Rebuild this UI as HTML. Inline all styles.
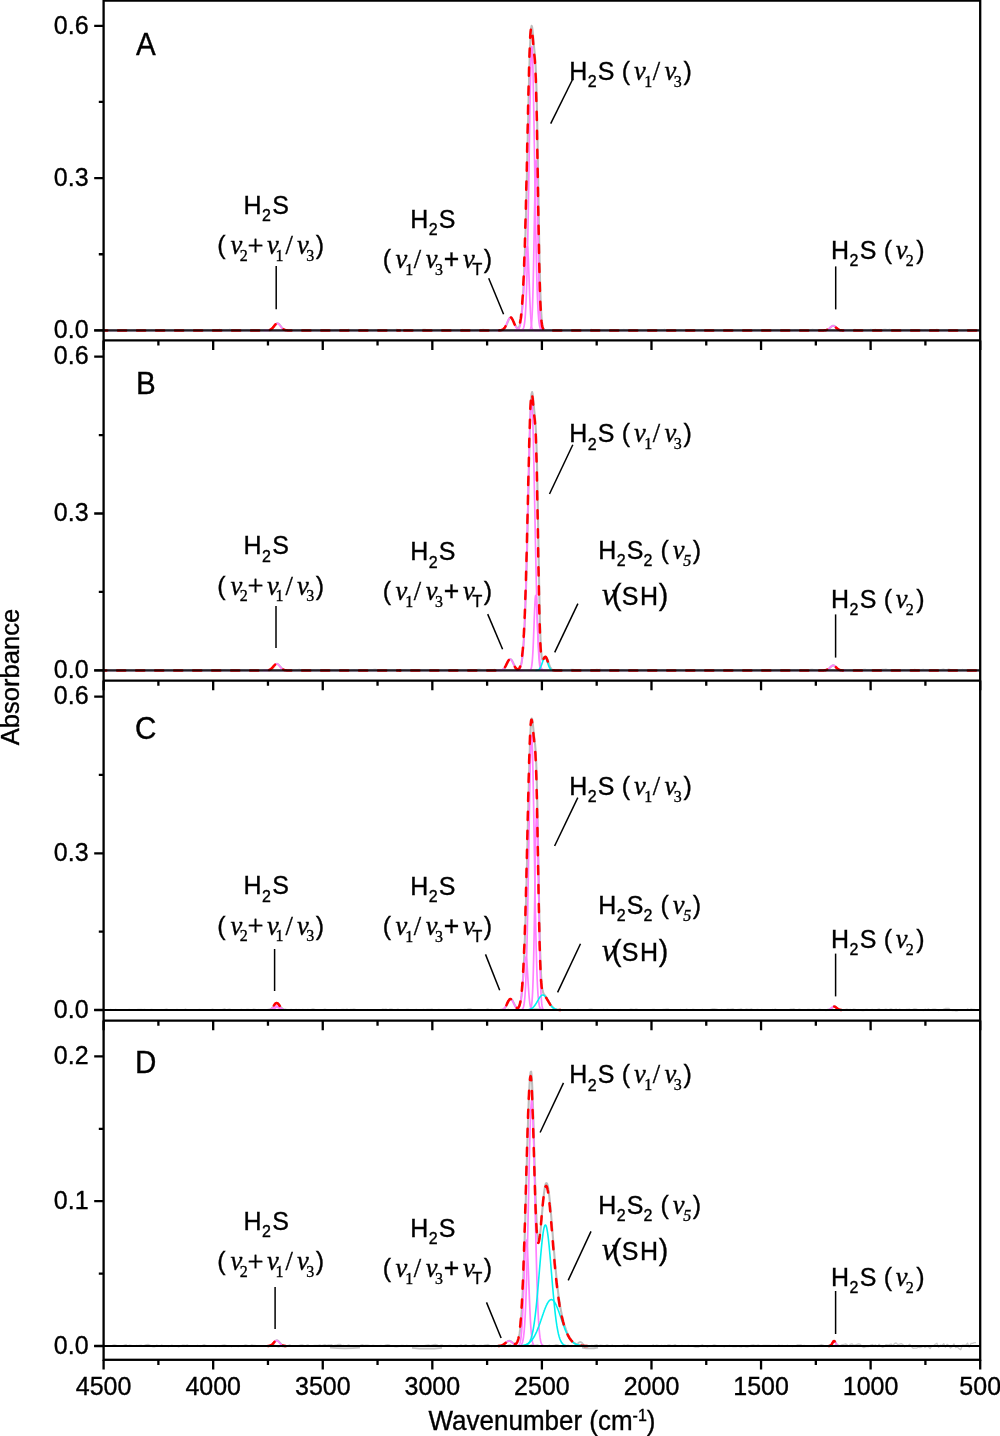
<!DOCTYPE html>
<html lang="en"><head><meta charset="utf-8"><title>Absorbance spectra</title>
<style>html,body{margin:0;padding:0;background:#fff}svg{display:block}</style></head>
<body>
<svg width="1000" height="1436" viewBox="0 0 1000 1436">
<rect width="1000" height="1436" fill="#fff"/>
<g fill="none" stroke-linejoin="round">
<path d="M267.6,330.3 L268.1,330.3 L268.6,330.3 L269.1,330.2 L269.6,330.1 L270.1,329.9 L270.6,329.7 L271.1,329.5 L271.6,329.2 L272.1,328.8 L272.6,328.3 L273.1,327.7 L273.6,327.1 L274.1,326.5 L274.6,325.8 L275.1,325.2 L275.6,324.6 L276.1,324.1 L276.6,323.7 L277.1,323.4 L277.6,323.4 L278.1,323.5 L278.6,323.7 L279.1,324.1 L279.6,324.7 L280.1,325.3 L280.6,325.9 L281.1,326.6 L281.6,327.2 L282.1,327.8 L282.6,328.4 L283.1,328.8 L283.6,329.2 L284.1,329.5 L284.6,329.8 L285.1,330.0 L285.6,330.1 L286.1,330.2 L286.6,330.3 L287.1,330.3 L287.6,330.3 M500.1,330.3 L500.6,330.3 L501.1,330.2 L501.6,330.1 L502.1,330.0 L502.6,329.8 L503.1,329.6 L503.6,329.2 L504.1,328.8 L504.6,328.2 L505.1,327.5 L505.6,326.7 L506.1,325.8 L506.6,324.7 L507.1,323.5 L507.6,322.4 L508.1,321.2 L508.6,320.0 L509.1,319.0 L509.6,318.2 L510.1,317.7 L510.6,317.4 L511.1,317.4 L511.6,317.7 L512.1,318.2 L512.6,319.0 L513.1,320.0 L513.6,321.2 L514.1,322.3 L514.6,323.5 L515.1,324.6 L515.6,325.6 L516.1,326.5 L516.6,327.2 L517.1,327.7 L517.6,327.9 L518.1,327.9 L518.6,327.5 L519.1,326.8 L519.6,325.6 L520.1,323.8 L520.6,321.5 L521.1,318.3 L521.6,314.2 L522.1,309.1 L522.6,302.7 L523.1,294.9 L523.6,285.5 L524.1,274.3 L524.6,261.3 L525.1,246.3 L525.6,229.3 L526.1,210.3 L526.6,189.7 L527.1,167.7 L527.6,144.8 L528.1,121.8 L528.6,99.5 L529.1,78.8 L529.6,60.6 L530.1,45.7 L530.6,34.9 L531.1,28.3 L531.6,25.9 L532.1,27.2 L532.6,31.2 L533.1,36.6 L533.6,42.3 L534.1,47.7 L534.6,52.7 L535.1,58.2 L535.6,65.9 L536.1,77.4 L536.6,94.4 L537.1,117.1 L537.6,144.8 L538.1,175.7 L538.6,207.2 L539.1,236.9 L539.6,262.7 L540.1,283.6 L540.6,299.5 L541.1,310.8 L541.6,318.4 L542.1,323.3 L542.6,326.2 L543.1,328.0 L543.6,329.0 L544.1,329.6 L544.6,330.0 L545.1,330.1 L545.6,330.3 L546.1,330.3 L546.6,330.4 M824.6,330.3 L825.1,330.3 L825.6,330.2 L826.1,330.2 L826.6,330.0 L827.1,329.9 L827.6,329.7 L828.1,329.4 L828.6,329.1 L829.1,328.7 L829.6,328.3 L830.1,327.8 L830.6,327.4 L831.1,326.9 L831.6,326.5 L832.1,326.2 L832.6,325.9 L833.1,325.8 L833.6,325.8 L834.1,325.9 L834.6,326.2 L835.1,326.5 L835.6,326.9 L836.1,327.4 L836.6,327.8 L837.1,328.3 L837.6,328.7 L838.1,329.1 L838.6,329.4 L839.1,329.7 L839.6,329.9 L840.1,330.0 L840.6,330.2 L841.1,330.2 L841.6,330.3 L842.1,330.3" stroke="#bdbdbd" stroke-width="2.1"/>
<path d="M105.6,330.3 L107.3,330.5 L109.0,330.1 L110.7,330.5 L112.4,330.2 L114.1,330.3 L115.8,330.6 L117.5,330.3 L119.2,330.6 L120.9,330.3 L122.6,330.6 L124.3,330.7 L126.0,330.4 L127.7,329.9 L129.4,330.4 L131.1,330.5 L132.8,330.1 L134.5,329.7 L136.2,329.9 L137.9,330.1 L139.6,329.6 L141.3,330.4 L143.0,329.8 L144.7,330.2 L146.4,330.5 L148.1,330.6 L149.8,330.5 L151.5,329.9 L153.2,330.4 L154.9,330.1 L156.6,330.0 L158.3,330.2 L160.0,330.1 L161.7,330.5 L163.4,330.7 L165.1,330.6 L166.8,330.1 L168.5,330.2 L170.2,330.3 L171.9,330.1 L173.6,330.1 L175.3,330.3 L177.0,329.9 L178.7,329.8 L180.4,330.3 L182.1,330.1 L183.8,330.1 L185.5,329.7 L187.2,329.7 L188.9,330.2 L190.6,329.6 L192.3,330.3 L194.0,330.3 L195.7,329.9 L197.4,330.4 L199.1,330.2 L200.8,330.6 L202.5,330.1 L204.2,329.8 L205.9,329.9 L207.6,329.7 L209.3,330.1 L211.0,329.9 L212.7,329.9 L214.4,330.0 L216.1,330.1 L217.8,329.8 L219.5,329.5 L221.2,329.9 L222.9,329.9 L224.6,330.5 L226.3,330.0 L228.0,329.9 L229.7,329.5 L231.4,329.6 L233.1,330.1 L234.8,330.2 L236.5,330.0 L238.2,330.5 L239.9,330.3 L241.6,330.5 L243.3,330.6 L245.0,330.7 L246.7,330.1 L248.4,330.5 L250.1,330.5 L251.8,330.3 L253.5,329.8 L255.2,330.4 L256.9,330.3 L258.6,330.1 L260.3,329.7 L262.0,329.6 L263.7,329.6 L265.4,330.1 L267.1,330.2 L268.8,330.3 L270.5,329.8 L272.2,329.5 L273.9,330.2 L275.6,330.5 L277.3,330.5 L279.0,330.5 L280.7,330.3 L282.4,330.1 L284.1,330.3 L285.8,330.7 L287.5,330.4 L289.2,330.3 L290.9,330.1 L292.6,329.7 L294.3,329.8 L296.0,330.0 L297.7,329.9 L299.4,329.9 L301.1,330.5 L302.8,329.8 L304.5,329.7 L306.2,329.6 L307.9,329.6 L309.6,330.0 L311.3,330.2 L313.0,330.5 L314.7,330.1 L316.4,330.5 L318.1,330.7 L319.8,330.6 L321.5,330.6 L323.2,330.4 L324.9,330.7 L326.6,330.8 L328.3,330.7 L330.0,330.7 L331.7,330.4 L333.4,330.7 L335.1,329.9 L336.8,329.9 L338.5,330.4 L340.2,330.4 L341.9,330.4 L343.6,330.3 L345.3,330.6 L347.0,329.9 L348.7,329.5 L350.4,329.9 L352.1,330.1 L353.8,330.5 L355.5,330.6 L357.2,330.4 L358.9,330.5 L360.6,329.9 L362.3,330.4 L364.0,330.7 L365.7,329.8 L367.4,330.0 L369.1,330.4 L370.8,330.2 L372.5,330.6 L374.2,330.2 L375.9,329.7 L377.6,329.6 L379.3,329.7 L381.0,330.2 L382.7,330.3 L384.4,330.5 L386.1,330.0 L387.8,330.0 L389.5,329.8 L391.2,330.2 L392.9,330.4 L394.6,329.9 L396.3,329.5 L398.0,329.6 L399.7,329.6 L401.4,329.6 L403.1,329.7 L404.8,330.2 L406.5,330.1 L408.2,330.3 L409.9,330.6 L411.6,330.8 L413.3,330.6 L415.0,330.5 L416.7,330.0 L418.4,329.6 L420.1,330.0 L421.8,329.6 L423.5,329.4 L425.2,329.4 L426.9,330.0 L428.6,330.3 L430.3,330.5 L432.0,330.5 L433.7,330.5 L435.4,330.1 L437.1,329.7 L438.8,329.6 L440.5,330.0 L442.2,329.9 L443.9,329.7 L445.6,330.4 L447.3,330.0 L449.0,329.7 L450.7,329.7 L452.4,329.7 L454.1,330.0 L455.8,330.4 L457.5,329.9 L459.2,330.2 L460.9,329.8 L462.6,329.5 L464.3,330.0 L466.0,330.2 L467.7,329.7 L469.4,329.7 L471.1,330.3 L472.8,330.5 L474.5,330.6 L476.2,329.9 L477.9,329.7 L479.6,330.3 L481.3,329.8 L483.0,329.5 L484.7,329.7 L486.4,330.1 L488.1,330.1 L489.8,330.5 L491.5,330.7 L493.2,329.8 L494.9,329.9 L496.6,330.0 L498.3,329.6 L500.0,330.0 L501.7,329.7 L503.4,329.6 L505.1,330.2 L506.8,330.4 L508.5,330.4 L510.2,330.5 L511.9,330.1 L513.6,330.4 L515.3,330.3 L517.0,330.5 L518.7,329.8 L520.4,330.2 L522.1,330.2 L523.8,330.0 L525.5,329.7 L527.2,330.0 L528.9,329.7 L530.6,329.9 L532.3,330.0 L534.0,330.0 L535.7,330.6 L537.4,330.3 L539.1,330.5 L540.8,330.7 L542.5,330.0 L544.2,330.4 L545.9,330.2 L547.6,329.9 L549.3,330.0 L551.0,330.2 L552.7,330.1 L554.4,330.1 L556.1,329.8 L557.8,330.4 L559.5,330.1 L561.2,330.4 L562.9,330.4 L564.6,329.9 L566.3,330.0 L568.0,330.0 L569.7,329.8 L571.4,329.6 L573.1,330.0 L574.8,329.9 L576.5,330.0 L578.2,330.1 L579.9,329.9 L581.6,330.1 L583.3,330.1 L585.0,330.1 L586.7,329.7 L588.4,329.7 L590.1,329.6 L591.8,329.5 L593.5,330.1 L595.2,330.0 L596.9,329.6 L598.6,329.6 L600.3,330.3 L602.0,330.5 L603.7,330.3 L605.4,330.6 L607.1,330.5 L608.8,330.7 L610.5,330.1 L612.2,329.8 L613.9,329.6 L615.6,330.3 L617.3,329.9 L619.0,329.9 L620.7,330.4 L622.4,329.8 L624.1,329.5 L625.8,330.2 L627.5,329.7 L629.2,330.1 L630.9,330.1 L632.6,329.6 L634.3,329.6 L636.0,330.3 L637.7,330.2 L639.4,330.1 L641.1,330.3 L642.8,330.5 L644.5,330.4 L646.2,330.0 L647.9,330.5 L649.6,330.2 L651.3,330.2 L653.0,330.6 L654.7,330.4 L656.4,330.1 L658.1,330.1 L659.8,330.5 L661.5,329.8 L663.2,329.7 L664.9,329.5 L666.6,330.3 L668.3,330.4 L670.0,330.7 L671.7,330.0 L673.4,330.3 L675.1,330.5 L676.8,330.3 L678.5,329.8 L680.2,329.7 L681.9,330.2 L683.6,330.5 L685.3,329.8 L687.0,329.9 L688.7,329.8 L690.4,330.4 L692.1,330.7 L693.8,330.1 L695.5,330.2 L697.2,330.6 L698.9,329.8 L700.6,329.9 L702.3,329.7 L704.0,330.4 L705.7,329.8 L707.4,330.4 L709.1,329.9 L710.8,330.1 L712.5,330.2 L714.2,330.1 L715.9,329.7 L717.6,330.2 L719.3,330.5 L721.0,330.2 L722.7,330.4 L724.4,330.6 L726.1,330.6 L727.8,330.7 L729.5,330.6 L731.2,330.5 L732.9,330.4 L734.6,330.0 L736.3,330.3 L738.0,330.2 L739.7,330.4 L741.4,330.4 L743.1,330.7 L744.8,330.6 L746.5,330.7 L748.2,330.1 L749.9,330.0 L751.6,330.4 L753.3,330.2 L755.0,329.7 L756.7,330.4 L758.4,329.9 L760.1,330.1 L761.8,330.1 L763.5,329.8 L765.2,330.1 L766.9,330.1 L768.6,329.9 L770.3,329.6 L772.0,330.1 L773.7,329.8 L775.4,329.8 L777.1,329.8 L778.8,330.1 L780.5,330.3 L782.2,330.6 L783.9,330.6 L785.6,330.7 L787.3,330.1 L789.0,330.3 L790.7,330.5 L792.4,330.7 L794.1,330.0 L795.8,329.7 L797.5,329.8 L799.2,330.2 L800.9,330.4 L802.6,330.4 L804.3,330.3 L806.0,330.5 L807.7,330.3 L809.4,330.4 L811.1,329.7 L812.8,329.5 L814.5,329.8 L816.2,330.3 L817.9,329.7 L819.6,330.2 L821.3,330.3 L823.0,330.7 L824.7,330.4 L826.4,330.2 L828.1,330.1 L829.8,330.5 L831.5,330.2 L833.2,330.7 L834.9,330.6 L836.6,330.7 L838.3,330.4 L840.0,330.8 L841.7,330.9 L843.4,330.6 L845.1,330.6 L846.8,330.2 L848.5,330.1 L850.2,329.8 L851.9,329.8 L853.6,329.7 L855.3,329.5 L857.0,330.0 L858.7,330.3 L860.4,329.6 L862.1,330.4 L863.8,329.9 L865.5,329.8 L867.2,330.6 L868.9,329.8 L870.6,329.5 L872.3,329.7 L874.0,329.7 L875.7,329.5 L877.4,330.4 L879.1,330.2 L880.8,330.1 L882.5,329.6 L884.2,329.5 L885.9,329.4 L887.6,329.8 L889.3,329.4 L891.0,329.6 L892.7,329.7 L894.4,330.3 L896.1,330.8 L897.8,330.9 L899.5,330.6 L901.2,330.8 L902.9,329.9 L904.6,329.9 L906.3,329.9 L908.0,329.8 L909.7,329.7 L911.4,330.0 L913.1,330.8 L914.8,329.9 L916.5,329.7 L918.2,329.9 L919.9,330.0 L921.6,329.8 L923.3,330.7 L925.0,329.9 L926.7,330.4 L928.4,330.9 L930.1,330.7 L931.8,330.0 L933.5,330.5 L935.2,329.9 L936.9,329.3 L938.6,329.8 L940.3,330.2 L942.0,330.2 L943.7,329.8 L945.4,329.6 L947.1,329.7 L948.8,329.7 L950.5,330.7 L952.2,330.9 L953.9,330.8 L955.6,329.9 L957.3,330.4 L959.0,330.1 L960.7,330.9 L962.4,331.1 L964.1,330.9 L965.8,330.1 L967.5,329.8 L969.2,329.7 L970.9,330.3 L972.6,330.1 L974.3,330.2 L976.0,330.2" stroke="#cbcbcb" stroke-width="1.3"/>
<path d="M103.6,330.4 H980.2" stroke="#c9b3d6" stroke-width="2.5"/>
<path d="M263.8,330.4 L266.8,330.4 L267.0,330.4 L267.2,330.3 L267.4,330.3 L267.6,330.3 L267.8,330.3 L268.0,330.3 L268.2,330.3 L268.4,330.2 L268.6,330.2 L268.8,330.2 L269.0,330.1 L269.2,330.1 L269.4,330.1 L269.6,330.0 L269.8,329.9 L270.0,329.9 L270.2,329.8 L270.4,329.7 L270.6,329.6 L270.8,329.5 L271.0,329.4 L271.2,329.2 L271.4,329.1 L271.6,328.9 L271.8,328.7 L272.0,328.6 L272.2,328.4 L272.4,328.2 L272.6,328.0 L272.8,327.7 L273.0,327.5 L273.2,327.2 L273.4,327.0 L273.6,326.7 L273.8,326.5 L274.0,326.2 L274.2,325.9 L274.4,325.7 L274.6,325.4 L274.8,325.2 L275.0,324.9 L275.2,324.7 L275.4,324.5 L275.6,324.3 L275.8,324.1 L276.0,323.9 L276.2,323.8 L276.4,323.6 L276.6,323.5 L276.8,323.5 L277.0,323.4 L277.2,323.4 L277.4,323.4 L277.6,323.4 L277.8,323.5 L278.0,323.6 L278.2,323.7 L278.4,323.8 L278.6,324.0 L278.8,324.2 L279.0,324.4 L279.2,324.6 L279.4,324.8 L279.6,325.1 L279.8,325.3 L280.0,325.6 L280.2,325.8 L280.4,326.1 L280.6,326.4 L280.8,326.6 L281.0,326.9 L281.2,327.1 L281.4,327.4 L281.6,327.6 L281.8,327.9 L282.0,328.1 L282.2,328.3 L282.4,328.5 L282.6,328.7 L282.8,328.9 L283.0,329.0 L283.2,329.2 L283.4,329.3 L283.6,329.4 L283.8,329.5 L284.0,329.6 L284.2,329.7 L284.4,329.8 L284.6,329.9 L284.8,330.0 L285.0,330.0 L285.2,330.1 L285.4,330.1 L285.6,330.2 L285.8,330.2 L286.0,330.2 L286.2,330.3 L286.4,330.3 L286.6,330.3 L286.8,330.3 L287.0,330.3 L287.2,330.3 L287.4,330.4 L287.6,330.4 L290.6,330.4" stroke="#ff80ff" stroke-width="1.7"/>
<path d="M496.6,330.4 L499.2,330.4 L499.4,330.4 L499.6,330.3 L499.8,330.3 L500.0,330.3 L500.2,330.3 L500.4,330.3 L500.6,330.3 L500.8,330.2 L501.0,330.2 L501.2,330.1 L501.4,330.1 L501.6,330.0 L501.8,330.0 L502.0,329.9 L502.2,329.8 L502.4,329.7 L502.6,329.6 L502.8,329.5 L503.0,329.4 L503.2,329.2 L503.4,329.1 L503.6,328.9 L503.8,328.7 L504.0,328.5 L504.2,328.2 L504.4,328.0 L504.6,327.7 L504.8,327.4 L505.0,327.1 L505.2,326.8 L505.4,326.4 L505.6,326.0 L505.8,325.6 L506.0,325.2 L506.2,324.7 L506.4,324.3 L506.6,323.8 L506.8,323.4 L507.0,322.9 L507.2,322.4 L507.4,321.9 L507.6,321.5 L507.8,321.0 L508.0,320.6 L508.2,320.1 L508.4,319.7 L508.6,319.3 L508.8,318.9 L509.0,318.6 L509.2,318.3 L509.4,318.1 L509.6,317.8 L509.8,317.7 L510.0,317.5 L510.2,317.4 L510.4,317.4 L510.6,317.4 L510.8,317.5 L511.0,317.6 L511.2,317.7 L511.4,317.9 L511.6,318.2 L511.8,318.4 L512.0,318.7 L512.2,319.1 L512.4,319.5 L512.6,319.9 L512.8,320.3 L513.0,320.7 L513.2,321.2 L513.4,321.7 L513.6,322.1 L513.8,322.6 L514.0,323.1 L514.2,323.6 L514.4,324.0 L514.6,324.5 L514.8,324.9 L515.0,325.4 L515.2,325.8 L515.4,326.2 L515.6,326.5 L515.8,326.9 L516.0,327.2 L516.2,327.5 L516.4,327.8 L516.6,328.1 L516.8,328.3 L517.0,328.6 L517.2,328.8 L517.4,329.0 L517.6,329.1 L517.8,329.3 L518.0,329.4 L518.2,329.6 L518.4,329.7 L518.6,329.8 L518.8,329.9 L519.0,329.9 L519.2,330.0 L519.4,330.1 L519.6,330.1 L519.8,330.2 L520.0,330.2 L520.2,330.2 L520.4,330.3 L520.6,330.3 L520.8,330.3 L521.0,330.3 L521.2,330.3 L521.4,330.3 L521.6,330.4 L521.8,330.4 L524.2,330.4" stroke="#ff80ff" stroke-width="1.7"/>
<path d="M514.7,330.4 L515.5,330.4 L515.7,330.4 L515.9,330.3 L516.1,330.3 L516.3,330.3 L516.5,330.3 L516.7,330.2 L516.9,330.2 L517.1,330.1 L517.3,330.1 L517.5,330.0 L517.7,329.9 L517.9,329.8 L518.1,329.6 L518.3,329.5 L518.5,329.3 L518.7,329.0 L518.9,328.7 L519.1,328.4 L519.3,328.0 L519.5,327.5 L519.7,327.0 L519.9,326.4 L520.1,325.7 L520.3,324.9 L520.5,324.0 L520.7,322.9 L520.9,321.8 L521.1,320.5 L521.3,319.0 L521.5,317.4 L521.7,315.7 L521.9,313.8 L522.1,311.7 L522.3,309.5 L522.5,307.0 L522.7,304.5 L522.9,301.7 L523.1,298.9 L523.3,295.9 L523.5,292.7 L523.7,289.5 L523.9,286.2 L524.1,282.8 L524.3,279.5 L524.5,276.1 L524.7,272.7 L524.9,269.4 L525.1,266.2 L525.3,263.1 L525.5,260.2 L525.7,257.5 L525.9,255.1 L526.1,252.9 L526.3,250.9 L526.5,249.3 L526.7,248.1 L526.9,247.1 L527.1,246.6 L527.3,246.4 L527.5,246.9 L527.7,248.4 L527.9,250.9 L528.1,254.3 L528.3,258.4 L528.5,263.1 L528.7,268.3 L528.9,273.8 L529.1,279.5 L529.3,285.1 L529.5,290.6 L529.7,295.9 L529.9,300.8 L530.1,305.3 L530.3,309.5 L530.5,313.1 L530.7,316.3 L530.9,319.0 L531.1,321.4 L531.3,323.3 L531.5,324.9 L531.7,326.2 L531.9,327.2 L532.1,328.0 L532.3,328.6 L532.5,329.1 L532.7,329.5 L532.9,329.7 L533.1,329.9 L533.3,330.1 L533.5,330.2 L533.7,330.2 L533.9,330.3 L534.1,330.3 L534.3,330.4 L534.5,330.4 L539.9,330.4" stroke="#ff80ff" stroke-width="1.7"/>
<path d="M520.5,330.4 L520.7,330.3 L520.9,330.3 L521.1,330.3 L521.3,330.3 L521.5,330.2 L521.7,330.2 L521.9,330.1 L522.1,330.0 L522.3,329.8 L522.5,329.7 L522.7,329.5 L522.9,329.2 L523.1,328.9 L523.3,328.5 L523.5,328.0 L523.7,327.4 L523.9,326.6 L524.1,325.7 L524.3,324.6 L524.5,323.3 L524.7,321.8 L524.9,320.0 L525.1,317.8 L525.3,315.3 L525.5,312.4 L525.7,309.0 L525.9,305.1 L526.1,300.8 L526.3,295.8 L526.5,290.2 L526.7,284.0 L526.9,277.1 L527.1,269.6 L527.3,261.3 L527.5,252.4 L527.7,242.7 L527.9,232.5 L528.1,221.6 L528.3,210.2 L528.5,198.3 L528.7,186.0 L528.9,173.4 L529.1,160.7 L529.3,147.9 L529.5,135.3 L529.7,123.0 L529.9,111.0 L530.1,99.7 L530.3,89.0 L530.5,79.3 L530.7,70.6 L530.9,63.1 L531.1,56.9 L531.3,52.0 L531.5,48.6 L531.7,46.8 L531.9,46.5 L532.1,47.7 L532.3,50.5 L532.5,54.8 L532.7,60.4 L532.9,67.5 L533.1,75.7 L533.3,85.0 L533.5,95.3 L533.7,106.4 L533.9,118.1 L534.1,130.3 L534.3,142.9 L534.5,155.6 L534.7,168.3 L534.9,181.0 L535.1,193.4 L535.3,205.5 L535.5,217.1 L535.7,228.2 L535.9,238.7 L536.1,248.6 L536.3,257.8 L536.5,266.4 L536.7,274.2 L536.9,281.3 L537.1,287.8 L537.3,293.6 L537.5,298.8 L537.7,303.5 L537.9,307.5 L538.1,311.1 L538.3,314.2 L538.5,316.8 L538.7,319.1 L538.9,321.1 L539.1,322.8 L539.3,324.2 L539.5,325.3 L539.7,326.3 L539.9,327.1 L540.1,327.8 L540.3,328.3 L540.5,328.7 L540.7,329.1 L540.9,329.4 L541.1,329.6 L541.3,329.8 L541.5,329.9 L541.7,330.0 L541.9,330.1 L542.1,330.2 L542.3,330.2 L542.5,330.3 L542.7,330.3 L542.9,330.3 L543.1,330.4" stroke="#ff80ff" stroke-width="1.7"/>
<path d="M528.5,330.4 L528.7,330.4 L528.9,330.3 L529.1,330.3 L529.3,330.3 L529.5,330.2 L529.7,330.1 L529.9,329.9 L530.1,329.7 L530.3,329.4 L530.5,329.0 L530.7,328.4 L530.9,327.6 L531.1,326.6 L531.3,325.2 L531.5,323.5 L531.7,321.4 L531.9,318.6 L532.1,315.3 L532.3,311.2 L532.5,306.4 L532.7,300.6 L532.9,294.0 L533.1,286.4 L533.3,277.9 L533.5,268.6 L533.7,258.4 L533.9,247.7 L534.1,236.4 L534.3,225.0 L534.5,213.6 L534.7,202.6 L534.9,192.3 L535.1,182.9 L535.3,174.9 L535.5,168.4 L535.7,163.8 L535.9,161.1 L536.1,160.4 L536.3,161.9 L536.5,165.4 L536.7,170.8 L536.9,177.9 L537.1,186.5 L537.3,196.3 L537.5,207.0 L537.7,218.1 L537.9,229.6 L538.1,241.0 L538.3,252.0 L538.5,262.6 L538.7,272.4 L538.9,281.4 L539.1,289.6 L539.3,296.8 L539.5,303.0 L539.7,308.4 L539.9,312.9 L540.1,316.7 L540.3,319.8 L540.5,322.3 L540.7,324.3 L540.9,325.8 L541.1,327.0 L541.3,327.9 L541.5,328.6 L541.7,329.1 L541.9,329.5 L542.1,329.8 L542.3,330.0 L542.5,330.1 L542.7,330.2 L542.9,330.3 L543.1,330.3 L543.3,330.3 L543.5,330.4" stroke="#ff80ff" stroke-width="1.7"/>
<path d="M820.4,330.4 L823.6,330.4 L823.8,330.4 L824.0,330.3 L824.2,330.3 L824.4,330.3 L824.6,330.3 L824.8,330.3 L825.0,330.3 L825.2,330.2 L825.4,330.2 L825.6,330.2 L825.8,330.1 L826.0,330.1 L826.2,330.0 L826.4,330.0 L826.6,329.9 L826.8,329.9 L827.0,329.8 L827.2,329.7 L827.4,329.6 L827.6,329.5 L827.8,329.4 L828.0,329.3 L828.2,329.1 L828.4,329.0 L828.6,328.8 L828.8,328.7 L829.0,328.5 L829.2,328.3 L829.4,328.2 L829.6,328.0 L829.8,327.8 L830.0,327.6 L830.2,327.4 L830.4,327.2 L830.6,327.1 L830.8,326.9 L831.0,326.7 L831.2,326.6 L831.4,326.4 L831.6,326.3 L831.8,326.2 L832.0,326.0 L832.2,326.0 L832.4,325.9 L832.6,325.8 L832.8,325.8 L833.0,325.8 L833.2,325.8 L833.4,325.8 L833.6,325.9 L833.8,326.0 L834.0,326.0 L834.2,326.2 L834.4,326.3 L834.6,326.4 L834.8,326.6 L835.0,326.7 L835.2,326.9 L835.4,327.1 L835.6,327.2 L835.8,327.4 L836.0,327.6 L836.2,327.8 L836.4,328.0 L836.6,328.2 L836.8,328.3 L837.0,328.5 L837.2,328.7 L837.4,328.8 L837.6,329.0 L837.8,329.1 L838.0,329.3 L838.2,329.4 L838.4,329.5 L838.6,329.6 L838.8,329.7 L839.0,329.8 L839.2,329.9 L839.4,329.9 L839.6,330.0 L839.8,330.0 L840.0,330.1 L840.2,330.1 L840.4,330.2 L840.6,330.2 L840.8,330.2 L841.0,330.3 L841.2,330.3 L841.4,330.3 L841.6,330.3 L841.8,330.3 L842.0,330.3 L842.2,330.4 L842.4,330.4 L845.6,330.4" stroke="#ff80ff" stroke-width="1.7"/>
<path d="M103.6,330.4 L266.9,330.4 L267.1,330.4 L267.4,330.3 L267.6,330.3 L267.9,330.3 L268.1,330.3 L268.4,330.2 L268.6,330.2 L268.9,330.2 L269.1,330.1 L269.4,330.1 L269.6,330.0 L269.9,329.9 L270.1,329.8 L270.4,329.7 L270.6,329.6 L270.9,329.4 L271.1,329.3 L271.4,329.1 L271.6,328.9 L271.9,328.7 L272.1,328.4 L272.4,328.2 L272.6,327.9 L272.9,327.6 L273.1,327.3 L273.4,327.0 L273.6,326.7 L273.9,326.4 L274.1,326.0 L274.4,325.7 L274.6,325.4 L274.9,325.1 L275.1,324.8 L275.4,324.5 L275.6,324.2 L275.9,324.0 L276.1,323.8 L276.4,323.6 L276.6,323.5 L276.9,323.4 L277.1,323.4 L277.4,323.4 L277.6,323.5 L277.9,323.5 L278.1,323.7 L278.4,323.8 L278.6,324.0 L278.9,324.3 L279.1,324.5 L279.4,324.8 L279.6,325.1 L279.9,325.4 L280.1,325.8 L280.4,326.1 L280.6,326.4 L280.9,326.7 L281.1,327.1 L281.4,327.4 L281.6,327.7 L281.9,328.0 L282.1,328.2 L282.4,328.5 L282.6,328.7 L282.9,328.9 L283.1,329.1 L283.4,329.3 L283.6,329.5 L283.9,329.6 L284.1,329.7 L284.4,329.8 L284.6,329.9 L284.9,330.0 L285.1,330.1 L285.4,330.1 L285.6,330.2 L285.9,330.2 L286.1,330.3 L286.4,330.3 L286.6,330.3 L286.9,330.3 L287.1,330.3 L287.4,330.4 L287.6,330.4 L399.9,330.4" stroke="#ff0000" stroke-width="2.5" stroke-linecap="round" stroke-dasharray="8.2 10.8" stroke-dashoffset="4.6"/>
<path d="M400.0,330.4 L499.2,330.4 L499.5,330.3 L499.8,330.3 L500.0,330.3 L500.2,330.3 L500.5,330.3 L500.8,330.2 L501.0,330.2 L501.2,330.1 L501.5,330.1 L501.8,330.0 L502.0,329.9 L502.2,329.8 L502.5,329.7 L502.8,329.6 L503.0,329.4 L503.2,329.2 L503.5,329.0 L503.8,328.8 L504.0,328.5 L504.2,328.2 L504.5,327.9 L504.8,327.6 L505.0,327.2 L505.2,326.7 L505.5,326.3 L505.8,325.8 L506.0,325.3 L506.2,324.7 L506.5,324.2 L506.8,323.6 L507.0,323.0 L507.2,322.4 L507.5,321.8 L507.8,321.2 L508.0,320.6 L508.2,320.1 L508.5,319.6 L508.8,319.1 L509.0,318.7 L509.2,318.3 L509.5,318.0 L509.8,317.7 L510.0,317.5 L510.2,317.4 L510.5,317.4 L510.8,317.4 L511.0,317.5 L511.2,317.7 L511.5,318.0 L511.8,318.3 L512.0,318.7 L512.2,319.1 L512.5,319.6 L512.8,320.1 L513.0,320.6 L513.2,321.2 L513.5,321.8 L513.8,322.4 L514.0,323.0 L514.2,323.5 L514.5,324.1 L514.8,324.7 L515.0,325.2 L515.2,325.7 L515.5,326.1 L515.8,326.5 L516.0,326.9 L516.2,327.2 L516.5,327.5 L516.8,327.7 L517.0,327.8 L517.2,327.9 L517.5,327.9 L517.8,327.9 L518.0,327.7 L518.2,327.5 L518.5,327.2 L518.8,326.8 L519.0,326.2 L519.2,325.6 L519.5,324.8 L519.8,323.9 L520.0,322.8 L520.2,321.5 L520.5,320.0 L520.8,318.4 L521.0,316.4 L521.2,314.3 L521.5,311.9 L521.8,309.2 L522.0,306.2 L522.2,302.8 L522.5,299.1 L522.8,295.0 L523.0,290.6 L523.2,285.7 L523.5,280.4 L523.8,274.6 L524.0,268.4 L524.2,261.6 L524.5,254.4 L524.8,246.7 L525.0,238.5 L525.2,229.8 L525.5,220.6 L525.8,210.9 L526.0,200.8 L526.2,190.4 L526.5,179.6 L526.8,168.5 L527.0,157.2 L527.2,145.7 L527.5,134.3 L527.8,122.9 L528.0,111.6 L528.2,100.7 L528.5,90.1 L528.8,80.1 L529.0,70.6 L529.2,61.9 L529.5,54.1 L529.8,47.2 L530.0,41.2 L530.2,36.3 L530.5,32.5 L530.8,29.8 L531.0,28.1 L531.2,27.5 L531.5,27.7 L531.8,28.7 L532.0,30.4 L532.2,32.6 L532.5,35.2 L532.8,38.0 L533.0,40.9 L533.2,43.8 L533.5,46.5 L533.8,49.1 L534.0,51.6 L534.2,54.1 L534.5,56.7 L534.8,59.6 L535.0,63.0 L535.2,67.2 L535.5,72.3 L535.8,78.7 L536.0,86.4 L536.2,95.5 L536.5,106.1 L536.8,118.1 L537.0,131.4 L537.2,145.8 L537.5,160.9 L537.8,176.5 L538.0,192.3 L538.2,207.8 L538.5,223.0 L538.8,237.3 L539.0,250.7 L539.2,263.0 L539.5,274.1 L539.8,283.9 L540.0,292.4 L540.2,299.6 L540.5,305.8 L540.8,310.9 L541.0,315.1 L541.2,318.5 L541.5,321.2 L541.8,323.3 L542.0,325.0 L542.2,326.3 L542.5,327.3 L542.8,328.0 L543.0,328.6 L543.2,329.0 L543.5,329.4 L543.8,329.6 L544.0,329.8 L544.2,330.0 L544.5,330.1 L544.8,330.1 L545.0,330.2 L545.2,330.3 L545.5,330.3 L545.8,330.3 L546.0,330.3 L546.2,330.4 L546.5,330.4 L823.8,330.4 L824.0,330.3 L824.2,330.3 L824.5,330.3 L824.8,330.3 L825.0,330.3 L825.2,330.2 L825.5,330.2 L825.8,330.2 L826.0,330.1 L826.2,330.0 L826.5,330.0 L826.8,329.9 L827.0,329.8 L827.2,329.7 L827.5,329.5 L827.8,329.4 L828.0,329.3 L828.2,329.1 L828.5,328.9 L828.8,328.7 L829.0,328.5 L829.2,328.3 L829.5,328.1 L829.8,327.8 L830.0,327.6 L830.2,327.4 L830.5,327.1 L830.8,326.9 L831.0,326.7 L831.2,326.5 L831.5,326.3 L831.8,326.2 L832.0,326.0 L832.2,325.9 L832.5,325.9 L832.8,325.8 L833.0,325.8 L833.2,325.8 L833.5,325.9 L833.8,325.9 L834.0,326.0 L834.2,326.2 L834.5,326.3 L834.8,326.5 L835.0,326.7 L835.2,326.9 L835.5,327.1 L835.8,327.4 L836.0,327.6 L836.2,327.8 L836.5,328.1 L836.8,328.3 L837.0,328.5 L837.2,328.7 L837.5,328.9 L837.8,329.1 L838.0,329.3 L838.2,329.4 L838.5,329.5 L838.8,329.7 L839.0,329.8 L839.2,329.9 L839.5,330.0 L839.8,330.0 L840.0,330.1 L840.2,330.2 L840.5,330.2 L840.8,330.2 L841.0,330.3 L841.2,330.3 L841.5,330.3 L841.8,330.3 L842.0,330.3 L842.2,330.4 L980.0,330.4" stroke="#ff0000" stroke-width="2.5" stroke-linecap="round" stroke-dasharray="8.2 10.8" stroke-dashoffset="14.8"/>
<path d="M94.19999999999999,330.4 H980.2" stroke="#000" stroke-width="2.3" stroke-opacity="0.84"/>
</g>
<g fill="none" stroke-linejoin="round">
<path d="M267.1,670.3 L267.6,670.3 L268.1,670.3 L268.6,670.2 L269.1,670.1 L269.6,669.9 L270.1,669.7 L270.6,669.5 L271.1,669.2 L271.6,668.8 L272.1,668.3 L272.6,667.8 L273.1,667.2 L273.6,666.6 L274.1,666.0 L274.6,665.4 L275.1,664.9 L275.6,664.4 L276.1,664.1 L276.6,663.9 L277.1,663.9 L277.6,664.0 L278.1,664.3 L278.6,664.7 L279.1,665.2 L279.6,665.8 L280.1,666.4 L280.6,667.0 L281.1,667.6 L281.6,668.1 L282.1,668.6 L282.6,669.0 L283.1,669.4 L283.6,669.6 L284.1,669.9 L284.6,670.0 L285.1,670.1 L285.6,670.2 L286.1,670.3 L286.6,670.3 L287.1,670.4 M500.1,670.3 L500.6,670.3 L501.1,670.2 L501.6,670.1 L502.1,670.0 L502.6,669.8 L503.1,669.5 L503.6,669.2 L504.1,668.7 L504.6,668.2 L505.1,667.5 L505.6,666.7 L506.1,665.7 L506.6,664.7 L507.1,663.7 L507.6,662.6 L508.1,661.6 L508.6,660.7 L509.1,660.0 L509.6,659.4 L510.1,659.2 L510.6,659.2 L511.1,659.4 L511.6,660.0 L512.1,660.7 L512.6,661.6 L513.1,662.6 L513.6,663.7 L514.1,664.7 L514.6,665.7 L515.1,666.6 L515.6,667.4 L516.1,668.1 L516.6,668.6 L517.1,669.0 L517.6,669.3 L518.1,669.4 L518.6,669.3 L519.1,669.0 L519.6,668.4 L520.1,667.6 L520.6,666.3 L521.1,664.5 L521.6,662.1 L522.1,658.9 L522.6,654.8 L523.1,649.5 L523.6,643.0 L524.1,635.0 L524.6,625.3 L525.1,613.8 L525.6,600.3 L526.1,584.8 L526.6,567.3 L527.1,548.0 L527.6,527.1 L528.1,505.3 L528.6,483.1 L529.1,461.5 L529.6,441.4 L530.1,423.8 L530.6,409.6 L531.1,399.5 L531.6,393.7 L532.1,392.1 L532.6,394.0 L533.1,398.3 L533.6,403.7 L534.1,409.1 L534.6,414.1 L535.1,419.0 L535.6,425.2 L536.1,434.6 L536.6,449.0 L537.1,469.2 L537.6,494.8 L538.1,524.0 L538.6,554.2 L539.1,582.7 L539.6,607.3 L540.1,626.8 L540.6,641.0 L541.1,650.5 L541.6,656.1 L542.1,659.0 L542.6,660.0 L543.1,659.9 L543.6,659.2 L544.1,658.3 L544.6,657.5 L545.1,656.9 L545.6,656.7 L546.1,657.0 L546.6,657.6 L547.1,658.6 L547.6,659.9 L548.1,661.4 L548.6,662.9 L549.1,664.4 L549.6,665.7 L550.1,666.9 L550.6,667.9 L551.1,668.6 L551.6,669.2 L552.1,669.6 L552.6,669.9 L553.1,670.1 L553.6,670.2 L554.1,670.3 L554.6,670.3 M824.1,670.4 L824.6,670.3 L825.1,670.3 L825.6,670.2 L826.1,670.1 L826.6,670.0 L827.1,669.8 L827.6,669.6 L828.1,669.3 L828.6,669.0 L829.1,668.6 L829.6,668.1 L830.1,667.6 L830.6,667.1 L831.1,666.6 L831.6,666.2 L832.1,665.8 L832.6,665.5 L833.1,665.4 L833.6,665.4 L834.1,665.5 L834.6,665.8 L835.1,666.2 L835.6,666.6 L836.1,667.1 L836.6,667.6 L837.1,668.1 L837.6,668.6 L838.1,669.0 L838.6,669.3 L839.1,669.6 L839.6,669.8 L840.1,670.0 L840.6,670.1 L841.1,670.2 L841.6,670.3 L842.1,670.3 L842.6,670.4" stroke="#bdbdbd" stroke-width="2.1"/>
<path d="M105.6,670.4 L107.3,669.7 L109.0,670.3 L110.7,670.0 L112.4,670.5 L114.1,670.5 L115.8,669.7 L117.5,670.3 L119.2,670.0 L120.9,670.1 L122.6,670.2 L124.3,670.1 L126.0,670.4 L127.7,669.9 L129.4,670.4 L131.1,670.5 L132.8,670.7 L134.5,670.5 L136.2,670.3 L137.9,669.8 L139.6,670.1 L141.3,670.5 L143.0,670.5 L144.7,669.7 L146.4,670.4 L148.1,670.1 L149.8,670.2 L151.5,670.0 L153.2,670.2 L154.9,670.0 L156.6,670.1 L158.3,669.9 L160.0,669.6 L161.7,669.9 L163.4,670.4 L165.1,670.6 L166.8,669.8 L168.5,670.0 L170.2,670.4 L171.9,669.8 L173.6,669.9 L175.3,669.8 L177.0,669.6 L178.7,670.1 L180.4,670.3 L182.1,669.8 L183.8,670.4 L185.5,669.9 L187.2,670.4 L188.9,670.0 L190.6,669.9 L192.3,669.6 L194.0,669.6 L195.7,669.9 L197.4,670.3 L199.1,670.5 L200.8,670.2 L202.5,670.1 L204.2,670.5 L205.9,669.9 L207.6,670.0 L209.3,669.9 L211.0,670.3 L212.7,670.4 L214.4,670.7 L216.1,670.5 L217.8,670.5 L219.5,670.3 L221.2,670.3 L222.9,669.8 L224.6,669.6 L226.3,670.3 L228.0,670.3 L229.7,670.5 L231.4,670.1 L233.1,669.6 L234.8,670.2 L236.5,669.9 L238.2,670.2 L239.9,670.6 L241.6,670.0 L243.3,670.2 L245.0,670.5 L246.7,670.3 L248.4,670.4 L250.1,670.3 L251.8,670.2 L253.5,670.2 L255.2,670.1 L256.9,670.3 L258.6,670.6 L260.3,670.7 L262.0,670.7 L263.7,670.3 L265.4,670.3 L267.1,669.9 L268.8,670.0 L270.5,669.9 L272.2,669.5 L273.9,670.3 L275.6,670.7 L277.3,670.7 L279.0,670.4 L280.7,670.1 L282.4,669.9 L284.1,670.2 L285.8,669.7 L287.5,670.4 L289.2,669.9 L290.9,670.3 L292.6,669.8 L294.3,670.5 L296.0,669.8 L297.7,669.7 L299.4,669.5 L301.1,669.8 L302.8,670.3 L304.5,669.7 L306.2,670.0 L307.9,670.5 L309.6,670.1 L311.3,670.1 L313.0,670.1 L314.7,670.5 L316.4,670.6 L318.1,670.2 L319.8,670.2 L321.5,670.5 L323.2,670.3 L324.9,669.9 L326.6,669.8 L328.3,670.0 L330.0,670.2 L331.7,670.3 L333.4,670.4 L335.1,670.5 L336.8,670.3 L338.5,670.6 L340.2,670.0 L341.9,669.9 L343.6,669.9 L345.3,670.5 L347.0,670.4 L348.7,670.3 L350.4,670.6 L352.1,669.8 L353.8,669.7 L355.5,670.0 L357.2,669.8 L358.9,670.3 L360.6,670.4 L362.3,670.2 L364.0,669.9 L365.7,669.9 L367.4,670.5 L369.1,670.1 L370.8,669.7 L372.5,669.7 L374.2,669.5 L375.9,669.4 L377.6,670.1 L379.3,670.3 L381.0,670.1 L382.7,669.6 L384.4,670.1 L386.1,669.6 L387.8,669.6 L389.5,669.9 L391.2,669.9 L392.9,669.6 L394.6,669.6 L396.3,670.1 L398.0,669.8 L399.7,670.3 L401.4,670.3 L403.1,669.7 L404.8,669.6 L406.5,670.1 L408.2,670.3 L409.9,670.1 L411.6,669.7 L413.3,669.8 L415.0,669.6 L416.7,669.7 L418.4,669.6 L420.1,669.8 L421.8,670.1 L423.5,670.2 L425.2,670.1 L426.9,670.1 L428.6,669.8 L430.3,670.2 L432.0,670.6 L433.7,670.0 L435.4,670.3 L437.1,670.3 L438.8,670.5 L440.5,669.9 L442.2,670.3 L443.9,670.4 L445.6,669.9 L447.3,670.0 L449.0,670.3 L450.7,669.8 L452.4,670.1 L454.1,670.2 L455.8,669.7 L457.5,669.7 L459.2,669.7 L460.9,670.2 L462.6,669.8 L464.3,669.9 L466.0,669.7 L467.7,670.1 L469.4,669.8 L471.1,669.7 L472.8,670.1 L474.5,669.9 L476.2,669.8 L477.9,669.5 L479.6,669.5 L481.3,669.6 L483.0,670.3 L484.7,670.1 L486.4,669.9 L488.1,670.4 L489.8,670.3 L491.5,669.8 L493.2,669.6 L494.9,669.5 L496.6,670.3 L498.3,670.1 L500.0,669.7 L501.7,669.8 L503.4,670.2 L505.1,670.6 L506.8,669.9 L508.5,669.7 L510.2,669.8 L511.9,670.1 L513.6,669.8 L515.3,669.7 L517.0,669.7 L518.7,669.9 L520.4,670.2 L522.1,670.3 L523.8,670.3 L525.5,670.4 L527.2,670.2 L528.9,670.5 L530.6,670.0 L532.3,670.2 L534.0,670.5 L535.7,670.5 L537.4,670.3 L539.1,670.3 L540.8,669.9 L542.5,670.4 L544.2,670.5 L545.9,670.4 L547.6,670.5 L549.3,670.0 L551.0,670.5 L552.7,670.7 L554.4,670.2 L556.1,669.9 L557.8,669.7 L559.5,669.9 L561.2,670.2 L562.9,669.8 L564.6,669.7 L566.3,670.0 L568.0,670.0 L569.7,669.6 L571.4,669.4 L573.1,669.4 L574.8,670.2 L576.5,670.3 L578.2,670.3 L579.9,670.5 L581.6,670.0 L583.3,670.5 L585.0,669.9 L586.7,669.9 L588.4,669.9 L590.1,670.1 L591.8,669.7 L593.5,669.9 L595.2,669.6 L596.9,669.5 L598.6,669.7 L600.3,669.5 L602.0,669.9 L603.7,670.2 L605.4,669.8 L607.1,670.0 L608.8,670.2 L610.5,670.0 L612.2,670.1 L613.9,670.5 L615.6,669.9 L617.3,670.0 L619.0,669.6 L620.7,669.9 L622.4,669.6 L624.1,670.1 L625.8,670.4 L627.5,670.2 L629.2,669.9 L630.9,669.7 L632.6,669.8 L634.3,670.4 L636.0,670.3 L637.7,670.6 L639.4,670.4 L641.1,669.8 L642.8,670.1 L644.5,669.9 L646.2,669.9 L647.9,670.4 L649.6,670.0 L651.3,670.5 L653.0,670.6 L654.7,670.2 L656.4,670.5 L658.1,669.8 L659.8,670.1 L661.5,670.0 L663.2,669.6 L664.9,670.3 L666.6,669.7 L668.3,670.4 L670.0,670.1 L671.7,669.9 L673.4,669.6 L675.1,670.1 L676.8,669.6 L678.5,669.8 L680.2,670.0 L681.9,670.4 L683.6,670.5 L685.3,670.4 L687.0,670.3 L688.7,670.3 L690.4,669.9 L692.1,670.1 L693.8,670.0 L695.5,670.5 L697.2,670.6 L698.9,670.1 L700.6,669.7 L702.3,670.1 L704.0,670.6 L705.7,670.5 L707.4,670.4 L709.1,670.3 L710.8,670.1 L712.5,670.3 L714.2,670.0 L715.9,669.8 L717.6,669.7 L719.3,669.7 L721.0,669.9 L722.7,670.3 L724.4,669.8 L726.1,670.2 L727.8,669.8 L729.5,670.0 L731.2,669.9 L732.9,670.0 L734.6,669.9 L736.3,670.2 L738.0,670.1 L739.7,669.8 L741.4,670.2 L743.1,670.0 L744.8,670.1 L746.5,670.1 L748.2,670.2 L749.9,670.1 L751.6,669.9 L753.3,670.4 L755.0,670.5 L756.7,669.9 L758.4,670.5 L760.1,669.9 L761.8,669.8 L763.5,670.3 L765.2,670.0 L766.9,670.3 L768.6,669.8 L770.3,670.3 L772.0,670.6 L773.7,670.7 L775.4,670.1 L777.1,670.4 L778.8,670.4 L780.5,669.7 L782.2,669.7 L783.9,669.7 L785.6,669.9 L787.3,669.9 L789.0,670.5 L790.7,669.9 L792.4,670.2 L794.1,669.8 L795.8,670.1 L797.5,669.7 L799.2,670.5 L800.9,669.7 L802.6,670.4 L804.3,670.2 L806.0,670.1 L807.7,669.6 L809.4,669.7 L811.1,669.5 L812.8,669.4 L814.5,670.0 L816.2,670.4 L817.9,670.6 L819.6,670.0 L821.3,669.6 L823.0,669.7 L824.7,670.1 L826.4,670.0 L828.1,669.9 L829.8,670.3 L831.5,670.0 L833.2,670.4 L834.9,670.7 L836.6,670.8 L838.3,670.4 L840.0,670.0 L841.7,670.4 L843.4,670.3 L845.1,669.9 L846.8,670.3 L848.5,670.2 L850.2,670.0 L851.9,670.2 L853.6,670.5 L855.3,670.0 L857.0,669.8 L858.7,670.4 L860.4,669.8 L862.1,669.8 L863.8,669.5 L865.5,669.5 L867.2,669.9 L868.9,669.8 L870.6,670.2 L872.3,669.9 L874.0,670.6 L875.7,670.5 L877.4,670.2 L879.1,669.6 L880.8,669.7 L882.5,669.4 L884.2,669.3 L885.9,669.2 L887.6,669.6 L889.3,669.8 L891.0,670.0 L892.7,670.5 L894.4,669.8 L896.1,669.8 L897.8,670.5 L899.5,670.6 L901.2,670.7 L902.9,670.0 L904.6,669.9 L906.3,670.5 L908.0,670.0 L909.7,670.0 L911.4,670.4 L913.1,670.3 L914.8,669.4 L916.5,670.4 L918.2,670.6 L919.9,670.1 L921.6,669.6 L923.3,669.3 L925.0,670.0 L926.7,669.6 L928.4,670.5 L930.1,670.4 L931.8,669.7 L933.5,669.7 L935.2,670.0 L936.9,669.9 L938.6,670.1 L940.3,670.0 L942.0,669.4 L943.7,669.1 L945.4,670.2 L947.1,669.7 L948.8,669.2 L950.5,669.6 L952.2,669.9 L953.9,670.3 L955.6,670.2 L957.3,670.0 L959.0,669.9 L960.7,670.7 L962.4,669.4 L964.1,670.3 L965.8,670.1 L967.5,670.6 L969.2,670.1 L970.9,670.8 L972.6,670.6 L974.3,670.5 L976.0,670.6" stroke="#cbcbcb" stroke-width="1.3"/>
<path d="M103.6,670.4 H980.2" stroke="#c9b3d6" stroke-width="2.5"/>
<path d="M263.2,670.4 L266.4,670.4 L266.6,670.4 L266.8,670.3 L267.0,670.3 L267.2,670.3 L267.4,670.3 L267.6,670.3 L267.8,670.3 L268.0,670.2 L268.2,670.2 L268.4,670.2 L268.6,670.1 L268.8,670.1 L269.0,670.0 L269.2,670.0 L269.4,669.9 L269.6,669.8 L269.8,669.7 L270.0,669.6 L270.2,669.5 L270.4,669.4 L270.6,669.3 L270.8,669.2 L271.0,669.0 L271.2,668.9 L271.4,668.7 L271.6,668.5 L271.8,668.3 L272.0,668.1 L272.2,667.9 L272.4,667.7 L272.6,667.5 L272.8,667.2 L273.0,667.0 L273.2,666.8 L273.4,666.5 L273.6,666.3 L273.8,666.0 L274.0,665.8 L274.2,665.5 L274.4,665.3 L274.6,665.1 L274.8,664.9 L275.0,664.7 L275.2,664.5 L275.4,664.4 L275.6,664.2 L275.8,664.1 L276.0,664.0 L276.2,664.0 L276.4,663.9 L276.6,663.9 L276.8,663.9 L277.0,663.9 L277.2,664.0 L277.4,664.1 L277.6,664.2 L277.8,664.3 L278.0,664.5 L278.2,664.6 L278.4,664.8 L278.6,665.0 L278.8,665.2 L279.0,665.4 L279.2,665.7 L279.4,665.9 L279.6,666.2 L279.8,666.4 L280.0,666.7 L280.2,666.9 L280.4,667.1 L280.6,667.4 L280.8,667.6 L281.0,667.8 L281.2,668.0 L281.4,668.2 L281.6,668.4 L281.8,668.6 L282.0,668.8 L282.2,669.0 L282.4,669.1 L282.6,669.3 L282.8,669.4 L283.0,669.5 L283.2,669.6 L283.4,669.7 L283.6,669.8 L283.8,669.9 L284.0,669.9 L284.2,670.0 L284.4,670.1 L284.6,670.1 L284.8,670.1 L285.0,670.2 L285.2,670.2 L285.4,670.2 L285.6,670.3 L285.8,670.3 L286.0,670.3 L286.2,670.3 L286.4,670.3 L286.6,670.3 L286.8,670.4 L287.0,670.4 L290.0,670.4" stroke="#ff80ff" stroke-width="1.7"/>
<path d="M496.6,670.4 L499.2,670.4 L499.4,670.4 L499.6,670.3 L499.8,670.3 L500.0,670.3 L500.2,670.3 L500.4,670.3 L500.6,670.3 L500.8,670.2 L501.0,670.2 L501.2,670.2 L501.4,670.1 L501.6,670.1 L501.8,670.0 L502.0,669.9 L502.2,669.8 L502.4,669.8 L502.6,669.6 L502.8,669.5 L503.0,669.4 L503.2,669.3 L503.4,669.1 L503.6,668.9 L503.8,668.7 L504.0,668.5 L504.2,668.3 L504.4,668.0 L504.6,667.8 L504.8,667.5 L505.0,667.2 L505.2,666.8 L505.4,666.5 L505.6,666.1 L505.8,665.7 L506.0,665.4 L506.2,664.9 L506.4,664.5 L506.6,664.1 L506.8,663.7 L507.0,663.3 L507.2,662.8 L507.4,662.4 L507.6,662.0 L507.8,661.6 L508.0,661.3 L508.2,660.9 L508.4,660.6 L508.6,660.3 L508.8,660.0 L509.0,659.8 L509.2,659.6 L509.4,659.4 L509.6,659.3 L509.8,659.2 L510.0,659.2 L510.2,659.2 L510.4,659.3 L510.6,659.4 L510.8,659.5 L511.0,659.7 L511.2,659.9 L511.4,660.2 L511.6,660.5 L511.8,660.8 L512.0,661.1 L512.2,661.5 L512.4,661.9 L512.6,662.3 L512.8,662.7 L513.0,663.1 L513.2,663.5 L513.4,663.9 L513.6,664.4 L513.8,664.8 L514.0,665.2 L514.2,665.6 L514.4,666.0 L514.6,666.3 L514.8,666.7 L515.0,667.0 L515.2,667.3 L515.4,667.6 L515.6,667.9 L515.8,668.2 L516.0,668.4 L516.2,668.6 L516.4,668.8 L516.6,669.0 L516.8,669.2 L517.0,669.3 L517.2,669.5 L517.4,669.6 L517.6,669.7 L517.8,669.8 L518.0,669.9 L518.2,670.0 L518.4,670.0 L518.6,670.1 L518.8,670.1 L519.0,670.2 L519.2,670.2 L519.4,670.2 L519.6,670.3 L519.8,670.3 L520.0,670.3 L520.2,670.3 L520.4,670.3 L520.6,670.4 L520.8,670.4 L523.4,670.4" stroke="#ff80ff" stroke-width="1.7"/>
<path d="M516.0,670.4 L516.2,670.4 L516.4,670.3 L516.6,670.3 L516.8,670.3 L517.0,670.3 L517.2,670.3 L517.4,670.2 L517.6,670.2 L517.8,670.1 L518.0,670.1 L518.2,670.0 L518.4,669.9 L518.6,669.8 L518.8,669.7 L519.0,669.5 L519.2,669.4 L519.4,669.2 L519.6,668.9 L519.8,668.6 L520.0,668.3 L520.2,667.9 L520.4,667.5 L520.6,667.0 L520.8,666.4 L521.0,665.7 L521.2,665.0 L521.4,664.1 L521.6,663.1 L521.8,662.0 L522.0,660.7 L522.2,659.2 L522.4,657.6 L522.6,655.8 L522.8,653.8 L523.0,651.6 L523.2,649.1 L523.4,646.4 L523.6,643.4 L523.8,640.1 L524.0,636.5 L524.2,632.7 L524.4,628.4 L524.6,623.9 L524.8,619.0 L525.0,613.8 L525.2,608.2 L525.4,602.3 L525.6,596.0 L525.8,589.3 L526.0,582.4 L526.2,575.1 L526.4,567.5 L526.6,559.7 L526.8,551.6 L527.0,543.2 L527.2,534.7 L527.4,526.0 L527.6,517.2 L527.8,508.4 L528.0,499.6 L528.2,490.8 L528.4,482.0 L528.6,473.5 L528.8,465.2 L529.0,457.1 L529.2,449.3 L529.4,442.0 L529.6,435.1 L529.8,428.7 L530.0,422.8 L530.2,417.5 L530.4,412.9 L530.6,409.0 L530.8,405.7 L531.0,403.3 L531.2,401.5 L531.4,400.6 L531.6,400.4 L531.8,401.3 L532.0,403.2 L532.2,406.1 L532.4,410.0 L532.6,414.8 L532.8,420.5 L533.0,427.1 L533.2,434.4 L533.4,442.4 L533.6,450.9 L533.8,460.0 L534.0,469.5 L534.2,479.3 L534.4,489.3 L534.6,499.5 L534.8,509.7 L535.0,519.9 L535.2,530.0 L535.4,540.0 L535.6,549.7 L535.8,559.1 L536.0,568.2 L536.2,576.9 L536.4,585.2 L536.6,593.1 L536.8,600.5 L537.0,607.4 L537.2,613.9 L537.4,619.9 L537.6,625.5 L537.8,630.6 L538.0,635.2 L538.2,639.4 L538.4,643.3 L538.6,646.7 L538.8,649.8 L539.0,652.6 L539.2,655.0 L539.4,657.2 L539.6,659.1 L539.8,660.7 L540.0,662.2 L540.2,663.5 L540.4,664.6 L540.6,665.5 L540.8,666.3 L541.0,667.0 L541.2,667.6 L541.4,668.1 L541.6,668.5 L541.8,668.8 L542.0,669.1 L542.2,669.3 L542.4,669.5 L542.6,669.7 L542.8,669.8 L543.0,670.0 L543.2,670.0 L543.4,670.1 L543.6,670.2 L543.8,670.2 L544.0,670.3 L544.2,670.3 L544.4,670.3 L544.6,670.3 L544.8,670.3 L545.0,670.4 L547.0,670.4" stroke="#ff80ff" stroke-width="1.7"/>
<path d="M528.6,670.4 L529.0,670.4 L529.2,670.4 L529.4,670.3 L529.6,670.3 L529.8,670.2 L530.0,670.1 L530.2,670.0 L530.4,669.9 L530.6,669.6 L530.8,669.3 L531.0,668.9 L531.2,668.3 L531.4,667.5 L531.6,666.5 L531.8,665.3 L532.0,663.7 L532.2,661.8 L532.4,659.5 L532.6,656.8 L532.8,653.6 L533.0,649.9 L533.2,645.8 L533.4,641.3 L533.6,636.4 L533.8,631.3 L534.0,626.0 L534.2,620.6 L534.4,615.4 L534.6,610.5 L534.8,606.0 L535.0,602.2 L535.2,599.1 L535.4,596.9 L535.6,595.7 L535.8,595.4 L536.0,596.3 L536.2,598.1 L536.4,600.8 L536.6,604.4 L536.8,608.7 L537.0,613.4 L537.2,618.5 L537.4,623.8 L537.6,629.2 L537.8,634.4 L538.0,639.4 L538.2,644.1 L538.4,648.3 L538.6,652.2 L538.8,655.6 L539.0,658.5 L539.2,660.9 L539.4,663.0 L539.6,664.7 L539.8,666.1 L540.0,667.2 L540.2,668.0 L540.4,668.6 L540.6,669.1 L540.8,669.5 L541.0,669.8 L541.2,670.0 L541.4,670.1 L541.6,670.2 L541.8,670.3 L542.0,670.3 L542.2,670.3 L542.4,670.4 L542.8,670.4" stroke="#ff80ff" stroke-width="1.7"/>
<path d="M820.4,670.4 L823.6,670.4 L823.8,670.4 L824.0,670.3 L824.2,670.3 L824.4,670.3 L824.6,670.3 L824.8,670.3 L825.0,670.3 L825.2,670.2 L825.4,670.2 L825.6,670.2 L825.8,670.1 L826.0,670.1 L826.2,670.0 L826.4,670.0 L826.6,669.9 L826.8,669.8 L827.0,669.7 L827.2,669.6 L827.4,669.5 L827.6,669.4 L827.8,669.3 L828.0,669.2 L828.2,669.0 L828.4,668.9 L828.6,668.7 L828.8,668.5 L829.0,668.3 L829.2,668.2 L829.4,668.0 L829.6,667.8 L829.8,667.6 L830.0,667.4 L830.2,667.2 L830.4,667.0 L830.6,666.8 L830.8,666.6 L831.0,666.4 L831.2,666.2 L831.4,666.1 L831.6,665.9 L831.8,665.8 L832.0,665.7 L832.2,665.6 L832.4,665.5 L832.6,665.4 L832.8,665.4 L833.0,665.4 L833.2,665.4 L833.4,665.4 L833.6,665.5 L833.8,665.6 L834.0,665.7 L834.2,665.8 L834.4,665.9 L834.6,666.1 L834.8,666.2 L835.0,666.4 L835.2,666.6 L835.4,666.8 L835.6,667.0 L835.8,667.2 L836.0,667.4 L836.2,667.6 L836.4,667.8 L836.6,668.0 L836.8,668.2 L837.0,668.3 L837.2,668.5 L837.4,668.7 L837.6,668.9 L837.8,669.0 L838.0,669.2 L838.2,669.3 L838.4,669.4 L838.6,669.5 L838.8,669.6 L839.0,669.7 L839.2,669.8 L839.4,669.9 L839.6,670.0 L839.8,670.0 L840.0,670.1 L840.2,670.1 L840.4,670.2 L840.6,670.2 L840.8,670.2 L841.0,670.3 L841.2,670.3 L841.4,670.3 L841.6,670.3 L841.8,670.3 L842.0,670.3 L842.2,670.4 L842.4,670.4 L845.6,670.4" stroke="#ff80ff" stroke-width="1.7"/>
<path d="M535.6,670.4 L536.0,670.4 L536.2,670.4 L536.4,670.3 L536.6,670.3 L536.8,670.3 L537.0,670.3 L537.2,670.2 L537.4,670.2 L537.6,670.2 L537.8,670.1 L538.0,670.0 L538.2,670.0 L538.4,669.9 L538.6,669.7 L538.8,669.6 L539.0,669.5 L539.2,669.3 L539.4,669.1 L539.6,668.8 L539.8,668.6 L540.0,668.3 L540.2,668.0 L540.4,667.6 L540.6,667.2 L540.8,666.8 L541.0,666.3 L541.2,665.8 L541.4,665.3 L541.6,664.8 L541.8,664.2 L542.0,663.6 L542.2,663.0 L542.4,662.4 L542.6,661.8 L542.8,661.2 L543.0,660.6 L543.2,660.1 L543.4,659.5 L543.6,659.1 L543.8,658.6 L544.0,658.3 L544.2,657.9 L544.4,657.7 L544.6,657.5 L544.8,657.4 L545.0,657.4 L545.2,657.5 L545.4,657.6 L545.6,657.8 L545.8,658.1 L546.0,658.4 L546.2,658.8 L546.4,659.2 L546.6,659.7 L546.8,660.3 L547.0,660.8 L547.2,661.4 L547.4,662.0 L547.6,662.6 L547.8,663.2 L548.0,663.8 L548.2,664.4 L548.4,665.0 L548.6,665.5 L548.8,666.0 L549.0,666.5 L549.2,667.0 L549.4,667.4 L549.6,667.8 L549.8,668.1 L550.0,668.4 L550.2,668.7 L550.4,668.9 L550.6,669.2 L550.8,669.4 L551.0,669.5 L551.2,669.7 L551.4,669.8 L551.6,669.9 L551.8,670.0 L552.0,670.1 L552.2,670.1 L552.4,670.2 L552.6,670.2 L552.8,670.3 L553.0,670.3 L553.2,670.3 L553.4,670.3 L553.6,670.3 L553.8,670.4 L554.0,670.4 L554.2,670.4" stroke="#00f0f0" stroke-width="1.6"/>
<path d="M103.6,670.4 L266.4,670.4 L266.6,670.4 L266.9,670.3 L267.1,670.3 L267.4,670.3 L267.6,670.3 L267.9,670.2 L268.1,670.2 L268.4,670.2 L268.6,670.1 L268.9,670.1 L269.1,670.0 L269.4,669.9 L269.6,669.8 L269.9,669.7 L270.1,669.6 L270.4,669.4 L270.6,669.3 L270.9,669.1 L271.1,668.9 L271.4,668.7 L271.6,668.5 L271.9,668.2 L272.1,668.0 L272.4,667.7 L272.6,667.4 L272.9,667.1 L273.1,666.8 L273.4,666.5 L273.6,666.2 L273.9,665.9 L274.1,665.6 L274.4,665.3 L274.6,665.1 L274.9,664.8 L275.1,664.6 L275.4,664.4 L275.6,664.2 L275.9,664.1 L276.1,664.0 L276.4,663.9 L276.6,663.9 L276.9,663.9 L277.1,664.0 L277.4,664.1 L277.6,664.2 L277.9,664.4 L278.1,664.6 L278.4,664.8 L278.6,665.1 L278.9,665.3 L279.1,665.6 L279.4,665.9 L279.6,666.2 L279.9,666.5 L280.1,666.8 L280.4,667.1 L280.6,667.4 L280.9,667.7 L281.1,668.0 L281.4,668.2 L281.6,668.5 L281.9,668.7 L282.1,668.9 L282.4,669.1 L282.6,669.3 L282.9,669.4 L283.1,669.6 L283.4,669.7 L283.6,669.8 L283.9,669.9 L284.1,670.0 L284.4,670.1 L284.6,670.1 L284.9,670.2 L285.1,670.2 L285.4,670.2 L285.6,670.3 L285.9,670.3 L286.1,670.3 L286.4,670.3 L286.6,670.4 L286.9,670.4 L399.9,670.4" stroke="#ff0000" stroke-width="2.5" stroke-linecap="round" stroke-dasharray="8.2 10.8" stroke-dashoffset="5.5"/>
<path d="M400.0,670.4 L499.2,670.4 L499.5,670.3 L499.8,670.3 L500.0,670.3 L500.2,670.3 L500.5,670.3 L500.8,670.2 L501.0,670.2 L501.2,670.1 L501.5,670.1 L501.8,670.0 L502.0,669.9 L502.2,669.8 L502.5,669.7 L502.8,669.5 L503.0,669.4 L503.2,669.2 L503.5,669.0 L503.8,668.7 L504.0,668.5 L504.2,668.2 L504.5,667.8 L504.8,667.5 L505.0,667.1 L505.2,666.7 L505.5,666.2 L505.8,665.8 L506.0,665.3 L506.2,664.8 L506.5,664.2 L506.8,663.7 L507.0,663.2 L507.2,662.7 L507.5,662.1 L507.8,661.7 L508.0,661.2 L508.2,660.8 L508.5,660.4 L508.8,660.0 L509.0,659.7 L509.2,659.5 L509.5,659.3 L509.8,659.2 L510.0,659.2 L510.2,659.2 L510.5,659.3 L510.8,659.5 L511.0,659.7 L511.2,660.0 L511.5,660.4 L511.8,660.8 L512.0,661.2 L512.2,661.7 L512.5,662.1 L512.8,662.7 L513.0,663.2 L513.2,663.7 L513.5,664.2 L513.8,664.8 L514.0,665.3 L514.2,665.8 L514.5,666.2 L514.8,666.7 L515.0,667.1 L515.2,667.5 L515.5,667.8 L515.8,668.1 L516.0,668.4 L516.2,668.6 L516.5,668.9 L516.8,669.0 L517.0,669.2 L517.2,669.3 L517.5,669.3 L517.8,669.4 L518.0,669.3 L518.2,669.3 L518.5,669.1 L518.8,669.0 L519.0,668.7 L519.2,668.4 L519.5,668.0 L519.8,667.6 L520.0,667.0 L520.2,666.3 L520.5,665.5 L520.8,664.5 L521.0,663.4 L521.2,662.1 L521.5,660.6 L521.8,659.0 L522.0,657.0 L522.2,654.8 L522.5,652.4 L522.8,649.6 L523.0,646.6 L523.2,643.1 L523.5,639.3 L523.8,635.2 L524.0,630.6 L524.2,625.5 L524.5,620.0 L524.8,614.1 L525.0,607.6 L525.2,600.7 L525.5,593.2 L525.8,585.2 L526.0,576.8 L526.2,567.8 L526.5,558.4 L526.8,548.6 L527.0,538.4 L527.2,527.8 L527.5,517.1 L527.8,506.1 L528.0,495.1 L528.2,484.1 L528.5,473.2 L528.8,462.6 L529.0,452.3 L529.2,442.6 L529.5,433.5 L529.8,425.1 L530.0,417.5 L530.2,410.9 L530.5,405.3 L530.8,400.8 L531.0,397.4 L531.2,395.0 L531.5,393.7 L531.8,393.4 L532.0,394.0 L532.2,395.3 L532.5,397.3 L532.8,399.6 L533.0,402.3 L533.2,405.0 L533.5,407.8 L533.8,410.4 L534.0,413.0 L534.2,415.4 L534.5,417.8 L534.8,420.3 L535.0,423.1 L535.2,426.4 L535.5,430.6 L535.8,435.8 L536.0,442.3 L536.2,450.1 L536.5,459.4 L536.8,470.2 L537.0,482.4 L537.2,495.7 L537.5,509.9 L537.8,524.7 L538.0,539.8 L538.2,554.8 L538.5,569.3 L538.8,583.1 L539.0,595.9 L539.2,607.6 L539.5,618.0 L539.8,627.0 L540.0,634.7 L540.2,641.1 L540.5,646.4 L540.8,650.6 L541.0,653.8 L541.2,656.2 L541.5,657.9 L541.8,659.1 L542.0,659.7 L542.2,660.1 L542.5,660.1 L542.8,660.0 L543.0,659.7 L543.2,659.3 L543.5,658.9 L543.8,658.4 L544.0,658.0 L544.2,657.6 L544.5,657.3 L544.8,657.0 L545.0,656.9 L545.2,656.8 L545.5,656.9 L545.8,657.0 L546.0,657.3 L546.2,657.7 L546.5,658.1 L546.8,658.7 L547.0,659.3 L547.2,660.0 L547.5,660.7 L547.8,661.5 L548.0,662.2 L548.2,663.0 L548.5,663.7 L548.8,664.4 L549.0,665.1 L549.2,665.8 L549.5,666.4 L549.8,666.9 L550.0,667.4 L550.2,667.9 L550.5,668.3 L550.8,668.6 L551.0,668.9 L551.2,669.2 L551.5,669.4 L551.8,669.6 L552.0,669.8 L552.2,669.9 L552.5,670.0 L552.8,670.1 L553.0,670.2 L553.2,670.2 L553.5,670.3 L553.8,670.3 L554.0,670.3 L554.2,670.3 L554.5,670.4 L554.8,670.4 L823.5,670.4 L823.8,670.4 L824.0,670.3 L824.2,670.3 L824.5,670.3 L824.8,670.3 L825.0,670.3 L825.2,670.2 L825.5,670.2 L825.8,670.1 L826.0,670.1 L826.2,670.0 L826.5,669.9 L826.8,669.8 L827.0,669.7 L827.2,669.6 L827.5,669.5 L827.8,669.3 L828.0,669.2 L828.2,669.0 L828.5,668.8 L828.8,668.6 L829.0,668.3 L829.2,668.1 L829.5,667.9 L829.8,667.6 L830.0,667.4 L830.2,667.1 L830.5,666.9 L830.8,666.6 L831.0,666.4 L831.2,666.2 L831.5,666.0 L831.8,665.8 L832.0,665.7 L832.2,665.6 L832.5,665.5 L832.8,665.4 L833.0,665.4 L833.2,665.4 L833.5,665.5 L833.8,665.6 L834.0,665.7 L834.2,665.8 L834.5,666.0 L834.8,666.2 L835.0,666.4 L835.2,666.6 L835.5,666.9 L835.8,667.1 L836.0,667.4 L836.2,667.6 L836.5,667.9 L836.8,668.1 L837.0,668.3 L837.2,668.6 L837.5,668.8 L837.8,669.0 L838.0,669.2 L838.2,669.3 L838.5,669.5 L838.8,669.6 L839.0,669.7 L839.2,669.8 L839.5,669.9 L839.8,670.0 L840.0,670.1 L840.2,670.1 L840.5,670.2 L840.8,670.2 L841.0,670.3 L841.2,670.3 L841.5,670.3 L841.8,670.3 L842.0,670.3 L842.2,670.4 L842.5,670.4 L980.0,670.4" stroke="#ff0000" stroke-width="2.5" stroke-linecap="round" stroke-dasharray="8.2 10.8" stroke-dashoffset="7.8"/>
<path d="M94.19999999999999,670.4 H980.2" stroke="#000" stroke-width="2.3" stroke-opacity="0.84"/>
</g>
<g fill="none" stroke-linejoin="round">
<path d="M267.6,1009.9 L268.1,1009.9 L268.6,1009.9 L269.1,1009.8 L269.6,1009.7 L270.1,1009.5 L270.6,1009.3 L271.1,1008.9 L271.6,1008.6 L272.1,1008.1 L272.6,1007.5 L273.1,1006.9 L273.6,1006.2 L274.1,1005.5 L274.6,1004.8 L275.1,1004.2 L275.6,1003.6 L276.1,1003.2 L276.6,1003.0 L277.1,1003.0 L277.6,1003.1 L278.1,1003.5 L278.6,1004.0 L279.1,1004.6 L279.6,1005.2 L280.1,1005.9 L280.6,1006.6 L281.1,1007.3 L281.6,1007.9 L282.1,1008.4 L282.6,1008.8 L283.1,1009.1 L283.6,1009.4 L284.1,1009.6 L284.6,1009.7 L285.1,1009.8 L285.6,1009.9 L286.1,1009.9 M500.1,1010.0 L500.6,1009.9 L501.1,1009.9 L501.6,1009.8 L502.1,1009.7 L502.6,1009.6 L503.1,1009.4 L503.6,1009.1 L504.1,1008.7 L504.6,1008.3 L505.1,1007.7 L505.6,1007.0 L506.1,1006.2 L506.6,1005.2 L507.1,1004.2 L507.6,1003.2 L508.1,1002.2 L508.6,1001.2 L509.1,1000.3 L509.6,999.6 L510.1,999.2 L510.6,999.0 L511.1,999.0 L511.6,999.3 L512.1,999.9 L512.6,1000.6 L513.1,1001.6 L513.6,1002.6 L514.1,1003.6 L514.6,1004.6 L515.1,1005.6 L515.6,1006.4 L516.1,1007.1 L516.6,1007.6 L517.1,1008.0 L517.6,1008.1 L518.1,1008.0 L518.6,1007.6 L519.1,1006.9 L519.6,1005.8 L520.1,1004.2 L520.6,1002.1 L521.1,999.2 L521.6,995.4 L522.1,990.7 L522.6,984.9 L523.1,977.7 L523.6,969.1 L524.1,958.8 L524.6,946.7 L525.1,932.8 L525.6,916.9 L526.1,899.2 L526.6,879.7 L527.1,858.9 L527.6,837.2 L528.1,815.2 L528.6,793.7 L529.1,773.4 L529.6,755.4 L530.1,740.4 L530.6,729.1 L531.1,721.8 L531.6,718.5 L532.1,718.8 L532.6,721.8 L533.1,726.3 L533.6,731.4 L534.1,736.1 L534.6,740.3 L535.1,744.7 L535.6,750.7 L536.1,760.1 L536.6,774.4 L537.1,794.1 L537.6,818.9 L538.1,847.0 L538.6,876.3 L539.1,904.3 L539.6,928.9 L540.1,949.1 L540.6,964.5 L541.1,975.5 L541.6,982.9 L542.1,987.7 L542.6,990.6 L543.1,992.4 L543.6,993.5 L544.1,994.3 L544.6,995.0 L545.1,995.7 L545.6,996.4 L546.1,997.1 L546.6,997.9 L547.1,998.7 L547.6,999.5 L548.1,1000.4 L548.6,1001.3 L549.1,1002.2 L549.6,1003.0 L550.1,1003.8 L550.6,1004.6 L551.1,1005.3 L551.6,1006.0 L552.1,1006.6 L552.6,1007.1 L553.1,1007.6 L553.6,1008.0 L554.1,1008.4 L554.6,1008.7 L555.1,1008.9 L555.6,1009.1 L556.1,1009.3 L556.6,1009.5 L557.1,1009.6 L557.6,1009.7 L558.1,1009.8 L558.6,1009.8 L559.1,1009.9 L559.6,1009.9 L560.1,1009.9 L560.6,1009.9 M827.1,1009.9 L827.6,1009.9 L828.1,1009.8 L828.6,1009.8 L829.1,1009.6 L829.6,1009.4 L830.1,1009.2 L830.6,1008.9 L831.1,1008.5 L831.6,1008.1 L832.1,1007.7 L832.6,1007.2 L833.1,1006.9 L833.6,1006.6 L834.1,1006.5 L834.6,1006.5 L835.1,1006.6 L835.6,1006.9 L836.1,1007.2 L836.6,1007.7 L837.1,1008.1 L837.6,1008.5 L838.1,1008.9 L838.6,1009.2 L839.1,1009.4 L839.6,1009.6 L840.1,1009.8 L840.6,1009.8 L841.1,1009.9 L841.6,1009.9" stroke="#bdbdbd" stroke-width="2.1"/>
<path d="M105.6,1009.7 L107.3,1009.9 L109.0,1010.2 L110.7,1009.4 L112.4,1010.2 L114.1,1009.9 L115.8,1009.3 L117.5,1010.1 L119.2,1009.8 L120.9,1009.6 L122.6,1010.2 L124.3,1010.0 L126.0,1009.6 L127.7,1009.7 L129.4,1009.4 L131.1,1010.0 L132.8,1010.1 L134.5,1010.3 L136.2,1009.9 L137.9,1009.3 L139.6,1009.4 L141.3,1009.3 L143.0,1009.7 L144.7,1009.4 L146.4,1010.1 L148.1,1010.1 L149.8,1009.6 L151.5,1009.4 L153.2,1009.7 L154.9,1010.2 L156.6,1010.2 L158.3,1010.2 L160.0,1010.1 L161.7,1009.5 L163.4,1010.0 L165.1,1009.3 L166.8,1009.1 L168.5,1010.0 L170.2,1010.0 L171.9,1009.8 L173.6,1010.3 L175.3,1010.0 L177.0,1009.3 L178.7,1010.0 L180.4,1009.7 L182.1,1010.2 L183.8,1009.8 L185.5,1009.2 L187.2,1009.9 L188.9,1010.4 L190.6,1010.4 L192.3,1009.9 L194.0,1010.4 L195.7,1010.4 L197.4,1010.0 L199.1,1009.3 L200.8,1009.7 L202.5,1009.8 L204.2,1009.6 L205.9,1010.1 L207.6,1009.8 L209.3,1010.1 L211.0,1009.7 L212.7,1009.2 L214.4,1010.0 L216.1,1009.8 L217.8,1009.6 L219.5,1010.1 L221.2,1010.1 L222.9,1009.3 L224.6,1008.9 L226.3,1009.9 L228.0,1009.5 L229.7,1009.1 L231.4,1009.8 L233.1,1009.6 L234.8,1010.2 L236.5,1010.0 L238.2,1009.6 L239.9,1009.6 L241.6,1009.3 L243.3,1010.1 L245.0,1010.0 L246.7,1009.4 L248.4,1009.5 L250.1,1009.7 L251.8,1009.8 L253.5,1009.2 L255.2,1009.4 L256.9,1010.2 L258.6,1009.5 L260.3,1009.8 L262.0,1009.8 L263.7,1010.1 L265.4,1009.9 L267.1,1010.0 L268.8,1010.3 L270.5,1009.8 L272.2,1010.2 L273.9,1009.5 L275.6,1010.2 L277.3,1009.5 L279.0,1009.3 L280.7,1009.6 L282.4,1009.4 L284.1,1009.9 L285.8,1009.5 L287.5,1009.7 L289.2,1010.0 L290.9,1009.3 L292.6,1009.7 L294.3,1009.8 L296.0,1009.3 L297.7,1009.7 L299.4,1009.5 L301.1,1010.0 L302.8,1009.4 L304.5,1009.9 L306.2,1010.3 L307.9,1009.3 L309.6,1010.0 L311.3,1009.3 L313.0,1009.0 L314.7,1009.3 L316.4,1010.2 L318.1,1010.4 L319.8,1010.3 L321.5,1010.0 L323.2,1009.7 L324.9,1009.1 L326.6,1009.7 L328.3,1010.1 L330.0,1009.8 L331.7,1010.2 L333.4,1010.4 L335.1,1009.9 L336.8,1009.5 L338.5,1010.2 L340.2,1009.9 L341.9,1009.5 L343.6,1009.3 L345.3,1009.7 L347.0,1009.2 L348.7,1009.9 L350.4,1009.5 L352.1,1009.3 L353.8,1009.1 L355.5,1009.5 L357.2,1010.1 L358.9,1010.4 L360.6,1009.9 L362.3,1010.2 L364.0,1009.7 L365.7,1010.2 L367.4,1009.5 L369.1,1010.0 L370.8,1010.4 L372.5,1010.3 L374.2,1010.0 L375.9,1009.7 L377.6,1009.8 L379.3,1010.1 L381.0,1009.9 L382.7,1009.2 L384.4,1009.5 L386.1,1009.1 L387.8,1010.1 L389.5,1009.2 L391.2,1009.1 L392.9,1009.4 L394.6,1009.6 L396.3,1009.6 L398.0,1009.2 L399.7,1010.0 L401.4,1009.6 L403.1,1009.6 L404.8,1009.9 L406.5,1009.5 L408.2,1009.4 L409.9,1010.1 L411.6,1009.6 L413.3,1009.7 L415.0,1009.7 L416.7,1009.5 L418.4,1010.2 L420.1,1009.7 L421.8,1009.9 L423.5,1009.3 L425.2,1009.9 L426.9,1009.4 L428.6,1009.3 L430.3,1009.4 L432.0,1009.1 L433.7,1010.1 L435.4,1009.7 L437.1,1009.6 L438.8,1009.4 L440.5,1009.7 L442.2,1010.2 L443.9,1010.3 L445.6,1009.8 L447.3,1010.1 L449.0,1010.4 L450.7,1010.1 L452.4,1009.9 L454.1,1009.7 L455.8,1010.3 L457.5,1009.6 L459.2,1009.9 L460.9,1009.4 L462.6,1010.2 L464.3,1009.3 L466.0,1009.5 L467.7,1009.0 L469.4,1008.9 L471.1,1009.0 L472.8,1009.9 L474.5,1010.0 L476.2,1010.1 L477.9,1009.5 L479.6,1010.0 L481.3,1010.1 L483.0,1010.3 L484.7,1010.4 L486.4,1009.4 L488.1,1009.0 L489.8,1009.6 L491.5,1009.4 L493.2,1009.6 L494.9,1009.6 L496.6,1009.8 L498.3,1009.6 L500.0,1010.0 L501.7,1010.1 L503.4,1009.8 L505.1,1010.1 L506.8,1009.9 L508.5,1009.2 L510.2,1010.1 L511.9,1010.3 L513.6,1009.6 L515.3,1010.2 L517.0,1010.2 L518.7,1009.4 L520.4,1009.5 L522.1,1010.0 L523.8,1010.3 L525.5,1010.2 L527.2,1010.1 L528.9,1009.5 L530.6,1009.1 L532.3,1009.1 L534.0,1009.0 L535.7,1008.9 L537.4,1009.0 L539.1,1008.9 L540.8,1008.9 L542.5,1009.9 L544.2,1010.0 L545.9,1010.1 L547.6,1009.7 L549.3,1009.7 L551.0,1009.9 L552.7,1009.4 L554.4,1009.7 L556.1,1010.1 L557.8,1010.1 L559.5,1009.9 L561.2,1009.6 L562.9,1009.6 L564.6,1009.7 L566.3,1010.1 L568.0,1010.0 L569.7,1010.0 L571.4,1010.2 L573.1,1009.8 L574.8,1010.1 L576.5,1009.6 L578.2,1009.5 L579.9,1010.1 L581.6,1009.7 L583.3,1009.9 L585.0,1009.8 L586.7,1009.6 L588.4,1009.4 L590.1,1009.1 L591.8,1009.2 L593.5,1009.9 L595.2,1009.7 L596.9,1009.9 L598.6,1010.3 L600.3,1009.9 L602.0,1009.8 L603.7,1009.3 L605.4,1009.8 L607.1,1009.3 L608.8,1009.6 L610.5,1010.1 L612.2,1009.6 L613.9,1009.9 L615.6,1009.7 L617.3,1010.2 L619.0,1010.5 L620.7,1009.5 L622.4,1010.2 L624.1,1010.3 L625.8,1010.3 L627.5,1010.4 L629.2,1009.6 L630.9,1009.1 L632.6,1009.3 L634.3,1009.7 L636.0,1009.2 L637.7,1009.5 L639.4,1010.1 L641.1,1009.6 L642.8,1009.8 L644.5,1010.0 L646.2,1010.0 L647.9,1010.0 L649.6,1010.2 L651.3,1009.7 L653.0,1009.3 L654.7,1009.5 L656.4,1010.2 L658.1,1009.7 L659.8,1010.3 L661.5,1009.9 L663.2,1009.3 L664.9,1009.4 L666.6,1009.1 L668.3,1009.2 L670.0,1009.8 L671.7,1010.2 L673.4,1009.9 L675.1,1009.6 L676.8,1010.0 L678.5,1010.0 L680.2,1009.5 L681.9,1009.8 L683.6,1009.6 L685.3,1009.6 L687.0,1009.2 L688.7,1010.1 L690.4,1010.2 L692.1,1009.5 L693.8,1009.4 L695.5,1010.1 L697.2,1010.3 L698.9,1010.2 L700.6,1009.8 L702.3,1009.3 L704.0,1009.9 L705.7,1010.1 L707.4,1009.6 L709.1,1009.8 L710.8,1009.3 L712.5,1009.0 L714.2,1008.9 L715.9,1009.2 L717.6,1009.5 L719.3,1010.2 L721.0,1009.5 L722.7,1009.7 L724.4,1009.8 L726.1,1009.6 L727.8,1009.1 L729.5,1009.4 L731.2,1009.1 L732.9,1008.9 L734.6,1009.9 L736.3,1010.0 L738.0,1009.3 L739.7,1009.2 L741.4,1009.0 L743.1,1009.8 L744.8,1009.7 L746.5,1009.2 L748.2,1009.5 L749.9,1009.4 L751.6,1009.0 L753.3,1009.9 L755.0,1010.3 L756.7,1009.5 L758.4,1009.5 L760.1,1010.0 L761.8,1009.4 L763.5,1009.9 L765.2,1010.2 L766.9,1010.1 L768.6,1010.4 L770.3,1010.1 L772.0,1009.5 L773.7,1009.7 L775.4,1009.1 L777.1,1010.1 L778.8,1010.2 L780.5,1010.3 L782.2,1009.8 L783.9,1010.1 L785.6,1009.6 L787.3,1009.7 L789.0,1009.6 L790.7,1009.2 L792.4,1009.2 L794.1,1009.0 L795.8,1009.9 L797.5,1009.9 L799.2,1009.2 L800.9,1009.7 L802.6,1009.9 L804.3,1009.8 L806.0,1010.1 L807.7,1009.4 L809.4,1009.4 L811.1,1010.1 L812.8,1009.3 L814.5,1009.5 L816.2,1010.0 L817.9,1009.6 L819.6,1009.1 L821.3,1009.7 L823.0,1010.3 L824.7,1010.3 L826.4,1010.5 L828.1,1009.9 L829.8,1010.0 L831.5,1009.3 L833.2,1010.0 L834.9,1010.5 L836.6,1010.0 L838.3,1010.3 L840.0,1010.2 L841.7,1010.3 L843.4,1010.4 L845.1,1009.7 L846.8,1009.1 L848.5,1009.7 L850.2,1009.5 L851.9,1009.9 L853.6,1009.1 L855.3,1009.4 L857.0,1010.3 L858.7,1009.5 L860.4,1010.1 L862.1,1010.5 L863.8,1010.7 L865.5,1009.5 L867.2,1009.3 L868.9,1009.8 L870.6,1009.6 L872.3,1009.4 L874.0,1010.3 L875.7,1009.6 L877.4,1009.3 L879.1,1008.8 L880.8,1010.1 L882.5,1009.7 L884.2,1009.7 L885.9,1009.1 L887.6,1009.7 L889.3,1009.4 L891.0,1008.9 L892.7,1009.7 L894.4,1009.7 L896.1,1009.0 L897.8,1010.3 L899.5,1009.1 L901.2,1009.8 L902.9,1009.8 L904.6,1010.1 L906.3,1009.3 L908.0,1009.5 L909.7,1009.2 L911.4,1010.2 L913.1,1009.2 L914.8,1008.9 L916.5,1009.1 L918.2,1010.0 L919.9,1010.2 L921.6,1010.0 L923.3,1010.6 L925.0,1009.2 L926.7,1009.7 L928.4,1008.8 L930.1,1010.0 L931.8,1009.5 L933.5,1009.1 L935.2,1009.2 L936.9,1009.7 L938.6,1010.6 L940.3,1010.1 L942.0,1010.1 L943.7,1009.0 L945.4,1008.5 L947.1,1008.4 L948.8,1008.3 L950.5,1009.9 L952.2,1010.7 L953.9,1010.5 L955.6,1011.0 L957.3,1010.9 L959.0,1010.0 L960.7,1010.4 L962.4,1009.7 L964.1,1010.0 L965.8,1010.3 L967.5,1008.9 L969.2,1010.1 L970.9,1009.0 L972.6,1009.4 L974.3,1009.3 L976.0,1010.3" stroke="#cbcbcb" stroke-width="1.3"/>
<path d="M264.9,1010.0 L267.9,1010.0 L268.1,1010.0 L268.3,1009.9 L268.5,1009.9 L268.7,1009.9 L268.9,1009.9 L269.1,1009.9 L269.3,1009.8 L269.5,1009.8 L269.7,1009.7 L269.9,1009.7 L270.1,1009.6 L270.3,1009.6 L270.5,1009.5 L270.7,1009.4 L270.9,1009.3 L271.1,1009.2 L271.3,1009.1 L271.5,1009.0 L271.7,1008.9 L271.9,1008.7 L272.1,1008.6 L272.3,1008.4 L272.5,1008.2 L272.7,1008.1 L272.9,1007.9 L273.1,1007.7 L273.3,1007.5 L273.5,1007.3 L273.7,1007.1 L273.9,1007.0 L274.1,1006.8 L274.3,1006.6 L274.5,1006.5 L274.7,1006.4 L274.9,1006.2 L275.1,1006.2 L275.3,1006.1 L275.5,1006.0 L275.7,1006.0 L275.9,1006.0 L276.1,1006.0 L276.3,1006.1 L276.5,1006.1 L276.7,1006.2 L276.9,1006.3 L277.1,1006.5 L277.3,1006.6 L277.5,1006.8 L277.7,1006.9 L277.9,1007.1 L278.1,1007.3 L278.3,1007.5 L278.5,1007.6 L278.7,1007.8 L278.9,1008.0 L279.1,1008.2 L279.3,1008.4 L279.5,1008.5 L279.7,1008.7 L279.9,1008.8 L280.1,1009.0 L280.3,1009.1 L280.5,1009.2 L280.7,1009.3 L280.9,1009.4 L281.1,1009.5 L281.3,1009.6 L281.5,1009.6 L281.7,1009.7 L281.9,1009.7 L282.1,1009.8 L282.3,1009.8 L282.5,1009.9 L282.7,1009.9 L282.9,1009.9 L283.1,1009.9 L283.3,1009.9 L283.5,1009.9 L283.7,1010.0 L283.9,1010.0 L286.7,1010.0" stroke="#ff80ff" stroke-width="1.7"/>
<path d="M267.1,1010.0 L270.1,1010.0 L270.3,1010.0 L270.5,1009.9 L270.7,1009.9 L270.9,1009.9 L271.1,1009.9 L271.3,1009.9 L271.5,1009.8 L271.7,1009.8 L271.9,1009.8 L272.1,1009.7 L272.3,1009.7 L272.5,1009.6 L272.7,1009.6 L272.9,1009.5 L273.1,1009.4 L273.3,1009.3 L273.5,1009.2 L273.7,1009.1 L273.9,1009.0 L274.1,1008.9 L274.3,1008.7 L274.5,1008.6 L274.7,1008.5 L274.9,1008.3 L275.1,1008.1 L275.3,1008.0 L275.5,1007.8 L275.7,1007.6 L275.9,1007.5 L276.1,1007.3 L276.3,1007.2 L276.5,1007.0 L276.7,1006.9 L276.9,1006.8 L277.1,1006.7 L277.3,1006.6 L277.5,1006.6 L277.7,1006.5 L277.9,1006.5 L278.1,1006.5 L278.3,1006.5 L278.5,1006.6 L278.7,1006.6 L278.9,1006.7 L279.1,1006.8 L279.3,1006.9 L279.5,1007.0 L279.7,1007.2 L279.9,1007.3 L280.1,1007.5 L280.3,1007.6 L280.5,1007.8 L280.7,1007.9 L280.9,1008.1 L281.1,1008.3 L281.3,1008.4 L281.5,1008.6 L281.7,1008.7 L281.9,1008.9 L282.1,1009.0 L282.3,1009.1 L282.5,1009.2 L282.7,1009.3 L282.9,1009.4 L283.1,1009.5 L283.3,1009.6 L283.5,1009.6 L283.7,1009.7 L283.9,1009.7 L284.1,1009.8 L284.3,1009.8 L284.5,1009.8 L284.7,1009.9 L284.9,1009.9 L285.1,1009.9 L285.3,1009.9 L285.5,1009.9 L285.7,1010.0 L285.9,1010.0 L288.9,1010.0" stroke="#ff80ff" stroke-width="1.7"/>
<path d="M497.0,1010.0 L499.6,1010.0 L499.8,1010.0 L500.0,1009.9 L500.2,1009.9 L500.4,1009.9 L500.6,1009.9 L500.8,1009.9 L501.0,1009.9 L501.2,1009.8 L501.4,1009.8 L501.6,1009.8 L501.8,1009.7 L502.0,1009.7 L502.2,1009.6 L502.4,1009.5 L502.6,1009.5 L502.8,1009.4 L503.0,1009.3 L503.2,1009.1 L503.4,1009.0 L503.6,1008.9 L503.8,1008.7 L504.0,1008.5 L504.2,1008.4 L504.4,1008.1 L504.6,1007.9 L504.8,1007.7 L505.0,1007.4 L505.2,1007.1 L505.4,1006.8 L505.6,1006.5 L505.8,1006.2 L506.0,1005.8 L506.2,1005.4 L506.4,1005.0 L506.6,1004.6 L506.8,1004.2 L507.0,1003.8 L507.2,1003.4 L507.4,1003.0 L507.6,1002.6 L507.8,1002.2 L508.0,1001.8 L508.2,1001.4 L508.4,1001.0 L508.6,1000.7 L508.8,1000.4 L509.0,1000.1 L509.2,999.8 L509.4,999.6 L509.6,999.4 L509.8,999.2 L510.0,999.1 L510.2,999.0 L510.4,999.0 L510.6,999.0 L510.8,999.1 L511.0,999.2 L511.2,999.3 L511.4,999.5 L511.6,999.7 L511.8,999.9 L512.0,1000.2 L512.2,1000.5 L512.4,1000.9 L512.6,1001.2 L512.8,1001.6 L513.0,1002.0 L513.2,1002.4 L513.4,1002.8 L513.6,1003.2 L513.8,1003.7 L514.0,1004.1 L514.2,1004.5 L514.4,1004.9 L514.6,1005.3 L514.8,1005.7 L515.0,1006.0 L515.2,1006.4 L515.4,1006.7 L515.6,1007.0 L515.8,1007.3 L516.0,1007.6 L516.2,1007.8 L516.4,1008.1 L516.6,1008.3 L516.8,1008.5 L517.0,1008.7 L517.2,1008.8 L517.4,1009.0 L517.6,1009.1 L517.8,1009.2 L518.0,1009.3 L518.2,1009.4 L518.4,1009.5 L518.6,1009.6 L518.8,1009.6 L519.0,1009.7 L519.2,1009.7 L519.4,1009.8 L519.6,1009.8 L519.8,1009.8 L520.0,1009.9 L520.2,1009.9 L520.4,1009.9 L520.6,1009.9 L520.8,1009.9 L521.0,1010.0 L521.2,1010.0 L523.8,1010.0" stroke="#ff80ff" stroke-width="1.7"/>
<path d="M514.2,1010.0 L515.2,1010.0 L515.4,1010.0 L515.6,1009.9 L515.8,1009.9 L516.0,1009.9 L516.2,1009.9 L516.4,1009.8 L516.6,1009.8 L516.8,1009.7 L517.0,1009.7 L517.2,1009.6 L517.4,1009.5 L517.6,1009.4 L517.8,1009.2 L518.0,1009.1 L518.2,1008.9 L518.4,1008.6 L518.6,1008.3 L518.8,1008.0 L519.0,1007.6 L519.2,1007.1 L519.4,1006.6 L519.6,1006.0 L519.8,1005.3 L520.0,1004.5 L520.2,1003.6 L520.4,1002.6 L520.6,1001.5 L520.8,1000.3 L521.0,999.0 L521.2,997.5 L521.4,995.9 L521.6,994.2 L521.8,992.4 L522.0,990.5 L522.2,988.5 L522.4,986.4 L522.6,984.2 L522.8,982.0 L523.0,979.7 L523.2,977.4 L523.4,975.1 L523.6,972.8 L523.8,970.6 L524.0,968.5 L524.2,966.5 L524.4,964.6 L524.6,962.9 L524.8,961.4 L525.0,960.0 L525.2,958.9 L525.4,958.0 L525.6,957.4 L525.8,957.1 L526.0,957.0 L526.2,957.4 L526.4,958.4 L526.6,959.9 L526.8,961.9 L527.0,964.4 L527.2,967.2 L527.4,970.2 L527.6,973.5 L527.8,976.8 L528.0,980.2 L528.2,983.5 L528.4,986.8 L528.6,989.8 L528.8,992.7 L529.0,995.3 L529.2,997.6 L529.4,999.7 L529.6,1001.5 L529.8,1003.1 L530.0,1004.5 L530.2,1005.6 L530.4,1006.5 L530.6,1007.3 L530.8,1007.9 L531.0,1008.4 L531.2,1008.8 L531.4,1009.1 L531.6,1009.4 L531.8,1009.5 L532.0,1009.7 L532.2,1009.8 L532.4,1009.8 L532.6,1009.9 L532.8,1009.9 L533.0,1009.9 L533.2,1010.0 L537.6,1010.0" stroke="#ff80ff" stroke-width="1.7"/>
<path d="M520.2,1010.0 L520.4,1009.9 L520.6,1009.9 L520.8,1009.9 L521.0,1009.9 L521.2,1009.8 L521.4,1009.8 L521.6,1009.7 L521.8,1009.6 L522.0,1009.5 L522.2,1009.3 L522.4,1009.1 L522.6,1008.9 L522.8,1008.5 L523.0,1008.2 L523.2,1007.7 L523.4,1007.1 L523.6,1006.4 L523.8,1005.5 L524.0,1004.4 L524.2,1003.2 L524.4,1001.7 L524.6,999.9 L524.8,997.8 L525.0,995.4 L525.2,992.5 L525.4,989.3 L525.6,985.5 L525.8,981.3 L526.0,976.5 L526.2,971.1 L526.4,965.1 L526.6,958.4 L526.8,951.1 L527.0,943.1 L527.2,934.4 L527.4,925.1 L527.6,915.2 L527.8,904.6 L528.0,893.6 L528.2,882.0 L528.4,870.2 L528.6,858.0 L528.8,845.7 L529.0,833.3 L529.2,821.1 L529.4,809.1 L529.6,797.6 L529.8,786.6 L530.0,776.3 L530.2,766.9 L530.4,758.5 L530.6,751.2 L530.8,745.1 L531.0,740.4 L531.2,737.2 L531.4,735.4 L531.6,735.1 L531.8,736.3 L532.0,739.0 L532.2,743.1 L532.4,748.6 L532.6,755.4 L532.8,763.4 L533.0,772.4 L533.2,782.4 L533.4,793.1 L533.6,804.4 L533.8,816.3 L534.0,828.4 L534.2,840.7 L534.4,853.1 L534.6,865.3 L534.8,877.3 L535.0,889.0 L535.2,900.3 L535.4,911.0 L535.6,921.2 L535.8,930.8 L536.0,939.7 L536.2,948.0 L536.4,955.6 L536.6,962.5 L536.8,968.8 L537.0,974.4 L537.2,979.4 L537.4,983.9 L537.6,987.8 L537.8,991.3 L538.0,994.3 L538.2,996.9 L538.4,999.1 L538.6,1001.0 L538.8,1002.6 L539.0,1004.0 L539.2,1005.1 L539.4,1006.0 L539.6,1006.8 L539.8,1007.4 L540.0,1008.0 L540.2,1008.4 L540.4,1008.7 L540.6,1009.0 L540.8,1009.2 L541.0,1009.4 L541.2,1009.5 L541.4,1009.7 L541.6,1009.7 L541.8,1009.8 L542.0,1009.8 L542.2,1009.9 L542.4,1009.9 L542.6,1009.9 L542.8,1010.0" stroke="#ff80ff" stroke-width="1.7"/>
<path d="M528.8,1010.0 L529.0,1010.0 L529.2,1009.9 L529.4,1009.9 L529.6,1009.8 L529.8,1009.8 L530.0,1009.7 L530.2,1009.5 L530.4,1009.3 L530.6,1009.0 L530.8,1008.6 L531.0,1008.0 L531.2,1007.3 L531.4,1006.4 L531.6,1005.1 L531.8,1003.6 L532.0,1001.6 L532.2,999.1 L532.4,996.0 L532.6,992.2 L532.8,987.7 L533.0,982.4 L533.2,976.1 L533.4,968.9 L533.6,960.7 L533.8,951.5 L534.0,941.4 L534.2,930.5 L534.4,918.7 L534.6,906.4 L534.8,893.8 L535.0,881.0 L535.2,868.5 L535.4,856.4 L535.6,845.1 L535.8,834.9 L536.0,826.2 L536.2,819.1 L536.4,814.0 L536.6,810.9 L536.8,810.0 L537.0,811.3 L537.2,814.8 L537.4,820.4 L537.6,827.8 L537.8,836.8 L538.0,847.3 L538.2,858.7 L538.4,871.0 L538.6,883.6 L538.8,896.3 L539.0,908.9 L539.2,921.1 L539.4,932.7 L539.6,943.5 L539.8,953.5 L540.0,962.4 L540.2,970.4 L540.4,977.4 L540.6,983.5 L540.8,988.7 L541.0,993.0 L541.2,996.6 L541.4,999.6 L541.6,1002.0 L541.8,1003.9 L542.0,1005.4 L542.2,1006.6 L542.4,1007.5 L542.6,1008.2 L542.8,1008.7 L543.0,1009.1 L543.2,1009.3 L543.4,1009.5 L543.6,1009.7 L543.8,1009.8 L544.0,1009.9 L544.2,1009.9 L544.4,1009.9 L544.6,1010.0" stroke="#ff80ff" stroke-width="1.7"/>
<path d="M823.5,1010.0 L826.5,1010.0 L826.7,1010.0 L826.9,1009.9 L827.1,1009.9 L827.3,1009.9 L827.5,1009.9 L827.7,1009.9 L827.9,1009.8 L828.1,1009.8 L828.3,1009.7 L828.5,1009.7 L828.7,1009.6 L828.9,1009.6 L829.1,1009.5 L829.3,1009.4 L829.5,1009.3 L829.7,1009.2 L829.9,1009.1 L830.1,1009.0 L830.3,1008.8 L830.5,1008.7 L830.7,1008.5 L830.9,1008.4 L831.1,1008.2 L831.3,1008.0 L831.5,1007.9 L831.7,1007.7 L831.9,1007.5 L832.1,1007.4 L832.3,1007.2 L832.5,1007.1 L832.7,1006.9 L832.9,1006.8 L833.1,1006.7 L833.3,1006.6 L833.5,1006.6 L833.7,1006.5 L833.9,1006.5 L834.1,1006.5 L834.3,1006.5 L834.5,1006.6 L834.7,1006.6 L834.9,1006.7 L835.1,1006.8 L835.3,1006.9 L835.5,1007.1 L835.7,1007.2 L835.9,1007.4 L836.1,1007.5 L836.3,1007.7 L836.5,1007.9 L836.7,1008.0 L836.9,1008.2 L837.1,1008.4 L837.3,1008.5 L837.5,1008.7 L837.7,1008.8 L837.9,1009.0 L838.1,1009.1 L838.3,1009.2 L838.5,1009.3 L838.7,1009.4 L838.9,1009.5 L839.1,1009.6 L839.3,1009.6 L839.5,1009.7 L839.7,1009.7 L839.9,1009.8 L840.1,1009.8 L840.3,1009.9 L840.5,1009.9 L840.7,1009.9 L840.9,1009.9 L841.1,1009.9 L841.3,1010.0 L841.5,1010.0 L844.5,1010.0" stroke="#ff80ff" stroke-width="1.7"/>
<path d="M524.1,1010.0 L524.9,1010.0 L525.1,1010.0 L525.3,1009.9 L525.5,1009.9 L525.7,1009.9 L525.9,1009.9 L526.1,1009.9 L526.3,1009.9 L526.5,1009.9 L526.7,1009.9 L526.9,1009.9 L527.1,1009.8 L527.3,1009.8 L527.5,1009.8 L527.7,1009.8 L527.9,1009.8 L528.1,1009.7 L528.3,1009.7 L528.5,1009.7 L528.7,1009.6 L528.9,1009.6 L529.1,1009.5 L529.3,1009.5 L529.5,1009.4 L529.7,1009.4 L529.9,1009.3 L530.1,1009.2 L530.3,1009.2 L530.5,1009.1 L530.7,1009.0 L530.9,1008.9 L531.1,1008.8 L531.3,1008.7 L531.5,1008.6 L531.7,1008.5 L531.9,1008.3 L532.1,1008.2 L532.3,1008.1 L532.5,1007.9 L532.7,1007.7 L532.9,1007.6 L533.1,1007.4 L533.3,1007.2 L533.5,1007.0 L533.7,1006.8 L533.9,1006.6 L534.1,1006.3 L534.3,1006.1 L534.5,1005.8 L534.7,1005.6 L534.9,1005.3 L535.1,1005.0 L535.3,1004.7 L535.5,1004.4 L535.7,1004.1 L535.9,1003.8 L536.1,1003.5 L536.3,1003.2 L536.5,1002.8 L536.7,1002.5 L536.9,1002.2 L537.1,1001.8 L537.3,1001.5 L537.5,1001.1 L537.7,1000.8 L537.9,1000.4 L538.1,1000.1 L538.3,999.7 L538.5,999.4 L538.7,999.0 L538.9,998.7 L539.1,998.4 L539.3,998.1 L539.5,997.8 L539.7,997.5 L539.9,997.2 L540.1,996.9 L540.3,996.7 L540.5,996.4 L540.7,996.2 L540.9,996.0 L541.1,995.8 L541.3,995.6 L541.5,995.5 L541.7,995.3 L541.9,995.2 L542.1,995.1 L542.3,995.1 L542.5,995.0 L542.7,995.0 L542.9,995.0 L543.1,995.0 L543.3,995.1 L543.5,995.1 L543.7,995.2 L543.9,995.3 L544.1,995.4 L544.3,995.6 L544.5,995.8 L544.7,995.9 L544.9,996.2 L545.1,996.4 L545.3,996.6 L545.5,996.9 L545.7,997.1 L545.9,997.4 L546.1,997.7 L546.3,998.0 L546.5,998.3 L546.7,998.6 L546.9,999.0 L547.1,999.3 L547.3,999.7 L547.5,1000.0 L547.7,1000.3 L547.9,1000.7 L548.1,1001.0 L548.3,1001.4 L548.5,1001.7 L548.7,1002.1 L548.9,1002.4 L549.1,1002.8 L549.3,1003.1 L549.5,1003.4 L549.7,1003.7 L549.9,1004.1 L550.1,1004.4 L550.3,1004.7 L550.5,1005.0 L550.7,1005.2 L550.9,1005.5 L551.1,1005.8 L551.3,1006.0 L551.5,1006.3 L551.7,1006.5 L551.9,1006.7 L552.1,1006.9 L552.3,1007.2 L552.5,1007.3 L552.7,1007.5 L552.9,1007.7 L553.1,1007.9 L553.3,1008.0 L553.5,1008.2 L553.7,1008.3 L553.9,1008.5 L554.1,1008.6 L554.3,1008.7 L554.5,1008.8 L554.7,1008.9 L554.9,1009.0 L555.1,1009.1 L555.3,1009.2 L555.5,1009.2 L555.7,1009.3 L555.9,1009.4 L556.1,1009.4 L556.3,1009.5 L556.5,1009.5 L556.7,1009.6 L556.9,1009.6 L557.1,1009.7 L557.3,1009.7 L557.5,1009.7 L557.7,1009.7 L557.9,1009.8 L558.1,1009.8 L558.3,1009.8 L558.5,1009.8 L558.7,1009.9 L558.9,1009.9 L559.1,1009.9 L559.3,1009.9 L559.5,1009.9 L559.7,1009.9 L559.9,1009.9 L560.1,1009.9 L560.3,1009.9 L560.5,1010.0 L560.7,1010.0 L560.9,1010.0 L561.5,1010.0" stroke="#00f0f0" stroke-width="1.6"/>
<path d="M267.1,1010.0 L267.4,1009.9 L267.6,1009.9 L267.9,1009.9 L268.1,1009.9 L268.4,1009.8 L268.6,1009.8 L268.9,1009.8 L269.1,1009.7 L269.4,1009.6 L269.6,1009.5 L269.9,1009.4 L270.1,1009.3 L270.4,1009.2 L270.6,1009.1 L270.9,1008.9 L271.1,1008.7 L271.4,1008.5 L271.6,1008.3 L271.9,1008.0 L272.1,1007.7 L272.4,1007.4 L272.6,1007.1 L272.9,1006.8 L273.1,1006.5 L273.4,1006.1 L273.6,1005.8 L273.9,1005.4 L274.1,1005.1 L274.4,1004.7 L274.6,1004.4 L274.9,1004.1 L275.1,1003.8 L275.4,1003.6 L275.6,1003.4 L275.9,1003.2 L276.1,1003.1 L276.4,1003.0 L276.6,1003.0 L276.9,1003.0 L277.1,1003.1 L277.4,1003.2 L277.6,1003.4 L277.9,1003.6 L278.1,1003.8 L278.4,1004.1 L278.6,1004.4 L278.9,1004.7 L279.1,1005.1 L279.4,1005.4 L279.6,1005.8 L279.9,1006.1 L280.1,1006.5 L280.4,1006.8 L280.6,1007.1 L280.9,1007.4 L281.1,1007.7 L281.4,1008.0 L281.6,1008.3 L281.9,1008.5 L282.1,1008.7 L282.4,1008.9 L282.6,1009.1 L282.9,1009.2 L283.1,1009.3 L283.4,1009.4 L283.6,1009.5 L283.9,1009.6 L284.1,1009.7 L284.4,1009.8 L284.6,1009.8 L284.9,1009.8 L285.1,1009.9 L285.4,1009.9 L285.6,1009.9 L285.9,1009.9 L286.1,1010.0 M499.9,1010.0 L500.1,1009.9 L500.4,1009.9 L500.6,1009.9 L500.9,1009.9 L501.1,1009.8 L501.4,1009.8 L501.6,1009.7 L501.9,1009.7 L502.1,1009.6 L502.4,1009.5 L502.6,1009.4 L502.9,1009.3 L503.1,1009.2 L503.4,1009.0 L503.6,1008.8 L503.9,1008.6 L504.1,1008.4 L504.4,1008.2 L504.6,1007.9 L504.9,1007.6 L505.1,1007.2 L505.4,1006.8 L505.6,1006.4 L505.9,1006.0 L506.1,1005.5 L506.4,1005.1 L506.6,1004.6 L506.9,1004.1 L507.1,1003.5 L507.4,1003.0 L507.6,1002.5 L507.9,1002.0 L508.1,1001.5 L508.4,1001.0 L508.6,1000.6 L508.9,1000.2 L509.1,999.9 L509.4,999.6 L509.6,999.3 L509.9,999.2 L510.1,999.0 L510.4,999.0 L510.6,999.0 L510.9,999.1 L511.1,999.3 L511.4,999.5 L511.6,999.7 L511.9,1000.1 L512.1,1000.4 L512.4,1000.9 L512.6,1001.3 L512.9,1001.8 L513.1,1002.3 L513.4,1002.8 L513.6,1003.3 L513.9,1003.8 L514.1,1004.3 L514.4,1004.8 L514.6,1005.3 L514.9,1005.8 L515.1,1006.2 L515.4,1006.6 L515.6,1006.9 L515.9,1007.2 L516.1,1007.5 L516.4,1007.7 L516.6,1007.9 L516.9,1008.0 L517.1,1008.1 L517.4,1008.1 L517.6,1008.1 L517.9,1008.0 L518.1,1007.8 L518.4,1007.5 L518.6,1007.2 L518.9,1006.8 L519.1,1006.2 L519.4,1005.6 L519.6,1004.8 L519.9,1003.9 L520.1,1002.8 L520.4,1001.6 L520.6,1000.2 L520.9,998.6 L521.1,996.7 L521.4,994.7 L521.6,992.4 L521.9,989.8 L522.1,986.9 L522.4,983.7 L522.6,980.2 L522.9,976.3 L523.1,972.0 L523.4,967.3 L523.6,962.3 L523.9,956.8 L524.1,950.8 L524.4,944.4 L524.6,937.5 L524.9,930.1 L525.1,922.3 L525.4,914.0 L525.6,905.2 L525.9,896.0 L526.1,886.3 L526.4,876.3 L526.6,866.0 L526.9,855.4 L527.1,844.6 L527.4,833.7 L527.6,822.7 L527.9,811.8 L528.1,801.1 L528.4,790.6 L528.6,780.5 L528.9,770.8 L529.1,761.8 L529.4,753.4 L529.6,745.9 L529.9,739.2 L530.1,733.4 L530.4,728.7 L530.6,724.9 L530.9,722.2 L531.1,720.5 L531.4,719.7 L531.6,719.8 L531.9,720.6 L532.1,722.1 L532.4,724.0 L532.6,726.3 L532.9,728.7 L533.1,731.3 L533.4,733.7 L533.6,736.1 L533.9,738.3 L534.1,740.4 L534.4,742.4 L534.6,744.6 L534.9,747.0 L535.1,749.9 L535.4,753.6 L535.6,758.1 L535.9,763.8 L536.1,770.7 L536.4,779.0 L536.6,788.7 L536.9,799.8 L537.1,812.0 L537.4,825.2 L537.6,839.2 L537.9,853.7 L538.1,868.3 L538.4,882.7 L538.6,896.7 L538.9,910.0 L539.1,922.4 L539.4,933.7 L539.6,943.9 L539.9,952.8 L540.1,960.6 L540.4,967.2 L540.6,972.8 L540.9,977.4 L541.1,981.2 L541.4,984.2 L541.6,986.6 L541.9,988.5 L542.1,990.0 L542.4,991.1 L542.6,992.0 L542.9,992.7 L543.1,993.3 L543.4,993.8 L543.6,994.2 L543.9,994.6 L544.1,994.9 L544.4,995.2 L544.6,995.6 L544.9,995.9 L545.1,996.2 L545.4,996.6 L545.6,996.9 L545.9,997.3 L546.1,997.7 L546.4,998.1 L546.6,998.5 L546.9,998.9 L547.1,999.3 L547.4,999.8 L547.6,1000.2 L547.9,1000.6 L548.1,1001.1 L548.4,1001.5 L548.6,1001.9 L548.9,1002.4 L549.1,1002.8 L549.4,1003.2 L549.6,1003.6 L549.9,1004.0 L550.1,1004.4 L550.4,1004.8 L550.6,1005.1 L550.9,1005.5 L551.1,1005.8 L551.4,1006.1 L551.6,1006.4 L551.9,1006.7 L552.1,1007.0 L552.4,1007.2 L552.6,1007.5 L552.9,1007.7 L553.1,1007.9 L553.4,1008.1 L553.6,1008.3 L553.9,1008.4 L554.1,1008.6 L554.4,1008.7 L554.6,1008.9 L554.9,1009.0 L555.1,1009.1 L555.4,1009.2 L555.6,1009.3 L555.9,1009.4 L556.1,1009.4 L556.4,1009.5 L556.6,1009.6 L556.9,1009.6 L557.1,1009.7 L557.4,1009.7 L557.6,1009.7 L557.9,1009.8 L558.1,1009.8 L558.4,1009.8 L558.6,1009.9 L558.9,1009.9 L559.1,1009.9 L559.4,1009.9 L559.6,1009.9 L559.9,1009.9 L560.1,1009.9 L560.4,1009.9 L560.6,1010.0 M826.6,1010.0 L826.9,1009.9 L827.1,1009.9 L827.4,1009.9 L827.6,1009.9 L827.9,1009.8 L828.1,1009.8 L828.4,1009.7 L828.6,1009.7 L828.9,1009.6 L829.1,1009.5 L829.4,1009.4 L829.6,1009.3 L829.9,1009.1 L830.1,1009.0 L830.4,1008.8 L830.6,1008.6 L830.9,1008.4 L831.1,1008.2 L831.4,1008.0 L831.6,1007.8 L831.9,1007.6 L832.1,1007.4 L832.4,1007.2 L832.6,1007.0 L832.9,1006.9 L833.1,1006.7 L833.4,1006.6 L833.6,1006.5 L833.9,1006.5 L834.1,1006.5 L834.4,1006.5 L834.6,1006.6 L834.9,1006.7 L835.1,1006.8 L835.4,1007.0 L835.6,1007.1 L835.9,1007.3 L836.1,1007.5 L836.4,1007.7 L836.6,1008.0 L836.9,1008.2 L837.1,1008.4 L837.4,1008.6 L837.6,1008.8 L837.9,1008.9 L838.1,1009.1 L838.4,1009.2 L838.6,1009.4 L838.9,1009.5 L839.1,1009.6 L839.4,1009.6 L839.6,1009.7 L839.9,1009.8 L840.1,1009.8 L840.4,1009.9 L840.6,1009.9 L840.9,1009.9 L841.1,1009.9 L841.4,1010.0" stroke="#ff0000" stroke-width="2.5" stroke-linecap="round" stroke-dasharray="8.2 10.8" stroke-dashoffset="10.3"/>
<path d="M94.19999999999999,1010.0 H980.2" stroke="#000" stroke-width="2.1"/>
</g>
<g fill="none" stroke-linejoin="round">
<path d="M268.6,1345.9 L269.1,1345.9 L269.6,1345.8 L270.1,1345.7 L270.6,1345.6 L271.1,1345.4 L271.6,1345.1 L272.1,1344.8 L272.6,1344.3 L273.1,1343.8 L273.6,1343.3 L274.1,1342.7 L274.6,1342.1 L275.1,1341.5 L275.6,1341.0 L276.1,1340.7 L276.6,1340.4 L277.1,1340.4 L277.6,1340.5 L278.1,1340.9 L278.6,1341.3 L279.1,1341.8 L279.6,1342.4 L280.1,1343.0 L280.6,1343.6 L281.1,1344.1 L281.6,1344.6 L282.1,1345.0 L282.6,1345.3 L283.1,1345.5 L283.6,1345.7 L284.1,1345.8 L284.6,1345.9 L285.1,1345.9 L285.6,1346.0 M498.6,1346.0 L499.1,1345.9 L499.6,1345.9 L500.1,1345.8 L500.6,1345.8 L501.1,1345.7 L501.6,1345.6 L502.1,1345.4 L502.6,1345.2 L503.1,1345.0 L503.6,1344.7 L504.1,1344.3 L504.6,1344.0 L505.1,1343.6 L505.6,1343.1 L506.1,1342.7 L506.6,1342.3 L507.1,1341.9 L507.6,1341.5 L508.1,1341.2 L508.6,1341.0 L509.1,1340.9 L509.6,1340.9 L510.1,1341.0 L510.6,1341.2 L511.1,1341.5 L511.6,1341.8 L512.1,1342.2 L512.6,1342.6 L513.1,1343.0 L513.6,1343.4 L514.1,1343.7 L514.6,1343.9 L515.1,1344.0 L515.6,1344.0 L516.1,1343.8 L516.6,1343.5 L517.1,1342.8 L517.6,1341.9 L518.1,1340.6 L518.6,1338.8 L519.1,1336.5 L519.6,1333.5 L520.1,1329.7 L520.6,1324.9 L521.1,1319.2 L521.6,1312.2 L522.1,1303.9 L522.6,1294.2 L523.1,1283.0 L523.6,1270.4 L524.1,1256.4 L524.6,1241.0 L525.1,1224.5 L525.6,1207.1 L526.1,1189.1 L526.6,1170.9 L527.1,1153.0 L527.6,1135.8 L528.1,1119.7 L528.6,1105.4 L529.1,1093.1 L529.6,1083.3 L530.1,1076.3 L530.6,1072.2 L531.1,1071.5 L531.6,1075.5 L532.1,1083.9 L532.6,1096.0 L533.1,1111.0 L533.6,1128.0 L534.1,1146.1 L534.6,1164.1 L535.1,1181.4 L535.6,1197.1 L536.1,1210.7 L536.6,1221.9 L537.1,1230.4 L537.6,1236.4 L538.1,1239.8 L538.6,1241.0 L539.1,1240.2 L539.6,1237.8 L540.1,1234.1 L540.6,1229.4 L541.1,1224.1 L541.6,1218.4 L542.1,1212.7 L542.6,1207.0 L543.1,1201.7 L543.6,1196.8 L544.1,1192.6 L544.6,1189.0 L545.1,1186.3 L545.6,1184.3 L546.1,1183.3 L546.6,1183.1 L547.1,1183.8 L547.6,1185.3 L548.1,1187.7 L548.6,1190.8 L549.1,1194.6 L549.6,1199.0 L550.1,1203.9 L550.6,1209.3 L551.1,1215.0 L551.6,1221.0 L552.1,1227.1 L552.6,1233.4 L553.1,1239.6 L553.6,1245.8 L554.1,1251.9 L554.6,1257.8 L555.1,1263.5 L555.6,1269.0 L556.1,1274.2 L556.6,1279.1 L557.1,1283.7 L557.6,1288.1 L558.1,1292.2 L558.6,1296.0 L559.1,1299.5 L559.6,1302.8 L560.1,1305.9 L560.6,1308.8 L561.1,1311.4 L561.6,1313.9 L562.1,1316.2 L562.6,1318.3 L563.1,1320.4 L563.6,1322.2 L564.1,1324.0 L564.6,1325.7 L565.1,1327.2 L565.6,1328.7 L566.1,1330.1 L566.6,1331.4 L567.1,1332.6 L567.6,1333.7 L568.1,1334.8 L568.6,1335.8 L569.1,1336.7 L569.6,1337.6 L570.1,1338.4 L570.6,1339.1 L571.1,1339.8 L571.6,1340.4 L572.1,1341.0 L572.6,1341.5 L573.1,1342.0 L573.6,1342.5 L574.1,1342.9 L574.6,1343.2 L575.1,1343.5 L575.6,1343.8 L576.1,1344.1 L576.6,1344.3 L577.1,1344.6 L577.6,1344.7 L578.1,1344.9 L578.6,1345.1 L579.1,1345.2 L579.6,1345.3 L580.1,1345.4 L580.6,1345.5 L581.1,1345.6 L581.6,1345.6 L582.1,1345.7 L582.6,1345.7 L583.1,1345.8 L583.6,1345.8 L584.1,1345.8 L584.6,1345.9 L585.1,1345.9 L585.6,1345.9 L586.1,1345.9 L586.6,1345.9 L587.1,1345.9 L587.6,1346.0 M829.6,1345.9 L830.1,1345.9 L830.6,1345.7 L831.1,1345.4 L831.6,1344.8 L832.1,1344.1 L832.6,1343.2 L833.1,1342.2 L833.6,1341.4 L834.1,1341.0 L834.6,1341.0 L835.1,1341.4 L835.6,1342.2 L836.1,1343.2 L836.6,1344.1 L837.1,1344.8 L837.6,1345.4 L838.1,1345.7 L838.6,1345.9 L839.1,1345.9" stroke="#bdbdbd" stroke-width="2.1"/>
<path d="M105.6,1345.6 L107.3,1345.8 L109.0,1345.6 L110.7,1346.2 L112.4,1345.3 L114.1,1344.9 L115.8,1345.1 L117.5,1346.2 L119.2,1345.8 L120.9,1346.1 L122.6,1346.3 L124.3,1345.0 L126.0,1344.5 L127.7,1346.2 L129.4,1345.1 L131.1,1345.3 L132.8,1345.8 L134.5,1346.2 L136.2,1345.5 L137.9,1345.7 L139.6,1345.3 L141.3,1345.2 L143.0,1346.3 L144.7,1345.4 L146.4,1344.6 L148.1,1344.4 L149.8,1345.0 L151.5,1346.4 L153.2,1346.9 L154.9,1346.9 L156.6,1345.2 L158.3,1345.9 L160.0,1346.0 L161.7,1345.0 L163.4,1345.8 L165.1,1345.6 L166.8,1345.8 L168.5,1346.6 L170.2,1345.8 L171.9,1345.1 L173.6,1346.2 L175.3,1346.4 L177.0,1346.1 L178.7,1346.8 L180.4,1346.1 L182.1,1345.2 L183.8,1345.2 L185.5,1345.5 L187.2,1344.9 L188.9,1346.1 L190.6,1345.7 L192.3,1346.0 L194.0,1345.6 L195.7,1346.4 L197.4,1345.4 L199.1,1346.4 L200.8,1346.6 L202.5,1345.4 L204.2,1344.7 L205.9,1345.5 L207.6,1345.8 L209.3,1346.2 L211.0,1346.3 L212.7,1345.7 L214.4,1346.3 L216.1,1346.7 L217.8,1346.1 L219.5,1346.5 L221.2,1345.7 L222.9,1345.1 L224.6,1344.9 L226.3,1345.5 L228.0,1345.9 L229.7,1345.9 L231.4,1346.8 L233.1,1345.6 L234.8,1346.0 L236.5,1346.2 L238.2,1346.7 L239.9,1346.2 L241.6,1345.7 L243.3,1345.9 L245.0,1345.0 L246.7,1345.1 L248.4,1346.0 L250.1,1345.8 L251.8,1344.9 L253.5,1345.4 L255.2,1345.4 L256.9,1346.5 L258.6,1346.0 L260.3,1345.9 L262.0,1346.0 L263.7,1346.0 L265.4,1345.6 L267.1,1345.6 L268.8,1345.7 L270.5,1346.4 L272.2,1346.0 L273.9,1344.9 L275.6,1345.6 L277.3,1346.6 L279.0,1347.0 L280.7,1346.1 L282.4,1346.7 L284.1,1346.9 L285.8,1346.9 L287.5,1346.2 L289.2,1344.9 L290.9,1345.4 L292.6,1345.7 L294.3,1345.8 L296.0,1345.7 L297.7,1345.8 L299.4,1345.3 L301.1,1344.8 L302.8,1345.0 L304.5,1345.6 L306.2,1345.4 L307.9,1344.8 L309.6,1346.1 L311.3,1346.4 L313.0,1345.7 L314.7,1345.3 L316.4,1345.3 L318.1,1345.4 L319.8,1344.9 L321.5,1345.5 L323.2,1345.0 L324.9,1344.5 L326.6,1345.4 L328.3,1344.9 L330.0,1345.0 L331.7,1344.7 L333.4,1346.2 L335.1,1345.1 L336.8,1344.9 L338.5,1344.5 L340.2,1344.3 L341.9,1345.6 L343.6,1345.3 L345.3,1346.3 L347.0,1345.7 L348.7,1344.9 L350.4,1346.0 L352.1,1346.1 L353.8,1346.7 L355.5,1346.7 L357.2,1346.6 L358.9,1346.8 L360.6,1345.1 L362.3,1344.7 L364.0,1345.4 L365.7,1345.1 L367.4,1345.1 L369.1,1345.4 L370.8,1345.8 L372.5,1345.4 L374.2,1345.5 L375.9,1346.1 L377.6,1346.1 L379.3,1345.6 L381.0,1345.4 L382.7,1346.2 L384.4,1345.6 L386.1,1344.9 L387.8,1344.7 L389.5,1345.0 L391.2,1346.3 L392.9,1346.1 L394.6,1346.7 L396.3,1346.9 L398.0,1346.6 L399.7,1346.1 L401.4,1345.3 L403.1,1345.3 L404.8,1346.0 L406.5,1345.4 L408.2,1345.6 L409.9,1345.6 L411.6,1346.2 L413.3,1346.0 L415.0,1346.1 L416.7,1345.4 L418.4,1345.6 L420.1,1345.8 L421.8,1345.8 L423.5,1345.8 L425.2,1345.3 L426.9,1345.1 L428.6,1344.9 L430.3,1345.6 L432.0,1345.1 L433.7,1344.6 L435.4,1344.3 L437.1,1344.8 L438.8,1346.2 L440.5,1345.2 L442.2,1344.9 L443.9,1346.4 L445.6,1346.3 L447.3,1346.3 L449.0,1345.4 L450.7,1345.4 L452.4,1346.0 L454.1,1346.4 L455.8,1346.6 L457.5,1346.8 L459.2,1345.5 L460.9,1344.8 L462.6,1345.9 L464.3,1345.3 L466.0,1344.7 L467.7,1346.0 L469.4,1345.6 L471.1,1345.8 L472.8,1344.8 L474.5,1344.6 L476.2,1346.3 L477.9,1346.5 L479.6,1345.3 L481.3,1345.4 L483.0,1345.6 L484.7,1345.0 L486.4,1344.9 L488.1,1344.5 L489.8,1345.6 L491.5,1346.6 L493.2,1345.6 L494.9,1346.6 L496.6,1345.9 L498.3,1345.0 L500.0,1345.7 L501.7,1345.5 L503.4,1346.3 L505.1,1346.6 L506.8,1345.8 L508.5,1345.0 L510.2,1344.5 L511.9,1346.2 L513.6,1345.0 L515.3,1345.4 L517.0,1345.9 L518.7,1346.0 L520.4,1345.6 L522.1,1346.0 L523.8,1346.5 L525.5,1345.3 L527.2,1345.1 L528.9,1345.3 L530.6,1345.1 L532.3,1344.5 L534.0,1345.9 L535.7,1345.1 L537.4,1344.9 L539.1,1345.7 L540.8,1345.6 L542.5,1345.7 L544.2,1346.3 L545.9,1346.1 L547.6,1346.5 L549.3,1345.1 L551.0,1346.1 L552.7,1345.6 L554.4,1345.5 L556.1,1344.7 L557.8,1344.8 L559.5,1345.7 L561.2,1345.9 L562.9,1346.7 L564.6,1346.9 L566.3,1346.5 L568.0,1345.1 L569.7,1346.4 L571.4,1346.6 L573.1,1345.7 L574.8,1346.0 L576.5,1346.4 L578.2,1345.1 L579.9,1346.4 L581.6,1345.7 L583.3,1345.9 L585.0,1346.1 L586.7,1346.4 L588.4,1346.6 L590.1,1346.2 L591.8,1345.4 L593.5,1345.7 L595.2,1345.1 L596.9,1344.7 L598.6,1346.0 L600.3,1345.1 L602.0,1345.3 L603.7,1345.7 L605.4,1345.7 L607.1,1344.9 L608.8,1345.6 L610.5,1346.5 L612.2,1345.1 L613.9,1346.2 L615.6,1346.7 L617.3,1345.6 L619.0,1346.0 L620.7,1346.2 L622.4,1345.6 L624.1,1344.9 L625.8,1345.7 L627.5,1344.9 L629.2,1345.2 L630.9,1345.3 L632.6,1345.5 L634.3,1346.6 L636.0,1346.7 L637.7,1345.7 L639.4,1345.3 L641.1,1346.4 L642.8,1345.7 L644.5,1345.7 L646.2,1345.6 L647.9,1345.9 L649.6,1346.3 L651.3,1346.2 L653.0,1344.9 L654.7,1346.1 L656.4,1345.1 L658.1,1345.4 L659.8,1346.5 L661.5,1345.3 L663.2,1346.5 L664.9,1345.3 L666.6,1345.9 L668.3,1344.9 L670.0,1345.0 L671.7,1345.7 L673.4,1345.5 L675.1,1344.6 L676.8,1346.0 L678.5,1346.4 L680.2,1346.4 L681.9,1345.3 L683.6,1346.1 L685.3,1346.3 L687.0,1345.7 L688.7,1345.5 L690.4,1345.8 L692.1,1345.6 L693.8,1346.6 L695.5,1347.0 L697.2,1347.1 L698.9,1347.1 L700.6,1345.6 L702.3,1344.7 L704.0,1346.1 L705.7,1346.1 L707.4,1346.8 L709.1,1346.2 L710.8,1345.6 L712.5,1345.4 L714.2,1344.8 L715.9,1345.3 L717.6,1346.4 L719.3,1346.2 L721.0,1346.0 L722.7,1346.1 L724.4,1346.8 L726.1,1345.8 L727.8,1345.8 L729.5,1345.3 L731.2,1345.8 L732.9,1346.6 L734.6,1346.5 L736.3,1346.6 L738.0,1346.1 L739.7,1346.5 L741.4,1346.8 L743.1,1346.0 L744.8,1346.5 L746.5,1346.8 L748.2,1346.8 L749.9,1345.7 L751.6,1345.1 L753.3,1344.9 L755.0,1345.3 L756.7,1345.3 L758.4,1345.0 L760.1,1345.6 L761.8,1345.7 L763.5,1345.3 L765.2,1345.3 L766.9,1345.3 L768.6,1345.3 L770.3,1345.5 L772.0,1346.2 L773.7,1346.3 L775.4,1345.5 L777.1,1345.8 L778.8,1345.0 L780.5,1345.7 L782.2,1345.4 L783.9,1346.4 L785.6,1346.3 L787.3,1345.2 L789.0,1346.2 L790.7,1345.6 L792.4,1346.6 L794.1,1345.8 L795.8,1345.8 L797.5,1344.9 L799.2,1344.8 L800.9,1344.8 L802.6,1345.7 L804.3,1345.4 L806.0,1346.3 L807.7,1345.9 L809.4,1346.0 L811.1,1345.9 L812.8,1346.3 L814.5,1346.6 L816.2,1346.0 L817.9,1345.4 L819.6,1345.4 L821.3,1344.5 L823.0,1345.1 L824.7,1346.4 L826.4,1345.6 L828.1,1346.1 L829.8,1344.7 L831.5,1346.4 L833.2,1346.1 L834.9,1345.3 L836.6,1344.2 L838.3,1345.1 L840.0,1345.9 L841.7,1344.9 L843.4,1344.5 L845.1,1344.0 L846.8,1344.4 L848.5,1346.4 L850.2,1344.4 L851.9,1343.8 L853.6,1345.3 L855.3,1345.0 L857.0,1344.3 L858.7,1343.8 L860.4,1344.3 L862.1,1346.6 L863.8,1347.6 L865.5,1346.8 L867.2,1346.3 L868.9,1346.6 L870.6,1345.1 L872.3,1344.5 L874.0,1345.7 L875.7,1344.9 L877.4,1346.6 L879.1,1344.2 L880.8,1346.2 L882.5,1347.3 L884.2,1346.7 L885.9,1344.6 L887.6,1344.9 L889.3,1344.6 L891.0,1344.0 L892.7,1345.6 L894.4,1343.7 L896.1,1342.9 L897.8,1344.6 L899.5,1344.2 L901.2,1343.6 L902.9,1344.5 L904.6,1347.0 L906.3,1345.4 L908.0,1345.8 L909.7,1344.1 L911.4,1346.5 L913.1,1348.3 L914.8,1348.2 L916.5,1348.2 L918.2,1347.1 L919.9,1347.6 L921.6,1347.2 L923.3,1345.8 L925.0,1347.5 L926.7,1346.4 L928.4,1346.7 L930.1,1348.6 L931.8,1345.8 L933.5,1345.7 L935.2,1344.2 L936.9,1343.2 L938.6,1347.3 L940.3,1345.1 L942.0,1345.7 L943.7,1343.6 L945.4,1347.1 L947.1,1344.3 L948.8,1345.6 L950.5,1348.0 L952.2,1346.7 L953.9,1343.9 L955.6,1347.5 L957.3,1347.1 L959.0,1348.6 L960.7,1349.7 L962.4,1345.1 L964.1,1345.2 L965.8,1345.1 L967.5,1343.1 L969.2,1347.3 L970.9,1343.5 L972.6,1343.4 L974.3,1342.7 L976.0,1342.7" stroke="#cbcbcb" stroke-width="1.3"/>
<path d="M573.0,1345.9 L573.5,1345.9 L574.0,1345.8 L574.5,1345.7 L575.0,1345.6 L575.5,1345.3 L576.0,1345.1 L576.5,1344.7 L577.0,1344.3 L577.5,1343.9 L578.0,1343.4 L578.5,1342.9 L579.0,1342.5 L579.5,1342.2 L580.0,1342.1 L580.5,1342.0 L581.0,1342.2 L581.5,1342.5 L582.0,1342.9 L582.5,1343.5 L583.0,1344.1 L583.5,1344.7 L584.0,1345.3 L584.5,1345.9 M330,1347.6 Q345,1349.2 360,1347.6 M412,1347.8 Q427,1349.6 442,1347.8 M582,1347.5 Q590,1349.4 598,1347.5" stroke="#c4c4c4" stroke-width="1.8"/>
<path d="M264.8,1346.0 L267.6,1346.0 L267.8,1346.0 L268.0,1345.9 L268.2,1345.9 L268.4,1345.9 L268.6,1345.9 L268.8,1345.9 L269.0,1345.9 L269.2,1345.8 L269.4,1345.8 L269.6,1345.7 L269.8,1345.7 L270.0,1345.6 L270.2,1345.6 L270.4,1345.5 L270.6,1345.4 L270.8,1345.3 L271.0,1345.2 L271.2,1345.1 L271.4,1345.0 L271.6,1344.9 L271.8,1344.7 L272.0,1344.5 L272.2,1344.4 L272.4,1344.2 L272.6,1344.0 L272.8,1343.8 L273.0,1343.5 L273.2,1343.3 L273.4,1343.1 L273.6,1342.9 L273.8,1342.6 L274.0,1342.4 L274.2,1342.1 L274.4,1341.9 L274.6,1341.7 L274.8,1341.5 L275.0,1341.3 L275.2,1341.1 L275.4,1341.0 L275.6,1340.8 L275.8,1340.7 L276.0,1340.6 L276.2,1340.5 L276.4,1340.5 L276.6,1340.5 L276.8,1340.5 L277.0,1340.6 L277.2,1340.6 L277.4,1340.7 L277.6,1340.9 L277.8,1341.0 L278.0,1341.2 L278.2,1341.4 L278.4,1341.6 L278.6,1341.8 L278.8,1342.0 L279.0,1342.2 L279.2,1342.5 L279.4,1342.7 L279.6,1342.9 L279.8,1343.2 L280.0,1343.4 L280.2,1343.6 L280.4,1343.9 L280.6,1344.1 L280.8,1344.3 L281.0,1344.4 L281.2,1344.6 L281.4,1344.8 L281.6,1344.9 L281.8,1345.0 L282.0,1345.2 L282.2,1345.3 L282.4,1345.4 L282.6,1345.5 L282.8,1345.5 L283.0,1345.6 L283.2,1345.7 L283.4,1345.7 L283.6,1345.8 L283.8,1345.8 L284.0,1345.8 L284.2,1345.9 L284.4,1345.9 L284.6,1345.9 L284.8,1345.9 L285.0,1345.9 L285.2,1346.0 L285.4,1346.0 L288.2,1346.0" stroke="#ff80ff" stroke-width="1.7"/>
<path d="M494.3,1346.0 L498.1,1346.0 L498.3,1346.0 L498.5,1345.9 L498.7,1345.9 L498.9,1345.9 L499.1,1345.9 L499.3,1345.9 L499.5,1345.9 L499.7,1345.9 L499.9,1345.8 L500.1,1345.8 L500.3,1345.8 L500.5,1345.7 L500.7,1345.7 L500.9,1345.7 L501.1,1345.6 L501.3,1345.6 L501.5,1345.5 L501.7,1345.4 L501.9,1345.4 L502.1,1345.3 L502.3,1345.2 L502.5,1345.1 L502.7,1345.0 L502.9,1344.9 L503.1,1344.8 L503.3,1344.7 L503.5,1344.5 L503.7,1344.4 L503.9,1344.3 L504.1,1344.1 L504.3,1344.0 L504.5,1343.8 L504.7,1343.6 L504.9,1343.5 L505.1,1343.3 L505.3,1343.1 L505.5,1343.0 L505.7,1342.8 L505.9,1342.6 L506.1,1342.5 L506.3,1342.3 L506.5,1342.1 L506.7,1342.0 L506.9,1341.8 L507.1,1341.7 L507.3,1341.6 L507.5,1341.4 L507.7,1341.3 L507.9,1341.2 L508.1,1341.2 L508.3,1341.1 L508.5,1341.1 L508.7,1341.0 L508.9,1341.0 L509.1,1341.0 L509.3,1341.0 L509.5,1341.1 L509.7,1341.1 L509.9,1341.2 L510.1,1341.2 L510.3,1341.3 L510.5,1341.4 L510.7,1341.6 L510.9,1341.7 L511.1,1341.8 L511.3,1342.0 L511.5,1342.1 L511.7,1342.3 L511.9,1342.5 L512.1,1342.6 L512.3,1342.8 L512.5,1343.0 L512.7,1343.1 L512.9,1343.3 L513.1,1343.5 L513.3,1343.6 L513.5,1343.8 L513.7,1344.0 L513.9,1344.1 L514.1,1344.3 L514.3,1344.4 L514.5,1344.5 L514.7,1344.7 L514.9,1344.8 L515.1,1344.9 L515.3,1345.0 L515.5,1345.1 L515.7,1345.2 L515.9,1345.3 L516.1,1345.4 L516.3,1345.4 L516.5,1345.5 L516.7,1345.6 L516.9,1345.6 L517.1,1345.7 L517.3,1345.7 L517.5,1345.7 L517.7,1345.8 L517.9,1345.8 L518.1,1345.8 L518.3,1345.9 L518.5,1345.9 L518.7,1345.9 L518.9,1345.9 L519.1,1345.9 L519.3,1345.9 L519.5,1345.9 L519.7,1346.0 L519.9,1346.0 L523.7,1346.0" stroke="#ff80ff" stroke-width="1.7"/>
<path d="M516.3,1346.0 L516.7,1346.0 L516.9,1346.0 L517.1,1345.9 L517.3,1345.9 L517.5,1345.9 L517.7,1345.8 L517.9,1345.8 L518.1,1345.7 L518.3,1345.6 L518.5,1345.5 L518.7,1345.4 L518.9,1345.2 L519.1,1344.9 L519.3,1344.6 L519.5,1344.3 L519.7,1343.8 L519.9,1343.2 L520.1,1342.5 L520.3,1341.7 L520.5,1340.7 L520.7,1339.6 L520.9,1338.2 L521.1,1336.6 L521.3,1334.7 L521.5,1332.6 L521.7,1330.2 L521.9,1327.4 L522.1,1324.4 L522.3,1321.0 L522.5,1317.3 L522.7,1313.3 L522.9,1309.0 L523.1,1304.3 L523.3,1299.5 L523.5,1294.4 L523.7,1289.2 L523.9,1283.9 L524.1,1278.5 L524.3,1273.2 L524.5,1268.0 L524.7,1263.0 L524.9,1258.4 L525.1,1254.1 L525.3,1250.2 L525.5,1246.9 L525.7,1244.2 L525.9,1242.1 L526.1,1240.7 L526.3,1240.1 L526.5,1240.1 L526.7,1240.9 L526.9,1242.5 L527.1,1244.7 L527.3,1247.5 L527.5,1250.9 L527.7,1254.9 L527.9,1259.3 L528.1,1264.0 L528.3,1269.0 L528.5,1274.2 L528.7,1279.6 L528.9,1284.9 L529.1,1290.2 L529.3,1295.4 L529.5,1300.5 L529.7,1305.3 L529.9,1309.8 L530.1,1314.1 L530.3,1318.1 L530.5,1321.7 L530.7,1325.0 L530.9,1328.0 L531.1,1330.7 L531.3,1333.0 L531.5,1335.1 L531.7,1336.9 L531.9,1338.5 L532.1,1339.8 L532.3,1340.9 L532.5,1341.9 L532.7,1342.7 L532.9,1343.4 L533.1,1343.9 L533.3,1344.3 L533.5,1344.7 L533.7,1345.0 L533.9,1345.2 L534.1,1345.4 L534.3,1345.5 L534.5,1345.7 L534.7,1345.7 L534.9,1345.8 L535.1,1345.9 L535.3,1345.9 L535.5,1345.9 L535.7,1345.9 L535.9,1346.0 L536.1,1346.0 L536.3,1346.0" stroke="#ff80ff" stroke-width="1.7"/>
<path d="M518.3,1346.0 L518.5,1346.0 L518.7,1345.9 L518.9,1345.9 L519.1,1345.9 L519.3,1345.9 L519.5,1345.8 L519.7,1345.8 L519.9,1345.7 L520.1,1345.7 L520.3,1345.6 L520.5,1345.5 L520.7,1345.4 L520.9,1345.2 L521.1,1345.0 L521.3,1344.8 L521.5,1344.5 L521.7,1344.2 L521.9,1343.8 L522.1,1343.4 L522.3,1342.8 L522.5,1342.2 L522.7,1341.5 L522.9,1340.6 L523.1,1339.6 L523.3,1338.4 L523.5,1337.1 L523.7,1335.5 L523.9,1333.8 L524.1,1331.8 L524.3,1329.5 L524.5,1327.0 L524.7,1324.1 L524.9,1320.9 L525.1,1317.4 L525.3,1313.5 L525.5,1309.3 L525.7,1304.6 L525.9,1299.5 L526.1,1294.0 L526.3,1288.0 L526.5,1281.6 L526.7,1274.8 L526.9,1267.6 L527.1,1260.0 L527.3,1252.1 L527.5,1243.7 L527.7,1235.1 L527.9,1226.3 L528.1,1217.2 L528.3,1208.0 L528.5,1198.7 L528.7,1189.3 L528.9,1180.1 L529.1,1171.0 L529.3,1162.1 L529.5,1153.5 L529.7,1145.2 L529.9,1137.5 L530.1,1130.3 L530.3,1123.7 L530.5,1117.8 L530.7,1112.7 L530.9,1108.3 L531.1,1104.9 L531.3,1102.3 L531.5,1100.7 L531.7,1100.0 L531.9,1100.3 L532.1,1101.6 L532.3,1103.7 L532.5,1106.8 L532.7,1110.8 L532.9,1115.6 L533.1,1121.2 L533.3,1127.6 L533.5,1134.5 L533.7,1142.1 L533.9,1150.1 L534.1,1158.6 L534.3,1167.4 L534.5,1176.4 L534.7,1185.6 L534.9,1194.9 L535.1,1204.2 L535.3,1213.5 L535.5,1222.7 L535.7,1231.6 L535.9,1240.3 L536.1,1248.8 L536.3,1256.9 L536.5,1264.6 L536.7,1272.0 L536.9,1279.0 L537.1,1285.5 L537.3,1291.6 L537.5,1297.3 L537.7,1302.6 L537.9,1307.4 L538.1,1311.9 L538.3,1315.9 L538.5,1319.6 L538.7,1322.9 L538.9,1325.9 L539.1,1328.5 L539.3,1330.9 L539.5,1333.0 L539.7,1334.8 L539.9,1336.5 L540.1,1337.9 L540.3,1339.1 L540.5,1340.2 L540.7,1341.1 L540.9,1341.9 L541.1,1342.6 L541.3,1343.2 L541.5,1343.7 L541.7,1344.1 L541.9,1344.4 L542.1,1344.7 L542.3,1344.9 L542.5,1345.1 L542.7,1345.3 L542.9,1345.4 L543.1,1345.5 L543.3,1345.6 L543.5,1345.7 L543.7,1345.8 L543.9,1345.8 L544.1,1345.9 L544.3,1345.9 L544.5,1345.9 L544.7,1345.9 L544.9,1345.9 L545.1,1346.0" stroke="#ff80ff" stroke-width="1.7"/>
<path d="M827.3,1346.0 L828.9,1346.0 L829.1,1346.0 L829.3,1345.9 L829.5,1345.9 L829.7,1345.9 L829.9,1345.8 L830.1,1345.8 L830.3,1345.7 L830.5,1345.6 L830.7,1345.4 L830.9,1345.3 L831.1,1345.1 L831.3,1344.8 L831.5,1344.6 L831.7,1344.3 L831.9,1343.9 L832.1,1343.6 L832.3,1343.2 L832.5,1342.8 L832.7,1342.4 L832.9,1342.1 L833.1,1341.8 L833.3,1341.5 L833.5,1341.3 L833.7,1341.1 L833.9,1341.0 L834.1,1341.0 L834.3,1341.1 L834.5,1341.2 L834.7,1341.4 L834.9,1341.7 L835.1,1342.0 L835.3,1342.4 L835.5,1342.7 L835.7,1343.1 L835.9,1343.5 L836.1,1343.9 L836.3,1344.2 L836.5,1344.5 L836.7,1344.8 L836.9,1345.0 L837.1,1345.2 L837.3,1345.4 L837.5,1345.5 L837.7,1345.6 L837.9,1345.7 L838.1,1345.8 L838.3,1345.9 L838.5,1345.9 L838.7,1345.9 L838.9,1346.0 L839.1,1346.0 L840.7,1346.0" stroke="#ff80ff" stroke-width="1.7"/>
<path d="M523.4,1345.8 L523.6,1345.8 L523.8,1345.8 L524.0,1345.7 L524.2,1345.7 L524.4,1345.7 L524.6,1345.6 L524.8,1345.6 L525.0,1345.5 L525.2,1345.5 L525.4,1345.4 L525.6,1345.4 L525.8,1345.3 L526.0,1345.2 L526.2,1345.1 L526.4,1345.0 L526.6,1344.9 L526.8,1344.8 L527.0,1344.7 L527.2,1344.6 L527.4,1344.4 L527.6,1344.3 L527.8,1344.1 L528.0,1343.9 L528.2,1343.7 L528.4,1343.5 L528.6,1343.2 L528.8,1343.0 L529.0,1342.7 L529.2,1342.4 L529.4,1342.1 L529.6,1341.7 L529.8,1341.3 L530.0,1340.9 L530.2,1340.5 L530.4,1340.0 L530.6,1339.5 L530.8,1339.0 L531.0,1338.4 L531.2,1337.8 L531.4,1337.2 L531.6,1336.5 L531.8,1335.8 L532.0,1335.0 L532.2,1334.2 L532.4,1333.3 L532.6,1332.4 L532.8,1331.5 L533.0,1330.5 L533.2,1329.4 L533.4,1328.3 L533.6,1327.1 L533.8,1325.9 L534.0,1324.6 L534.2,1323.3 L534.4,1321.9 L534.6,1320.5 L534.8,1319.0 L535.0,1317.4 L535.2,1315.8 L535.4,1314.1 L535.6,1312.4 L535.8,1310.6 L536.0,1308.7 L536.2,1306.8 L536.4,1304.9 L536.6,1302.9 L536.8,1300.8 L537.0,1298.7 L537.2,1296.5 L537.4,1294.4 L537.6,1292.1 L537.8,1289.9 L538.0,1287.6 L538.2,1285.2 L538.4,1282.9 L538.6,1280.5 L538.8,1278.1 L539.0,1275.7 L539.2,1273.3 L539.4,1270.9 L539.6,1268.5 L539.8,1266.1 L540.0,1263.8 L540.2,1261.4 L540.4,1259.1 L540.6,1256.8 L540.8,1254.5 L541.0,1252.3 L541.2,1250.1 L541.4,1248.0 L541.6,1245.9 L541.8,1243.9 L542.0,1242.0 L542.2,1240.2 L542.4,1238.4 L542.6,1236.8 L542.8,1235.2 L543.0,1233.7 L543.2,1232.4 L543.4,1231.1 L543.6,1229.9 L543.8,1228.9 L544.0,1228.0 L544.2,1227.2 L544.4,1226.5 L544.6,1225.9 L544.8,1225.5 L545.0,1225.2 L545.2,1225.0 L545.4,1225.0 L545.6,1225.1 L545.8,1225.3 L546.0,1225.7 L546.2,1226.1 L546.4,1226.7 L546.6,1227.5 L546.8,1228.3 L547.0,1229.3 L547.2,1230.4 L547.4,1231.6 L547.6,1232.9 L547.8,1234.3 L548.0,1235.8 L548.2,1237.4 L548.4,1239.1 L548.6,1240.9 L548.8,1242.8 L549.0,1244.7 L549.2,1246.7 L549.4,1248.8 L549.6,1251.0 L549.8,1253.2 L550.0,1255.4 L550.2,1257.7 L550.4,1260.0 L550.6,1262.3 L550.8,1264.7 L551.0,1267.1 L551.2,1269.5 L551.4,1271.9 L551.6,1274.3 L551.8,1276.7 L552.0,1279.1 L552.2,1281.5 L552.4,1283.8 L552.6,1286.2 L552.8,1288.5 L553.0,1290.8 L553.2,1293.0 L553.4,1295.2 L553.6,1297.4 L553.8,1299.5 L554.0,1301.6 L554.2,1303.7 L554.4,1305.6 L554.6,1307.6 L554.8,1309.5 L555.0,1311.3 L555.2,1313.1 L555.4,1314.8 L555.6,1316.4 L555.8,1318.0 L556.0,1319.6 L556.2,1321.1 L556.4,1322.5 L556.6,1323.8 L556.8,1325.2 L557.0,1326.4 L557.2,1327.6 L557.4,1328.7 L557.6,1329.8 L557.8,1330.9 L558.0,1331.9 L558.2,1332.8 L558.4,1333.7 L558.6,1334.5 L558.8,1335.3 L559.0,1336.1 L559.2,1336.8 L559.4,1337.4 L559.6,1338.1 L559.8,1338.7 L560.0,1339.2 L560.2,1339.7 L560.4,1340.2 L560.6,1340.7 L560.8,1341.1 L561.0,1341.5 L561.2,1341.8 L561.4,1342.2 L561.6,1342.5 L561.8,1342.8 L562.0,1343.1 L562.2,1343.3 L562.4,1343.6 L562.6,1343.8 L562.8,1344.0 L563.0,1344.2 L563.2,1344.3 L563.4,1344.5 L563.6,1344.6 L563.8,1344.7 L564.0,1344.9 L564.2,1345.0 L564.4,1345.1 L564.6,1345.2 L564.8,1345.2 L565.0,1345.3 L565.2,1345.4 L565.4,1345.5 L565.6,1345.5 L565.8,1345.6 L566.0,1345.6 L566.2,1345.6 L566.4,1345.7 L566.6,1345.7 L566.8,1345.7 L567.0,1345.8 L567.2,1345.8" stroke="#00f0f0" stroke-width="1.6"/>
<path d="M516.8,1345.9 L517.0,1345.9 L517.2,1345.9 L517.4,1345.9 L517.6,1345.9 L517.8,1345.9 L518.0,1345.9 L518.2,1345.9 L518.4,1345.9 L518.6,1345.9 L518.8,1345.9 L519.0,1345.8 L519.2,1345.8 L519.4,1345.8 L519.6,1345.8 L519.8,1345.8 L520.0,1345.8 L520.2,1345.8 L520.4,1345.7 L520.6,1345.7 L520.8,1345.7 L521.0,1345.7 L521.2,1345.7 L521.4,1345.6 L521.6,1345.6 L521.8,1345.6 L522.0,1345.6 L522.2,1345.5 L522.4,1345.5 L522.6,1345.5 L522.8,1345.4 L523.0,1345.4 L523.2,1345.4 L523.4,1345.3 L523.6,1345.3 L523.8,1345.2 L524.0,1345.2 L524.2,1345.2 L524.4,1345.1 L524.6,1345.0 L524.8,1345.0 L525.0,1344.9 L525.2,1344.9 L525.4,1344.8 L525.6,1344.7 L525.8,1344.7 L526.0,1344.6 L526.2,1344.5 L526.4,1344.4 L526.6,1344.3 L526.8,1344.2 L527.0,1344.1 L527.2,1344.0 L527.4,1343.9 L527.6,1343.8 L527.8,1343.7 L528.0,1343.6 L528.2,1343.5 L528.4,1343.3 L528.6,1343.2 L528.8,1343.1 L529.0,1342.9 L529.2,1342.8 L529.4,1342.6 L529.6,1342.4 L529.8,1342.3 L530.0,1342.1 L530.2,1341.9 L530.4,1341.7 L530.6,1341.5 L530.8,1341.3 L531.0,1341.1 L531.2,1340.9 L531.4,1340.7 L531.6,1340.4 L531.8,1340.2 L532.0,1339.9 L532.2,1339.7 L532.4,1339.4 L532.6,1339.1 L532.8,1338.8 L533.0,1338.5 L533.2,1338.2 L533.4,1337.9 L533.6,1337.6 L533.8,1337.3 L534.0,1337.0 L534.2,1336.6 L534.4,1336.3 L534.6,1335.9 L534.8,1335.5 L535.0,1335.1 L535.2,1334.7 L535.4,1334.3 L535.6,1333.9 L535.8,1333.5 L536.0,1333.1 L536.2,1332.7 L536.4,1332.2 L536.6,1331.8 L536.8,1331.3 L537.0,1330.8 L537.2,1330.4 L537.4,1329.9 L537.6,1329.4 L537.8,1328.9 L538.0,1328.4 L538.2,1327.9 L538.4,1327.3 L538.6,1326.8 L538.8,1326.3 L539.0,1325.7 L539.2,1325.2 L539.4,1324.6 L539.6,1324.1 L539.8,1323.5 L540.0,1323.0 L540.2,1322.4 L540.4,1321.8 L540.6,1321.2 L540.8,1320.7 L541.0,1320.1 L541.2,1319.5 L541.4,1318.9 L541.6,1318.3 L541.8,1317.7 L542.0,1317.2 L542.2,1316.6 L542.4,1316.0 L542.6,1315.4 L542.8,1314.8 L543.0,1314.2 L543.2,1313.7 L543.4,1313.1 L543.6,1312.5 L543.8,1312.0 L544.0,1311.4 L544.2,1310.9 L544.4,1310.3 L544.6,1309.8 L544.8,1309.3 L545.0,1308.7 L545.2,1308.2 L545.4,1307.7 L545.6,1307.2 L545.8,1306.8 L546.0,1306.3 L546.2,1305.8 L546.4,1305.4 L546.6,1305.0 L546.8,1304.6 L547.0,1304.1 L547.2,1303.8 L547.4,1303.4 L547.6,1303.0 L547.8,1302.7 L548.0,1302.4 L548.2,1302.0 L548.4,1301.8 L548.6,1301.5 L548.8,1301.2 L549.0,1301.0 L549.2,1300.8 L549.4,1300.6 L549.6,1300.4 L549.8,1300.2 L550.0,1300.1 L550.2,1299.9 L550.4,1299.8 L550.6,1299.7 L550.8,1299.7 L551.0,1299.6 L551.2,1299.6 L551.4,1299.6 L551.6,1299.6 L551.8,1299.6 L552.0,1299.7 L552.2,1299.8 L552.4,1299.9 L552.6,1300.0 L552.8,1300.1 L553.0,1300.3 L553.2,1300.4 L553.4,1300.6 L553.6,1300.8 L553.8,1301.1 L554.0,1301.3 L554.2,1301.6 L554.4,1301.9 L554.6,1302.2 L554.8,1302.5 L555.0,1302.8 L555.2,1303.2 L555.4,1303.5 L555.6,1303.9 L555.8,1304.3 L556.0,1304.7 L556.2,1305.1 L556.4,1305.6 L556.6,1306.0 L556.8,1306.5 L557.0,1307.0 L557.2,1307.4 L557.4,1307.9 L557.6,1308.4 L557.8,1308.9 L558.0,1309.5 L558.2,1310.0 L558.4,1310.5 L558.6,1311.1 L558.8,1311.6 L559.0,1312.2 L559.2,1312.8 L559.4,1313.3 L559.6,1313.9 L559.8,1314.5 L560.0,1315.1 L560.2,1315.6 L560.4,1316.2 L560.6,1316.8 L560.8,1317.4 L561.0,1318.0 L561.2,1318.6 L561.4,1319.1 L561.6,1319.7 L561.8,1320.3 L562.0,1320.9 L562.2,1321.5 L562.4,1322.0 L562.6,1322.6 L562.8,1323.2 L563.0,1323.8 L563.2,1324.3 L563.4,1324.9 L563.6,1325.4 L563.8,1326.0 L564.0,1326.5 L564.2,1327.0 L564.4,1327.6 L564.6,1328.1 L564.8,1328.6 L565.0,1329.1 L565.2,1329.6 L565.4,1330.1 L565.6,1330.6 L565.8,1331.0 L566.0,1331.5 L566.2,1332.0 L566.4,1332.4 L566.6,1332.8 L566.8,1333.3 L567.0,1333.7 L567.2,1334.1 L567.4,1334.5 L567.6,1334.9 L567.8,1335.3 L568.0,1335.7 L568.2,1336.0 L568.4,1336.4 L568.6,1336.7 L568.8,1337.1 L569.0,1337.4 L569.2,1337.7 L569.4,1338.1 L569.6,1338.4 L569.8,1338.7 L570.0,1339.0 L570.2,1339.2 L570.4,1339.5 L570.6,1339.8 L570.8,1340.0 L571.0,1340.3 L571.2,1340.5 L571.4,1340.7 L571.6,1341.0 L571.8,1341.2 L572.0,1341.4 L572.2,1341.6 L572.4,1341.8 L572.6,1342.0 L572.8,1342.2 L573.0,1342.3 L573.2,1342.5 L573.4,1342.7 L573.6,1342.8 L573.8,1343.0 L574.0,1343.1 L574.2,1343.3 L574.4,1343.4 L574.6,1343.5 L574.8,1343.6 L575.0,1343.8 L575.2,1343.9 L575.4,1344.0 L575.6,1344.1 L575.8,1344.2 L576.0,1344.3 L576.2,1344.4 L576.4,1344.5 L576.6,1344.5 L576.8,1344.6 L577.0,1344.7 L577.2,1344.8 L577.4,1344.8 L577.6,1344.9 L577.8,1345.0 L578.0,1345.0 L578.2,1345.1 L578.4,1345.1 L578.6,1345.2 L578.8,1345.2 L579.0,1345.3 L579.2,1345.3 L579.4,1345.3 L579.6,1345.4 L579.8,1345.4 L580.0,1345.5 L580.2,1345.5 L580.4,1345.5 L580.6,1345.6 L580.8,1345.6 L581.0,1345.6 L581.2,1345.6 L581.4,1345.7 L581.6,1345.7 L581.8,1345.7 L582.0,1345.7 L582.2,1345.7 L582.4,1345.8 L582.6,1345.8 L582.8,1345.8 L583.0,1345.8 L583.2,1345.8 L583.4,1345.8 L583.6,1345.8 L583.8,1345.8 L584.0,1345.9 L584.2,1345.9 L584.4,1345.9 L584.6,1345.9 L584.8,1345.9 L585.0,1345.9 L585.2,1345.9 L585.4,1345.9 L585.6,1345.9 L585.8,1345.9" stroke="#00f0f0" stroke-width="1.6"/>
<path d="M267.9,1346.0 L268.1,1345.9 L268.4,1345.9 L268.6,1345.9 L268.9,1345.9 L269.1,1345.8 L269.4,1345.8 L269.6,1345.8 L269.9,1345.7 L270.1,1345.6 L270.4,1345.5 L270.6,1345.4 L270.9,1345.3 L271.1,1345.2 L271.4,1345.1 L271.6,1344.9 L271.9,1344.7 L272.1,1344.5 L272.4,1344.3 L272.6,1344.0 L272.9,1343.8 L273.1,1343.5 L273.4,1343.2 L273.6,1342.9 L273.9,1342.6 L274.1,1342.3 L274.4,1342.0 L274.6,1341.7 L274.9,1341.5 L275.1,1341.2 L275.4,1341.0 L275.6,1340.8 L275.9,1340.7 L276.1,1340.6 L276.4,1340.5 L276.6,1340.5 L276.9,1340.5 L277.1,1340.6 L277.4,1340.7 L277.6,1340.8 L277.9,1341.0 L278.1,1341.2 L278.4,1341.5 L278.6,1341.7 L278.9,1342.0 L279.1,1342.3 L279.4,1342.6 L279.6,1342.9 L279.9,1343.2 L280.1,1343.5 L280.4,1343.8 L280.6,1344.0 L280.9,1344.3 L281.1,1344.5 L281.4,1344.7 L281.6,1344.9 L281.9,1345.1 L282.1,1345.2 L282.4,1345.3 L282.6,1345.4 L282.9,1345.5 L283.1,1345.6 L283.4,1345.7 L283.6,1345.8 L283.9,1345.8 L284.1,1345.8 L284.4,1345.9 L284.6,1345.9 L284.9,1345.9 L285.1,1345.9 L285.4,1346.0 M498.4,1346.0 L498.6,1345.9 L498.9,1345.9 L499.1,1345.9 L499.4,1345.9 L499.6,1345.9 L499.9,1345.8 L500.1,1345.8 L500.4,1345.8 L500.6,1345.7 L500.9,1345.7 L501.1,1345.6 L501.4,1345.5 L501.6,1345.5 L501.9,1345.4 L502.1,1345.3 L502.4,1345.2 L502.6,1345.1 L502.9,1344.9 L503.1,1344.8 L503.4,1344.6 L503.6,1344.5 L503.9,1344.3 L504.1,1344.1 L504.4,1343.9 L504.6,1343.7 L504.9,1343.5 L505.1,1343.3 L505.4,1343.1 L505.6,1342.9 L505.9,1342.7 L506.1,1342.5 L506.4,1342.2 L506.6,1342.0 L506.9,1341.9 L507.1,1341.7 L507.4,1341.5 L507.6,1341.4 L507.9,1341.3 L508.1,1341.2 L508.4,1341.1 L508.6,1341.0 L508.9,1341.0 L509.1,1341.0 L509.4,1341.0 L509.6,1341.1 L509.9,1341.1 L510.1,1341.2 L510.4,1341.3 L510.6,1341.5 L510.9,1341.6 L511.1,1341.8 L511.4,1342.0 L511.6,1342.2 L511.9,1342.3 L512.1,1342.5 L512.4,1342.7 L512.6,1342.9 L512.9,1343.1 L513.1,1343.3 L513.4,1343.5 L513.6,1343.6 L513.9,1343.8 L514.1,1343.9 L514.4,1344.0 L514.6,1344.0 L514.9,1344.1 L515.1,1344.1 L515.4,1344.0 L515.6,1343.9 L515.9,1343.8 L516.1,1343.6 L516.4,1343.4 L516.6,1343.1 L516.9,1342.7 L517.1,1342.3 L517.4,1341.7 L517.6,1341.1 L517.9,1340.4 L518.1,1339.5 L518.4,1338.5 L518.6,1337.4 L518.9,1336.1 L519.1,1334.7 L519.4,1333.0 L519.6,1331.2 L519.9,1329.1 L520.1,1326.8 L520.4,1324.3 L520.6,1321.5 L520.9,1318.4 L521.1,1315.0 L521.4,1311.2 L521.6,1307.2 L521.9,1302.8 L522.1,1298.1 L522.4,1293.0 L522.6,1287.6 L522.9,1281.8 L523.1,1275.6 L523.4,1269.1 L523.6,1262.2 L523.9,1255.0 L524.1,1247.5 L524.4,1239.7 L524.6,1231.6 L524.9,1223.3 L525.1,1214.7 L525.4,1206.0 L525.6,1197.2 L525.9,1188.3 L526.1,1179.4 L526.4,1170.5 L526.6,1161.6 L526.9,1152.9 L527.1,1144.5 L527.4,1136.2 L527.6,1128.3 L527.9,1120.8 L528.1,1113.7 L528.4,1107.0 L528.6,1101.0 L528.9,1095.5 L529.1,1090.6 L529.4,1086.4 L529.6,1082.8 L529.9,1080.0 L530.1,1077.9 L530.4,1076.6 L530.6,1076.1 L530.9,1076.8 L531.1,1078.6 L531.4,1081.6 L531.6,1085.6 L531.9,1090.6 L532.1,1096.5 L532.4,1103.2 L532.6,1110.5 L532.9,1118.4 L533.1,1126.7 L533.4,1135.4 L533.6,1144.2 L533.9,1153.2 L534.1,1162.1 L534.4,1170.8 L534.6,1179.3 L534.9,1187.5 L535.1,1195.3 L535.4,1202.6 L535.6,1209.3 L535.9,1215.5 L536.1,1221.0 L536.4,1226.0 L536.6,1230.2 L536.9,1233.8 L537.1,1236.8 L537.4,1239.2 L537.6,1240.9 L537.9,1242.1 L538.1,1242.8 L538.4,1242.9 L538.6,1242.5 L538.9,1241.8 L539.1,1240.6 L539.4,1239.1 L539.6,1237.3 L539.9,1235.2 L540.1,1233.0 L540.4,1230.5 L540.6,1227.9 L540.9,1225.2 L541.1,1222.4 L541.4,1219.6 L541.6,1216.7 L541.9,1213.9 L542.1,1211.1 L542.4,1208.4 L542.6,1205.8 L542.9,1203.3 L543.1,1200.9 L543.4,1198.6 L543.6,1196.5 L543.9,1194.5 L544.1,1192.8 L544.4,1191.2 L544.6,1189.8 L544.9,1188.6 L545.1,1187.7 L545.4,1186.9 L545.6,1186.4 L545.9,1186.0 L546.1,1185.9 L546.4,1186.0 L546.6,1186.4 L546.9,1186.9 L547.1,1187.6 L547.4,1188.6 L547.6,1189.7 L547.9,1191.0 L548.1,1192.6 L548.4,1194.2 L548.6,1196.1 L548.9,1198.1 L549.1,1200.2 L549.4,1202.5 L549.6,1204.9 L549.9,1207.5 L550.1,1210.1 L550.4,1212.8 L550.6,1215.6 L550.9,1218.5 L551.1,1221.4 L551.4,1224.4 L551.6,1227.4 L551.9,1230.5 L552.1,1233.5 L552.4,1236.6 L552.6,1239.7 L552.9,1242.7 L553.1,1245.8 L553.4,1248.8 L553.6,1251.8 L553.9,1254.7 L554.1,1257.6 L554.4,1260.5 L554.6,1263.3 L554.9,1266.1 L555.1,1268.7 L555.4,1271.4 L555.6,1273.9 L555.9,1276.4 L556.1,1278.9 L556.4,1281.2 L556.6,1283.5 L556.9,1285.7 L557.1,1287.9 L557.4,1289.9 L557.6,1292.0 L557.9,1293.9 L558.1,1295.8 L558.4,1297.6 L558.6,1299.3 L558.9,1301.0 L559.1,1302.6 L559.4,1304.2 L559.6,1305.7 L559.9,1307.2 L560.1,1308.6 L560.4,1309.9 L560.6,1311.3 L560.9,1312.5 L561.1,1313.7 L561.4,1314.9 L561.6,1316.1 L561.9,1317.2 L562.1,1318.2 L562.4,1319.2 L562.6,1320.2 L562.9,1321.2 L563.1,1322.1 L563.4,1323.0 L563.6,1323.9 L563.9,1324.7 L564.1,1325.6 L564.4,1326.3 L564.6,1327.1 L564.9,1327.9 L565.1,1328.6 L565.4,1329.3 L565.6,1330.0 L565.9,1330.6 L566.1,1331.3 L566.4,1331.9 L566.6,1332.5 L566.9,1333.0 L567.1,1333.6 L567.4,1334.1 L567.6,1334.7 L567.9,1335.2 L568.1,1335.7 L568.4,1336.1 L568.6,1336.6 L568.9,1337.0 L569.1,1337.5 L569.4,1337.9 L569.6,1338.3 L569.9,1338.6 L570.1,1339.0 L570.4,1339.4 L570.6,1339.7 L570.9,1340.0 L571.1,1340.3 L571.4,1340.6 L571.6,1340.9 L571.9,1341.2 L572.1,1341.5 L572.4,1341.7 L572.6,1341.9 L572.9,1342.2 L573.1,1342.4 L573.4,1342.6 L573.6,1342.8 L573.9,1343.0 L574.1,1343.2 L574.4,1343.3 L574.6,1343.5 L574.9,1343.7 L575.1,1343.8 L575.4,1343.9 L575.6,1344.1 L575.9,1344.2 L576.1,1344.3 L576.4,1344.4 L576.6,1344.5 L576.9,1344.6 L577.1,1344.7 L577.4,1344.8 L577.6,1344.9 L577.9,1345.0 L578.1,1345.0 L578.4,1345.1 L578.6,1345.2 L578.9,1345.2 L579.1,1345.3 L579.4,1345.3 L579.6,1345.4 L579.9,1345.4 L580.1,1345.5 L580.4,1345.5 L580.6,1345.5 L580.9,1345.6 L581.1,1345.6 L581.4,1345.6 L581.6,1345.7 L581.9,1345.7 L582.1,1345.7 L582.4,1345.7 L582.6,1345.8 L582.9,1345.8 L583.1,1345.8 L583.4,1345.8 L583.6,1345.8 L583.9,1345.8 L584.1,1345.9 L584.4,1345.9 L584.6,1345.9 L584.9,1345.9 L585.1,1345.9 L585.4,1345.9 L585.6,1345.9 L585.9,1345.9 L586.1,1345.9 L586.4,1345.9 L586.6,1345.9 L586.9,1345.9 L587.1,1346.0 L587.4,1346.0 M829.1,1346.0 L829.4,1345.9 L829.6,1345.9 L829.9,1345.8 L830.1,1345.7 L830.4,1345.6 L830.6,1345.5 L830.9,1345.3 L831.1,1345.0 L831.4,1344.7 L831.6,1344.4 L831.9,1344.0 L832.1,1343.5 L832.4,1343.1 L832.6,1342.6 L832.9,1342.1 L833.1,1341.7 L833.4,1341.4 L833.6,1341.2 L833.9,1341.0 L834.1,1341.0 L834.4,1341.1 L834.6,1341.3 L834.9,1341.7 L835.1,1342.1 L835.4,1342.5 L835.6,1343.0 L835.9,1343.4 L836.1,1343.9 L836.4,1344.3 L836.6,1344.7 L836.9,1345.0 L837.1,1345.2 L837.4,1345.4 L837.6,1345.6 L837.9,1345.7 L838.1,1345.8 L838.4,1345.9 L838.6,1345.9 L838.9,1345.9" stroke="#ff0000" stroke-width="2.5" stroke-linecap="round" stroke-dasharray="8.2 10.8" stroke-dashoffset="0.0"/>
<path d="M94.19999999999999,1346.0 H980.2" stroke="#000" stroke-width="2.1"/>
</g>
<g stroke="#000" stroke-width="2.3" fill="none" stroke-linecap="butt">
<rect x="103.6" y="0.6" width="876.6" height="1359.2"/>
<path d="M103.6,340.4 H980.2"/>
<path d="M103.6,680.6 H980.2"/>
<path d="M103.6,1020.6 H980.2"/>
<path d="M103.60,340.4 v9.6 M158.39,340.4 v5.2 M213.18,340.4 v9.6 M267.96,340.4 v5.2 M322.75,340.4 v9.6 M377.54,340.4 v5.2 M432.33,340.4 v9.6 M487.11,340.4 v5.2 M541.90,340.4 v9.6 M596.69,340.4 v5.2 M651.48,340.4 v9.6 M706.26,340.4 v5.2 M761.05,340.4 v9.6 M815.84,340.4 v5.2 M870.62,340.4 v9.6 M925.41,340.4 v5.2 M980.20,340.4 v9.6 M103.60,680.6 v9.6 M158.39,680.6 v5.2 M213.18,680.6 v9.6 M267.96,680.6 v5.2 M322.75,680.6 v9.6 M377.54,680.6 v5.2 M432.33,680.6 v9.6 M487.11,680.6 v5.2 M541.90,680.6 v9.6 M596.69,680.6 v5.2 M651.48,680.6 v9.6 M706.26,680.6 v5.2 M761.05,680.6 v9.6 M815.84,680.6 v5.2 M870.62,680.6 v9.6 M925.41,680.6 v5.2 M980.20,680.6 v9.6 M103.60,1020.6 v9.6 M158.39,1020.6 v5.2 M213.18,1020.6 v9.6 M267.96,1020.6 v5.2 M322.75,1020.6 v9.6 M377.54,1020.6 v5.2 M432.33,1020.6 v9.6 M487.11,1020.6 v5.2 M541.90,1020.6 v9.6 M596.69,1020.6 v5.2 M651.48,1020.6 v9.6 M706.26,1020.6 v5.2 M761.05,1020.6 v9.6 M815.84,1020.6 v5.2 M870.62,1020.6 v9.6 M925.41,1020.6 v5.2 M980.20,1020.6 v9.6 M103.60,1359.8 v9.6 M158.39,1359.8 v5.2 M213.18,1359.8 v9.6 M267.96,1359.8 v5.2 M322.75,1359.8 v9.6 M377.54,1359.8 v5.2 M432.33,1359.8 v9.6 M487.11,1359.8 v5.2 M541.90,1359.8 v9.6 M596.69,1359.8 v5.2 M651.48,1359.8 v9.6 M706.26,1359.8 v5.2 M761.05,1359.8 v9.6 M815.84,1359.8 v5.2 M870.62,1359.8 v9.6 M925.41,1359.8 v5.2 M980.20,1359.8 v9.6"/>
<path d="M103.6,330.40 h-9.4 M103.6,254.25 h-4.8 M103.6,178.10 h-9.4 M103.6,101.95 h-4.8 M103.6,25.80 h-9.4 M103.6,670.40 h-9.4 M103.6,591.95 h-4.8 M103.6,513.50 h-9.4 M103.6,435.05 h-4.8 M103.6,356.60 h-9.4 M103.6,1010.00 h-9.4 M103.6,931.65 h-4.8 M103.6,853.30 h-9.4 M103.6,774.95 h-4.8 M103.6,696.60 h-9.4 M103.6,1346.00 h-9.4 M103.6,1273.60 h-4.8 M103.6,1201.20 h-9.4 M103.6,1128.80 h-4.8 M103.6,1056.40 h-9.4"/>
</g>
<g font-family="Liberation Sans, Arial, sans-serif" font-size="25" fill="#000" stroke="#000" stroke-width="0.35">
<text transform="translate(88.6,338.2) scale(1,1.04)" text-anchor="end">0.0</text>
<text transform="translate(88.6,185.9) scale(1,1.04)" text-anchor="end">0.3</text>
<text transform="translate(88.6,33.6) scale(1,1.04)" text-anchor="end">0.6</text>
<text transform="translate(88.6,678.2) scale(1,1.04)" text-anchor="end">0.0</text>
<text transform="translate(88.6,521.3) scale(1,1.04)" text-anchor="end">0.3</text>
<text transform="translate(88.6,364.4) scale(1,1.04)" text-anchor="end">0.6</text>
<text transform="translate(88.6,1017.8) scale(1,1.04)" text-anchor="end">0.0</text>
<text transform="translate(88.6,861.1) scale(1,1.04)" text-anchor="end">0.3</text>
<text transform="translate(88.6,704.4) scale(1,1.04)" text-anchor="end">0.6</text>
<text transform="translate(88.6,1353.8) scale(1,1.04)" text-anchor="end">0.0</text>
<text transform="translate(88.6,1209.0) scale(1,1.04)" text-anchor="end">0.1</text>
<text transform="translate(88.6,1064.2) scale(1,1.04)" text-anchor="end">0.2</text>
<text transform="translate(103.6,1395.2) scale(1,1.04)" text-anchor="middle">4500</text>
<text transform="translate(213.2,1395.2) scale(1,1.04)" text-anchor="middle">4000</text>
<text transform="translate(322.8,1395.2) scale(1,1.04)" text-anchor="middle">3500</text>
<text transform="translate(432.3,1395.2) scale(1,1.04)" text-anchor="middle">3000</text>
<text transform="translate(541.9,1395.2) scale(1,1.04)" text-anchor="middle">2500</text>
<text transform="translate(651.5,1395.2) scale(1,1.04)" text-anchor="middle">2000</text>
<text transform="translate(761.1,1395.2) scale(1,1.04)" text-anchor="middle">1500</text>
<text transform="translate(870.6,1395.2) scale(1,1.04)" text-anchor="middle">1000</text>
<text transform="translate(980.2,1395.2) scale(1,1.04)" text-anchor="middle">500</text>
<text transform="translate(542,1430.2) scale(1,1.04)" font-size="26" text-anchor="middle">Wavenumber (cm<tspan font-size="16" dy="-9">-1</tspan><tspan dy="9">)</tspan></text>
<text transform="translate(18.7,677.0) rotate(-90) scale(1,1.04)" font-size="25.6" text-anchor="middle">Absorbance</text>
</g>
<g font-family="Liberation Sans, Arial, sans-serif" font-size="29.6" fill="#000" stroke="#000" stroke-width="0.35">
<text transform="translate(145.8,55.3) scale(1,1.04)" text-anchor="middle">A</text>
<text transform="translate(145.8,394.3) scale(1,1.04)" text-anchor="middle">B</text>
<text transform="translate(145.8,738.9) scale(1,1.04)" text-anchor="middle">C</text>
<text transform="translate(145.8,1072.8) scale(1,1.04)" text-anchor="middle">D</text>
</g>
<text transform="translate(0,214.30) scale(1,1.04)" fill="#000" stroke="#000" stroke-width="0.35"><tspan x="243.55" y="0.00" font-family="Liberation Sans, Arial, sans-serif" font-size="25">H</tspan><tspan x="262.10" y="6.92" font-family="Liberation Sans, Arial, sans-serif" font-size="16">2</tspan><tspan x="272.16" y="0.00" font-family="Liberation Sans, Arial, sans-serif" font-size="25">S</tspan></text>
<text transform="translate(0,254.40) scale(1,1.04)" fill="#000" stroke="#000" stroke-width="0.35"><tspan x="217.25" y="0.00" font-family="Liberation Sans, Arial, sans-serif" font-size="25">(</tspan><tspan x="230.44" y="0.00" font-family="Liberation Serif, Times New Roman, serif" font-size="26.5" font-style="italic">ν</tspan><tspan x="239.70" y="6.54" font-family="Liberation Serif, Times New Roman, serif" font-size="16">2</tspan><tspan x="247.38" y="0.58" font-family="Liberation Serif, Times New Roman, serif" font-size="28.5">+</tspan><tspan x="267.04" y="0.00" font-family="Liberation Serif, Times New Roman, serif" font-size="26.5" font-style="italic">ν</tspan><tspan x="275.59" y="6.54" font-family="Liberation Serif, Times New Roman, serif" font-size="16">1</tspan><tspan x="285.40" y="0.00" font-family="Liberation Serif, Times New Roman, serif" font-size="26.5">/</tspan><tspan x="297.04" y="0.00" font-family="Liberation Serif, Times New Roman, serif" font-size="26.5" font-style="italic">ν</tspan><tspan x="306.23" y="6.54" font-family="Liberation Serif, Times New Roman, serif" font-size="16">3</tspan><tspan x="315.85" y="0.00" font-family="Liberation Sans, Arial, sans-serif" font-size="25">)</tspan></text>
<text transform="translate(0,228.10) scale(1,1.04)" fill="#000" stroke="#000" stroke-width="0.35"><tspan x="410.15" y="0.00" font-family="Liberation Sans, Arial, sans-serif" font-size="25">H</tspan><tspan x="428.70" y="6.92" font-family="Liberation Sans, Arial, sans-serif" font-size="16">2</tspan><tspan x="438.76" y="0.00" font-family="Liberation Sans, Arial, sans-serif" font-size="25">S</tspan></text>
<text transform="translate(0,268.20) scale(1,1.04)" fill="#000" stroke="#000" stroke-width="0.35"><tspan x="382.65" y="0.00" font-family="Liberation Sans, Arial, sans-serif" font-size="25">(</tspan><tspan x="395.44" y="0.00" font-family="Liberation Serif, Times New Roman, serif" font-size="26.5" font-style="italic">ν</tspan><tspan x="405.19" y="6.54" font-family="Liberation Serif, Times New Roman, serif" font-size="16">1</tspan><tspan x="413.80" y="0.00" font-family="Liberation Serif, Times New Roman, serif" font-size="26.5">/</tspan><tspan x="425.84" y="0.00" font-family="Liberation Serif, Times New Roman, serif" font-size="26.5" font-style="italic">ν</tspan><tspan x="435.03" y="6.54" font-family="Liberation Serif, Times New Roman, serif" font-size="16">3</tspan><tspan x="443.71" y="0.00" font-family="Liberation Sans, Arial, sans-serif" font-size="26.5">+</tspan><tspan x="463.04" y="0.00" font-family="Liberation Serif, Times New Roman, serif" font-size="26.5" font-style="italic">ν</tspan><tspan x="472.23" y="6.54" font-family="Liberation Sans, Arial, sans-serif" font-size="16.5">T</tspan><tspan x="483.65" y="0.00" font-family="Liberation Sans, Arial, sans-serif" font-size="25">)</tspan></text>
<text transform="translate(0,80.20) scale(1,1.04)" fill="#000" stroke="#000" stroke-width="0.35"><tspan x="569.15" y="0.00" font-family="Liberation Sans, Arial, sans-serif" font-size="25">H</tspan><tspan x="587.70" y="6.92" font-family="Liberation Sans, Arial, sans-serif" font-size="16">2</tspan><tspan x="597.76" y="0.00" font-family="Liberation Sans, Arial, sans-serif" font-size="25">S</tspan><tspan x="614.80" y="0.00" font-family="Liberation Sans, Arial, sans-serif" font-size="25"> </tspan><tspan x="621.75" y="0.00" font-family="Liberation Sans, Arial, sans-serif" font-size="25">(</tspan><tspan x="633.89" y="0.00" font-family="Liberation Serif, Times New Roman, serif" font-size="26.5" font-style="italic">ν</tspan><tspan x="644.14" y="6.73" font-family="Liberation Serif, Times New Roman, serif" font-size="16">1</tspan><tspan x="652.75" y="0.00" font-family="Liberation Serif, Times New Roman, serif" font-size="26.5">/</tspan><tspan x="664.49" y="0.00" font-family="Liberation Serif, Times New Roman, serif" font-size="26.5" font-style="italic">ν</tspan><tspan x="673.78" y="6.73" font-family="Liberation Serif, Times New Roman, serif" font-size="16">3</tspan><tspan x="683.50" y="0.00" font-family="Liberation Sans, Arial, sans-serif" font-size="25">)</tspan></text>
<text transform="translate(0,258.60) scale(1,1.04)" fill="#000" stroke="#000" stroke-width="0.35"><tspan x="831.05" y="0.00" font-family="Liberation Sans, Arial, sans-serif" font-size="25">H</tspan><tspan x="849.60" y="6.92" font-family="Liberation Sans, Arial, sans-serif" font-size="16">2</tspan><tspan x="859.66" y="0.00" font-family="Liberation Sans, Arial, sans-serif" font-size="25">S</tspan><tspan x="876.70" y="0.00" font-family="Liberation Sans, Arial, sans-serif" font-size="25"> </tspan><tspan x="883.85" y="0.00" font-family="Liberation Sans, Arial, sans-serif" font-size="25">(</tspan><tspan x="895.84" y="0.00" font-family="Liberation Serif, Times New Roman, serif" font-size="26.5" font-style="italic">ν</tspan><tspan x="905.70" y="6.73" font-family="Liberation Serif, Times New Roman, serif" font-size="16">2</tspan><tspan x="916.35" y="0.00" font-family="Liberation Sans, Arial, sans-serif" font-size="25">)</tspan></text>
<text transform="translate(0,554.40) scale(1,1.04)" fill="#000" stroke="#000" stroke-width="0.35"><tspan x="243.55" y="0.00" font-family="Liberation Sans, Arial, sans-serif" font-size="25">H</tspan><tspan x="262.10" y="6.92" font-family="Liberation Sans, Arial, sans-serif" font-size="16">2</tspan><tspan x="272.16" y="0.00" font-family="Liberation Sans, Arial, sans-serif" font-size="25">S</tspan></text>
<text transform="translate(0,594.60) scale(1,1.04)" fill="#000" stroke="#000" stroke-width="0.35"><tspan x="217.25" y="0.00" font-family="Liberation Sans, Arial, sans-serif" font-size="25">(</tspan><tspan x="230.44" y="0.00" font-family="Liberation Serif, Times New Roman, serif" font-size="26.5" font-style="italic">ν</tspan><tspan x="239.70" y="6.54" font-family="Liberation Serif, Times New Roman, serif" font-size="16">2</tspan><tspan x="247.38" y="0.58" font-family="Liberation Serif, Times New Roman, serif" font-size="28.5">+</tspan><tspan x="267.04" y="0.00" font-family="Liberation Serif, Times New Roman, serif" font-size="26.5" font-style="italic">ν</tspan><tspan x="275.59" y="6.54" font-family="Liberation Serif, Times New Roman, serif" font-size="16">1</tspan><tspan x="285.40" y="0.00" font-family="Liberation Serif, Times New Roman, serif" font-size="26.5">/</tspan><tspan x="297.04" y="0.00" font-family="Liberation Serif, Times New Roman, serif" font-size="26.5" font-style="italic">ν</tspan><tspan x="306.23" y="6.54" font-family="Liberation Serif, Times New Roman, serif" font-size="16">3</tspan><tspan x="315.85" y="0.00" font-family="Liberation Sans, Arial, sans-serif" font-size="25">)</tspan></text>
<text transform="translate(0,560.40) scale(1,1.04)" fill="#000" stroke="#000" stroke-width="0.35"><tspan x="410.15" y="0.00" font-family="Liberation Sans, Arial, sans-serif" font-size="25">H</tspan><tspan x="428.70" y="6.92" font-family="Liberation Sans, Arial, sans-serif" font-size="16">2</tspan><tspan x="438.76" y="0.00" font-family="Liberation Sans, Arial, sans-serif" font-size="25">S</tspan></text>
<text transform="translate(0,600.40) scale(1,1.04)" fill="#000" stroke="#000" stroke-width="0.35"><tspan x="382.65" y="0.00" font-family="Liberation Sans, Arial, sans-serif" font-size="25">(</tspan><tspan x="395.44" y="0.00" font-family="Liberation Serif, Times New Roman, serif" font-size="26.5" font-style="italic">ν</tspan><tspan x="405.19" y="6.54" font-family="Liberation Serif, Times New Roman, serif" font-size="16">1</tspan><tspan x="413.80" y="0.00" font-family="Liberation Serif, Times New Roman, serif" font-size="26.5">/</tspan><tspan x="425.84" y="0.00" font-family="Liberation Serif, Times New Roman, serif" font-size="26.5" font-style="italic">ν</tspan><tspan x="435.03" y="6.54" font-family="Liberation Serif, Times New Roman, serif" font-size="16">3</tspan><tspan x="443.71" y="0.00" font-family="Liberation Sans, Arial, sans-serif" font-size="26.5">+</tspan><tspan x="463.04" y="0.00" font-family="Liberation Serif, Times New Roman, serif" font-size="26.5" font-style="italic">ν</tspan><tspan x="472.23" y="6.54" font-family="Liberation Sans, Arial, sans-serif" font-size="16.5">T</tspan><tspan x="483.65" y="0.00" font-family="Liberation Sans, Arial, sans-serif" font-size="25">)</tspan></text>
<text transform="translate(0,442.40) scale(1,1.04)" fill="#000" stroke="#000" stroke-width="0.35"><tspan x="569.15" y="0.00" font-family="Liberation Sans, Arial, sans-serif" font-size="25">H</tspan><tspan x="587.70" y="6.92" font-family="Liberation Sans, Arial, sans-serif" font-size="16">2</tspan><tspan x="597.76" y="0.00" font-family="Liberation Sans, Arial, sans-serif" font-size="25">S</tspan><tspan x="614.80" y="0.00" font-family="Liberation Sans, Arial, sans-serif" font-size="25"> </tspan><tspan x="621.75" y="0.00" font-family="Liberation Sans, Arial, sans-serif" font-size="25">(</tspan><tspan x="633.89" y="0.00" font-family="Liberation Serif, Times New Roman, serif" font-size="26.5" font-style="italic">ν</tspan><tspan x="644.14" y="6.73" font-family="Liberation Serif, Times New Roman, serif" font-size="16">1</tspan><tspan x="652.75" y="0.00" font-family="Liberation Serif, Times New Roman, serif" font-size="26.5">/</tspan><tspan x="664.49" y="0.00" font-family="Liberation Serif, Times New Roman, serif" font-size="26.5" font-style="italic">ν</tspan><tspan x="673.78" y="6.73" font-family="Liberation Serif, Times New Roman, serif" font-size="16">3</tspan><tspan x="683.50" y="0.00" font-family="Liberation Sans, Arial, sans-serif" font-size="25">)</tspan></text>
<text transform="translate(0,607.60) scale(1,1.04)" fill="#000" stroke="#000" stroke-width="0.35"><tspan x="831.05" y="0.00" font-family="Liberation Sans, Arial, sans-serif" font-size="25">H</tspan><tspan x="849.60" y="6.92" font-family="Liberation Sans, Arial, sans-serif" font-size="16">2</tspan><tspan x="859.66" y="0.00" font-family="Liberation Sans, Arial, sans-serif" font-size="25">S</tspan><tspan x="876.70" y="0.00" font-family="Liberation Sans, Arial, sans-serif" font-size="25"> </tspan><tspan x="883.85" y="0.00" font-family="Liberation Sans, Arial, sans-serif" font-size="25">(</tspan><tspan x="895.84" y="0.00" font-family="Liberation Serif, Times New Roman, serif" font-size="26.5" font-style="italic">ν</tspan><tspan x="905.70" y="6.73" font-family="Liberation Serif, Times New Roman, serif" font-size="16">2</tspan><tspan x="916.35" y="0.00" font-family="Liberation Sans, Arial, sans-serif" font-size="25">)</tspan></text>
<text transform="translate(0,558.80) scale(1,1.04)" fill="#000" stroke="#000" stroke-width="0.35"><tspan x="598.15" y="0.00" font-family="Liberation Sans, Arial, sans-serif" font-size="25">H</tspan><tspan x="616.70" y="6.92" font-family="Liberation Sans, Arial, sans-serif" font-size="16">2</tspan><tspan x="626.76" y="0.00" font-family="Liberation Sans, Arial, sans-serif" font-size="25">S</tspan><tspan x="643.60" y="6.92" font-family="Liberation Sans, Arial, sans-serif" font-size="16">2</tspan><tspan x="652.80" y="0.00" font-family="Liberation Sans, Arial, sans-serif" font-size="25"> </tspan><tspan x="660.55" y="0.00" font-family="Liberation Sans, Arial, sans-serif" font-size="25">(</tspan><tspan x="672.84" y="0.00" font-family="Liberation Serif, Times New Roman, serif" font-size="26.5" font-style="italic">ν</tspan><tspan x="683.15" y="6.73" font-family="Liberation Serif, Times New Roman, serif" font-size="16" font-style="italic">5</tspan><tspan x="692.85" y="0.00" font-family="Liberation Sans, Arial, sans-serif" font-size="25">)</tspan></text>
<text transform="translate(0,605.30) scale(1,1.04)" fill="#000" stroke="#000" stroke-width="0.35"><tspan x="601.98" y="0.00" font-family="Liberation Serif, Times New Roman, serif" font-size="31" font-style="italic">ν</tspan><tspan x="612.03" y="0.00" font-family="Liberation Sans, Arial, sans-serif" font-size="28.5">(</tspan><tspan x="621.86" y="0.00" font-family="Liberation Sans, Arial, sans-serif" font-size="25">S</tspan><tspan x="639.95" y="0.00" font-family="Liberation Sans, Arial, sans-serif" font-size="25">H</tspan><tspan x="658.83" y="0.00" font-family="Liberation Sans, Arial, sans-serif" font-size="28.5">)</tspan></text>
<text transform="translate(0,894.40) scale(1,1.04)" fill="#000" stroke="#000" stroke-width="0.35"><tspan x="243.55" y="0.00" font-family="Liberation Sans, Arial, sans-serif" font-size="25">H</tspan><tspan x="262.10" y="6.92" font-family="Liberation Sans, Arial, sans-serif" font-size="16">2</tspan><tspan x="272.16" y="0.00" font-family="Liberation Sans, Arial, sans-serif" font-size="25">S</tspan></text>
<text transform="translate(0,934.60) scale(1,1.04)" fill="#000" stroke="#000" stroke-width="0.35"><tspan x="217.25" y="0.00" font-family="Liberation Sans, Arial, sans-serif" font-size="25">(</tspan><tspan x="230.44" y="0.00" font-family="Liberation Serif, Times New Roman, serif" font-size="26.5" font-style="italic">ν</tspan><tspan x="239.70" y="6.54" font-family="Liberation Serif, Times New Roman, serif" font-size="16">2</tspan><tspan x="247.38" y="0.58" font-family="Liberation Serif, Times New Roman, serif" font-size="28.5">+</tspan><tspan x="267.04" y="0.00" font-family="Liberation Serif, Times New Roman, serif" font-size="26.5" font-style="italic">ν</tspan><tspan x="275.59" y="6.54" font-family="Liberation Serif, Times New Roman, serif" font-size="16">1</tspan><tspan x="285.40" y="0.00" font-family="Liberation Serif, Times New Roman, serif" font-size="26.5">/</tspan><tspan x="297.04" y="0.00" font-family="Liberation Serif, Times New Roman, serif" font-size="26.5" font-style="italic">ν</tspan><tspan x="306.23" y="6.54" font-family="Liberation Serif, Times New Roman, serif" font-size="16">3</tspan><tspan x="315.85" y="0.00" font-family="Liberation Sans, Arial, sans-serif" font-size="25">)</tspan></text>
<text transform="translate(0,895.00) scale(1,1.04)" fill="#000" stroke="#000" stroke-width="0.35"><tspan x="410.15" y="0.00" font-family="Liberation Sans, Arial, sans-serif" font-size="25">H</tspan><tspan x="428.70" y="6.92" font-family="Liberation Sans, Arial, sans-serif" font-size="16">2</tspan><tspan x="438.76" y="0.00" font-family="Liberation Sans, Arial, sans-serif" font-size="25">S</tspan></text>
<text transform="translate(0,934.80) scale(1,1.04)" fill="#000" stroke="#000" stroke-width="0.35"><tspan x="382.65" y="0.00" font-family="Liberation Sans, Arial, sans-serif" font-size="25">(</tspan><tspan x="395.44" y="0.00" font-family="Liberation Serif, Times New Roman, serif" font-size="26.5" font-style="italic">ν</tspan><tspan x="405.19" y="6.54" font-family="Liberation Serif, Times New Roman, serif" font-size="16">1</tspan><tspan x="413.80" y="0.00" font-family="Liberation Serif, Times New Roman, serif" font-size="26.5">/</tspan><tspan x="425.84" y="0.00" font-family="Liberation Serif, Times New Roman, serif" font-size="26.5" font-style="italic">ν</tspan><tspan x="435.03" y="6.54" font-family="Liberation Serif, Times New Roman, serif" font-size="16">3</tspan><tspan x="443.71" y="0.00" font-family="Liberation Sans, Arial, sans-serif" font-size="26.5">+</tspan><tspan x="463.04" y="0.00" font-family="Liberation Serif, Times New Roman, serif" font-size="26.5" font-style="italic">ν</tspan><tspan x="472.23" y="6.54" font-family="Liberation Sans, Arial, sans-serif" font-size="16.5">T</tspan><tspan x="483.65" y="0.00" font-family="Liberation Sans, Arial, sans-serif" font-size="25">)</tspan></text>
<text transform="translate(0,794.70) scale(1,1.04)" fill="#000" stroke="#000" stroke-width="0.35"><tspan x="569.15" y="0.00" font-family="Liberation Sans, Arial, sans-serif" font-size="25">H</tspan><tspan x="587.70" y="6.92" font-family="Liberation Sans, Arial, sans-serif" font-size="16">2</tspan><tspan x="597.76" y="0.00" font-family="Liberation Sans, Arial, sans-serif" font-size="25">S</tspan><tspan x="614.80" y="0.00" font-family="Liberation Sans, Arial, sans-serif" font-size="25"> </tspan><tspan x="621.75" y="0.00" font-family="Liberation Sans, Arial, sans-serif" font-size="25">(</tspan><tspan x="633.89" y="0.00" font-family="Liberation Serif, Times New Roman, serif" font-size="26.5" font-style="italic">ν</tspan><tspan x="644.14" y="6.73" font-family="Liberation Serif, Times New Roman, serif" font-size="16">1</tspan><tspan x="652.75" y="0.00" font-family="Liberation Serif, Times New Roman, serif" font-size="26.5">/</tspan><tspan x="664.49" y="0.00" font-family="Liberation Serif, Times New Roman, serif" font-size="26.5" font-style="italic">ν</tspan><tspan x="673.78" y="6.73" font-family="Liberation Serif, Times New Roman, serif" font-size="16">3</tspan><tspan x="683.50" y="0.00" font-family="Liberation Sans, Arial, sans-serif" font-size="25">)</tspan></text>
<text transform="translate(0,948.00) scale(1,1.04)" fill="#000" stroke="#000" stroke-width="0.35"><tspan x="831.05" y="0.00" font-family="Liberation Sans, Arial, sans-serif" font-size="25">H</tspan><tspan x="849.60" y="6.92" font-family="Liberation Sans, Arial, sans-serif" font-size="16">2</tspan><tspan x="859.66" y="0.00" font-family="Liberation Sans, Arial, sans-serif" font-size="25">S</tspan><tspan x="876.70" y="0.00" font-family="Liberation Sans, Arial, sans-serif" font-size="25"> </tspan><tspan x="883.85" y="0.00" font-family="Liberation Sans, Arial, sans-serif" font-size="25">(</tspan><tspan x="895.84" y="0.00" font-family="Liberation Serif, Times New Roman, serif" font-size="26.5" font-style="italic">ν</tspan><tspan x="905.70" y="6.73" font-family="Liberation Serif, Times New Roman, serif" font-size="16">2</tspan><tspan x="916.35" y="0.00" font-family="Liberation Sans, Arial, sans-serif" font-size="25">)</tspan></text>
<text transform="translate(0,914.25) scale(1,1.04)" fill="#000" stroke="#000" stroke-width="0.35"><tspan x="598.15" y="0.00" font-family="Liberation Sans, Arial, sans-serif" font-size="25">H</tspan><tspan x="616.70" y="6.92" font-family="Liberation Sans, Arial, sans-serif" font-size="16">2</tspan><tspan x="626.76" y="0.00" font-family="Liberation Sans, Arial, sans-serif" font-size="25">S</tspan><tspan x="643.60" y="6.92" font-family="Liberation Sans, Arial, sans-serif" font-size="16">2</tspan><tspan x="652.80" y="0.00" font-family="Liberation Sans, Arial, sans-serif" font-size="25"> </tspan><tspan x="660.55" y="0.00" font-family="Liberation Sans, Arial, sans-serif" font-size="25">(</tspan><tspan x="672.84" y="0.00" font-family="Liberation Serif, Times New Roman, serif" font-size="26.5" font-style="italic">ν</tspan><tspan x="683.15" y="6.73" font-family="Liberation Serif, Times New Roman, serif" font-size="16" font-style="italic">5</tspan><tspan x="692.85" y="0.00" font-family="Liberation Sans, Arial, sans-serif" font-size="25">)</tspan></text>
<text transform="translate(0,960.75) scale(1,1.04)" fill="#000" stroke="#000" stroke-width="0.35"><tspan x="601.98" y="0.00" font-family="Liberation Serif, Times New Roman, serif" font-size="31" font-style="italic">ν</tspan><tspan x="612.03" y="0.00" font-family="Liberation Sans, Arial, sans-serif" font-size="28.5">(</tspan><tspan x="621.86" y="0.00" font-family="Liberation Sans, Arial, sans-serif" font-size="25">S</tspan><tspan x="639.95" y="0.00" font-family="Liberation Sans, Arial, sans-serif" font-size="25">H</tspan><tspan x="658.83" y="0.00" font-family="Liberation Sans, Arial, sans-serif" font-size="28.5">)</tspan></text>
<text transform="translate(0,1230.00) scale(1,1.04)" fill="#000" stroke="#000" stroke-width="0.35"><tspan x="243.55" y="0.00" font-family="Liberation Sans, Arial, sans-serif" font-size="25">H</tspan><tspan x="262.10" y="6.92" font-family="Liberation Sans, Arial, sans-serif" font-size="16">2</tspan><tspan x="272.16" y="0.00" font-family="Liberation Sans, Arial, sans-serif" font-size="25">S</tspan></text>
<text transform="translate(0,1270.40) scale(1,1.04)" fill="#000" stroke="#000" stroke-width="0.35"><tspan x="217.25" y="0.00" font-family="Liberation Sans, Arial, sans-serif" font-size="25">(</tspan><tspan x="230.44" y="0.00" font-family="Liberation Serif, Times New Roman, serif" font-size="26.5" font-style="italic">ν</tspan><tspan x="239.70" y="6.54" font-family="Liberation Serif, Times New Roman, serif" font-size="16">2</tspan><tspan x="247.38" y="0.58" font-family="Liberation Serif, Times New Roman, serif" font-size="28.5">+</tspan><tspan x="267.04" y="0.00" font-family="Liberation Serif, Times New Roman, serif" font-size="26.5" font-style="italic">ν</tspan><tspan x="275.59" y="6.54" font-family="Liberation Serif, Times New Roman, serif" font-size="16">1</tspan><tspan x="285.40" y="0.00" font-family="Liberation Serif, Times New Roman, serif" font-size="26.5">/</tspan><tspan x="297.04" y="0.00" font-family="Liberation Serif, Times New Roman, serif" font-size="26.5" font-style="italic">ν</tspan><tspan x="306.23" y="6.54" font-family="Liberation Serif, Times New Roman, serif" font-size="16">3</tspan><tspan x="315.85" y="0.00" font-family="Liberation Sans, Arial, sans-serif" font-size="25">)</tspan></text>
<text transform="translate(0,1236.90) scale(1,1.04)" fill="#000" stroke="#000" stroke-width="0.35"><tspan x="410.15" y="0.00" font-family="Liberation Sans, Arial, sans-serif" font-size="25">H</tspan><tspan x="428.70" y="6.92" font-family="Liberation Sans, Arial, sans-serif" font-size="16">2</tspan><tspan x="438.76" y="0.00" font-family="Liberation Sans, Arial, sans-serif" font-size="25">S</tspan></text>
<text transform="translate(0,1276.70) scale(1,1.04)" fill="#000" stroke="#000" stroke-width="0.35"><tspan x="382.65" y="0.00" font-family="Liberation Sans, Arial, sans-serif" font-size="25">(</tspan><tspan x="395.44" y="0.00" font-family="Liberation Serif, Times New Roman, serif" font-size="26.5" font-style="italic">ν</tspan><tspan x="405.19" y="6.54" font-family="Liberation Serif, Times New Roman, serif" font-size="16">1</tspan><tspan x="413.80" y="0.00" font-family="Liberation Serif, Times New Roman, serif" font-size="26.5">/</tspan><tspan x="425.84" y="0.00" font-family="Liberation Serif, Times New Roman, serif" font-size="26.5" font-style="italic">ν</tspan><tspan x="435.03" y="6.54" font-family="Liberation Serif, Times New Roman, serif" font-size="16">3</tspan><tspan x="443.71" y="0.00" font-family="Liberation Sans, Arial, sans-serif" font-size="26.5">+</tspan><tspan x="463.04" y="0.00" font-family="Liberation Serif, Times New Roman, serif" font-size="26.5" font-style="italic">ν</tspan><tspan x="472.23" y="6.54" font-family="Liberation Sans, Arial, sans-serif" font-size="16.5">T</tspan><tspan x="483.65" y="0.00" font-family="Liberation Sans, Arial, sans-serif" font-size="25">)</tspan></text>
<text transform="translate(0,1083.40) scale(1,1.04)" fill="#000" stroke="#000" stroke-width="0.35"><tspan x="569.15" y="0.00" font-family="Liberation Sans, Arial, sans-serif" font-size="25">H</tspan><tspan x="587.70" y="6.92" font-family="Liberation Sans, Arial, sans-serif" font-size="16">2</tspan><tspan x="597.76" y="0.00" font-family="Liberation Sans, Arial, sans-serif" font-size="25">S</tspan><tspan x="614.80" y="0.00" font-family="Liberation Sans, Arial, sans-serif" font-size="25"> </tspan><tspan x="621.75" y="0.00" font-family="Liberation Sans, Arial, sans-serif" font-size="25">(</tspan><tspan x="633.89" y="0.00" font-family="Liberation Serif, Times New Roman, serif" font-size="26.5" font-style="italic">ν</tspan><tspan x="644.14" y="6.73" font-family="Liberation Serif, Times New Roman, serif" font-size="16">1</tspan><tspan x="652.75" y="0.00" font-family="Liberation Serif, Times New Roman, serif" font-size="26.5">/</tspan><tspan x="664.49" y="0.00" font-family="Liberation Serif, Times New Roman, serif" font-size="26.5" font-style="italic">ν</tspan><tspan x="673.78" y="6.73" font-family="Liberation Serif, Times New Roman, serif" font-size="16">3</tspan><tspan x="683.50" y="0.00" font-family="Liberation Sans, Arial, sans-serif" font-size="25">)</tspan></text>
<text transform="translate(0,1286.00) scale(1,1.04)" fill="#000" stroke="#000" stroke-width="0.35"><tspan x="831.05" y="0.00" font-family="Liberation Sans, Arial, sans-serif" font-size="25">H</tspan><tspan x="849.60" y="6.92" font-family="Liberation Sans, Arial, sans-serif" font-size="16">2</tspan><tspan x="859.66" y="0.00" font-family="Liberation Sans, Arial, sans-serif" font-size="25">S</tspan><tspan x="876.70" y="0.00" font-family="Liberation Sans, Arial, sans-serif" font-size="25"> </tspan><tspan x="883.85" y="0.00" font-family="Liberation Sans, Arial, sans-serif" font-size="25">(</tspan><tspan x="895.84" y="0.00" font-family="Liberation Serif, Times New Roman, serif" font-size="26.5" font-style="italic">ν</tspan><tspan x="905.70" y="6.73" font-family="Liberation Serif, Times New Roman, serif" font-size="16">2</tspan><tspan x="916.35" y="0.00" font-family="Liberation Sans, Arial, sans-serif" font-size="25">)</tspan></text>
<text transform="translate(0,1213.80) scale(1,1.04)" fill="#000" stroke="#000" stroke-width="0.35"><tspan x="598.15" y="0.00" font-family="Liberation Sans, Arial, sans-serif" font-size="25">H</tspan><tspan x="616.70" y="6.92" font-family="Liberation Sans, Arial, sans-serif" font-size="16">2</tspan><tspan x="626.76" y="0.00" font-family="Liberation Sans, Arial, sans-serif" font-size="25">S</tspan><tspan x="643.60" y="6.92" font-family="Liberation Sans, Arial, sans-serif" font-size="16">2</tspan><tspan x="652.80" y="0.00" font-family="Liberation Sans, Arial, sans-serif" font-size="25"> </tspan><tspan x="660.55" y="0.00" font-family="Liberation Sans, Arial, sans-serif" font-size="25">(</tspan><tspan x="672.84" y="0.00" font-family="Liberation Serif, Times New Roman, serif" font-size="26.5" font-style="italic">ν</tspan><tspan x="683.15" y="6.73" font-family="Liberation Serif, Times New Roman, serif" font-size="16" font-style="italic">5</tspan><tspan x="692.85" y="0.00" font-family="Liberation Sans, Arial, sans-serif" font-size="25">)</tspan></text>
<text transform="translate(0,1260.30) scale(1,1.04)" fill="#000" stroke="#000" stroke-width="0.35"><tspan x="601.98" y="0.00" font-family="Liberation Serif, Times New Roman, serif" font-size="31" font-style="italic">ν</tspan><tspan x="612.03" y="0.00" font-family="Liberation Sans, Arial, sans-serif" font-size="28.5">(</tspan><tspan x="621.86" y="0.00" font-family="Liberation Sans, Arial, sans-serif" font-size="25">S</tspan><tspan x="639.95" y="0.00" font-family="Liberation Sans, Arial, sans-serif" font-size="25">H</tspan><tspan x="658.83" y="0.00" font-family="Liberation Sans, Arial, sans-serif" font-size="28.5">)</tspan></text>
<g stroke="#000" stroke-width="1.5" fill="none">
<path d="M276.2,266 L276.2,309.2"/>
<path d="M488.7,278.2 L503.6,314.2"/>
<path d="M572.3,80 L550.7,123.7"/>
<path d="M835.7,266.4 L835.7,309.4"/>
<path d="M276.0,606 L276.0,648"/>
<path d="M487.7,614.1 L502.6,649.3"/>
<path d="M572.8,444.8 L549.5,494"/>
<path d="M835.6,614.4 L835.6,657.6"/>
<path d="M577.9,603.6 L554.7,652.4"/>
<path d="M274.6,949 L274.6,991"/>
<path d="M485.5,954.4 L499.7,990.2"/>
<path d="M577.8,797.6 L554.6,846"/>
<path d="M835.6,953.6 L835.6,996.4"/>
<path d="M580.5,943.8 L557.6,992.4"/>
<path d="M275.1,1287 L275.1,1329"/>
<path d="M486.5,1302.4 L501.1,1338"/>
<path d="M563.5,1082.9 L540.1,1132.5"/>
<path d="M835.6,1291 L835.6,1334"/>
<path d="M591.0,1231.4 L568.2,1280.4"/>
</g>
</svg>
</body></html>
